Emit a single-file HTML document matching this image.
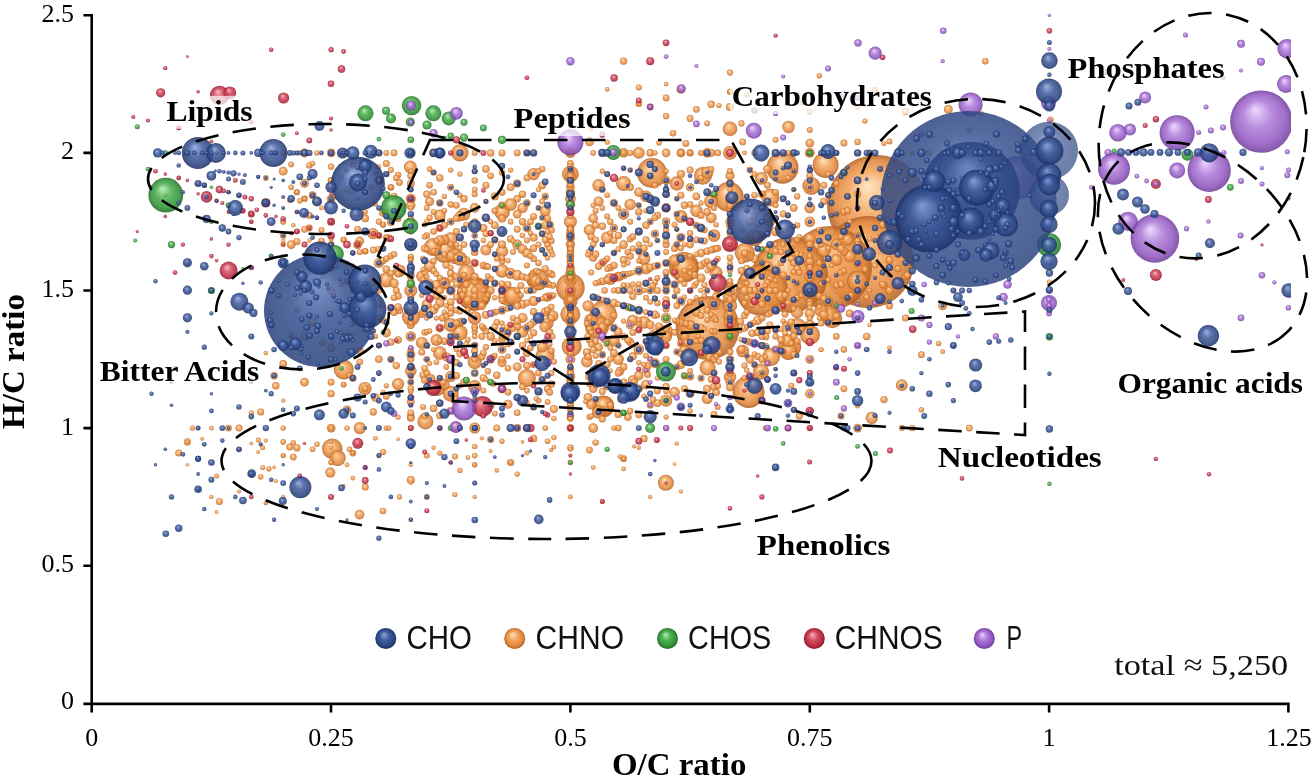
<!DOCTYPE html>
<html lang="en">
<head>
<meta charset="utf-8">
<title>Van Krevelen diagram</title>
<style>
html,body{margin:0;padding:0;background:#fff;}
body{width:1313px;height:781px;overflow:hidden;font-family:"Liberation Serif",serif;}
svg{display:block;}
.b{fill:url(#gb);fill-opacity:.86}
.B{fill:url(#gB);fill-opacity:.86}
.B2{fill:url(#gB2);fill-opacity:.85}
.B3{fill:url(#gB2);fill-opacity:.7}
.o{fill:url(#go);fill-opacity:.88}
.g{fill:url(#gg);fill-opacity:.88}
.r{fill:url(#gr);fill-opacity:.88}
.p{fill:url(#gp);fill-opacity:.85}
.tick{font-family:"Liberation Serif",serif;font-size:26px;fill:#000;}
.lab{font-family:"Liberation Serif",serif;font-weight:bold;font-size:30px;fill:#000;}
.axt{font-family:"Liberation Serif",serif;font-weight:bold;font-size:32px;fill:#000;}
.leg{font-family:"Liberation Sans",sans-serif;font-size:32.5px;fill:#111;}
.dash{fill:none;stroke:#000;stroke-width:2.6;stroke-dasharray:23.5 14.5;}
.ax{stroke:#000;stroke-width:2.6;fill:none;}
</style>
</head>
<body>
<svg width="1313" height="781" viewBox="0 0 1313 781">
<defs>
<radialGradient id="gb" cx=".5" cy=".5" r=".5" fx=".4" fy=".3"><stop offset="0" stop-color="#8aa4dc"/><stop offset=".45" stop-color="#3f5c9c"/><stop offset=".8" stop-color="#2a4583"/><stop offset="1" stop-color="#1b2e62"/></radialGradient>
<radialGradient id="gB2" cx=".5" cy=".5" r=".5" fx=".47" fy=".28"><stop offset="0" stop-color="#6681b9"/><stop offset=".5" stop-color="#3a5592"/><stop offset="1" stop-color="#2e4680"/></radialGradient>
<radialGradient id="gB" cx=".5" cy=".5" r=".5" fx=".46" fy=".25"><stop offset="0" stop-color="#6a86c0"/><stop offset=".5" stop-color="#36528f"/><stop offset="1" stop-color="#2a427c"/></radialGradient>
<radialGradient id="go" cx=".5" cy=".5" r=".5" fx=".4" fy=".3"><stop offset="0" stop-color="#ffe2ba"/><stop offset=".45" stop-color="#f3a45d"/><stop offset=".8" stop-color="#e0883f"/><stop offset="1" stop-color="#b26124"/></radialGradient>
<radialGradient id="gg" cx=".5" cy=".5" r=".5" fx=".4" fy=".3"><stop offset="0" stop-color="#b0ecb0"/><stop offset=".45" stop-color="#4bae4e"/><stop offset=".8" stop-color="#33933a"/><stop offset="1" stop-color="#216a27"/></radialGradient>
<radialGradient id="gr" cx=".5" cy=".5" r=".5" fx=".4" fy=".3"><stop offset="0" stop-color="#f9b0ba"/><stop offset=".45" stop-color="#d24c61"/><stop offset=".8" stop-color="#ba2d45"/><stop offset="1" stop-color="#861c30"/></radialGradient>
<radialGradient id="gp" cx=".5" cy=".5" r=".5" fx=".4" fy=".3"><stop offset="0" stop-color="#ead2fd"/><stop offset=".45" stop-color="#ac77d8"/><stop offset=".8" stop-color="#9156c0"/><stop offset="1" stop-color="#6b3b98"/></radialGradient>
<clipPath id="clip"><rect x="0" y="0" width="1291" height="781"/></clipPath>
</defs>
<rect width="1313" height="781" fill="#fff"/>

<g id="bubbles" clip-path="url(#clip)">
<circle class="o" cx="877.0" cy="205.0" r="50.0"/>
<circle class="o" cx="868.0" cy="262.0" r="46.0"/>
<circle class="o" cx="830.0" cy="268.0" r="42.0"/>
<circle class="o" cx="790.0" cy="275.0" r="38.0"/>
<circle class="o" cx="707.6" cy="328.0" r="32.0"/>
<circle class="o" cx="762.0" cy="290.0" r="26.0"/>
<circle class="o" cx="474.2" cy="293.8" r="17.0"/>
<circle class="o" cx="473.6" cy="294.0" r="16.6"/>
<circle class="o" cx="782.5" cy="167.7" r="16.0"/>
<circle class="o" cx="748.6" cy="392.0" r="16.0"/>
<circle class="o" cx="652.0" cy="173.0" r="15.0"/>
<circle class="o" cx="728.8" cy="197.0" r="15.0"/>
<circle class="o" cx="684.0" cy="267.0" r="15.0"/>
<circle class="o" cx="570.4" cy="287.7" r="14.3"/>
<circle class="o" cx="603.2" cy="314.3" r="13.5"/>
<circle class="o" cx="685.0" cy="269.0" r="13.5"/>
<circle class="o" cx="825.6" cy="165.0" r="13.0"/>
<circle class="o" cx="597.0" cy="326.6" r="12.0"/>
<circle class="o" cx="445.0" cy="251.5" r="11.5"/>
<circle class="o" cx="789.6" cy="347.0" r="11.5"/>
<circle class="o" cx="537.7" cy="279.5" r="11.0"/>
<circle class="o" cx="603.2" cy="406.4" r="11.0"/>
<circle class="o" cx="857.6" cy="281.3" r="10.6"/>
<circle class="o" cx="332.2" cy="448.8" r="10.2"/>
<circle class="o" cx="343.8" cy="369.5" r="10.0"/>
<circle class="o" cx="570.4" cy="314.3" r="10.0"/>
<circle class="o" cx="810.0" cy="334.8" r="10.0"/>
<circle class="o" cx="832.3" cy="318.3" r="10.0"/>
<circle class="o" cx="571.7" cy="346.5" r="10.0"/>
<circle class="o" cx="603.8" cy="406.0" r="10.0"/>
<circle class="o" cx="744.8" cy="252.7" r="10.0"/>
<circle class="o" cx="508.0" cy="296.5" r="9.5"/>
<circle class="o" cx="545.2" cy="355.7" r="9.4"/>
<circle class="o" cx="513.0" cy="296.0" r="9.2"/>
<circle class="o" cx="703.0" cy="175.7" r="9.0"/>
<circle class="o" cx="411.0" cy="317.0" r="9.0"/>
<circle class="o" cx="771.0" cy="357.0" r="9.0"/>
<circle class="o" cx="433.0" cy="247.0" r="9.0"/>
<circle class="o" cx="788.4" cy="351.2" r="9.0"/>
<circle class="o" cx="811.4" cy="186.0" r="9.0"/>
<circle class="o" cx="770.4" cy="197.6" r="9.0"/>
<circle class="o" cx="828.0" cy="314.0" r="9.0"/>
<circle class="o" cx="526.9" cy="378.1" r="9.0"/>
<circle class="o" cx="797.2" cy="326.7" r="8.8"/>
<circle class="o" cx="754.5" cy="237.6" r="8.6"/>
<circle class="o" cx="459.9" cy="152.9" r="8.6"/>
<circle class="o" cx="466.3" cy="272.6" r="8.4"/>
<circle class="o" cx="570.4" cy="174.1" r="8.4"/>
<circle class="o" cx="437.0" cy="388.0" r="8.0"/>
<circle class="o" cx="761.0" cy="371.6" r="8.0"/>
<circle class="o" cx="707.6" cy="367.5" r="8.0"/>
<circle class="o" cx="455.0" cy="256.0" r="8.0"/>
<circle class="o" cx="337.7" cy="458.0" r="8.0"/>
<circle class="o" cx="425.4" cy="421.4" r="8.0"/>
<circle class="o" cx="665.9" cy="482.8" r="8.0"/>
<circle class="o" cx="450.7" cy="393.7" r="7.9"/>
<circle class="o" cx="502.0" cy="211.9" r="7.9"/>
<circle class="o" cx="459.9" cy="332.8" r="7.7"/>
<circle class="o" cx="386.3" cy="279.9" r="7.6"/>
<circle class="o" cx="623.6" cy="183.5" r="7.5"/>
<circle class="o" cx="570.4" cy="301.1" r="7.3"/>
<circle class="o" cx="730.0" cy="128.8" r="7.3"/>
<circle class="o" cx="730.0" cy="297.1" r="7.3"/>
<circle class="o" cx="676.8" cy="183.5" r="7.2"/>
<circle class="o" cx="459.9" cy="258.7" r="7.2"/>
<circle class="o" cx="823.8" cy="250.0" r="7.1"/>
<circle class="o" cx="730.0" cy="305.8" r="7.1"/>
<circle class="o" cx="474.7" cy="362.1" r="7.1"/>
<circle class="o" cx="666.1" cy="331.8" r="7.1"/>
<circle class="o" cx="432.7" cy="386.7" r="7.0"/>
<circle class="o" cx="711.2" cy="201.5" r="7.0"/>
<circle class="o" cx="591.2" cy="320.4" r="7.0"/>
<circle class="o" cx="450.7" cy="324.9" r="7.0"/>
<circle class="o" cx="730.0" cy="152.9" r="6.9"/>
<circle class="o" cx="502.0" cy="270.8" r="6.9"/>
<circle class="o" cx="730.0" cy="316.0" r="6.8"/>
<circle class="o" cx="439.8" cy="353.0" r="6.8"/>
<circle class="o" cx="821.1" cy="310.2" r="6.7"/>
<circle class="o" cx="450.7" cy="238.9" r="6.7"/>
<circle class="o" cx="474.7" cy="386.8" r="6.7"/>
<circle class="o" cx="598.6" cy="411.9" r="6.7"/>
<circle class="o" cx="474.7" cy="318.0" r="6.7"/>
<circle class="o" cx="788.0" cy="340.5" r="6.7"/>
<circle class="o" cx="365.0" cy="388.5" r="6.6"/>
<circle class="o" cx="533.6" cy="279.9" r="6.6"/>
<circle class="o" cx="410.8" cy="290.5" r="6.5"/>
<circle class="o" cx="570.4" cy="221.7" r="6.5"/>
<circle class="o" cx="716.1" cy="272.6" r="6.5"/>
<circle class="o" cx="680.9" cy="216.4" r="6.4"/>
<circle class="o" cx="410.3" cy="167.0" r="6.4"/>
<circle class="o" cx="761.5" cy="178.4" r="6.4"/>
<circle class="o" cx="644.0" cy="322.3" r="6.4"/>
<circle class="o" cx="757.7" cy="236.7" r="6.4"/>
<circle class="o" cx="464.0" cy="214.1" r="6.4"/>
<circle class="o" cx="730.0" cy="244.6" r="6.4"/>
<circle class="o" cx="742.7" cy="351.0" r="6.3"/>
<circle class="o" cx="714.0" cy="235.5" r="6.3"/>
<circle class="o" cx="644.0" cy="258.7" r="6.3"/>
<circle class="o" cx="730.0" cy="377.1" r="6.3"/>
<circle class="o" cx="510.6" cy="204.5" r="6.3"/>
<circle class="o" cx="399.4" cy="270.8" r="6.3"/>
<circle class="o" cx="849.6" cy="256.1" r="6.2"/>
<circle class="o" cx="696.4" cy="210.8" r="6.2"/>
<circle class="o" cx="536.2" cy="280.7" r="6.2"/>
<circle class="o" cx="797.2" cy="312.2" r="6.2"/>
<circle class="o" cx="444.4" cy="283.3" r="6.2"/>
<circle class="o" cx="788.5" cy="127.0" r="6.2"/>
<circle class="o" cx="598.6" cy="185.3" r="6.2"/>
<circle class="o" cx="570.4" cy="280.7" r="6.2"/>
<circle class="o" cx="707.2" cy="172.6" r="6.2"/>
<circle class="o" cx="533.6" cy="174.1" r="6.2"/>
<circle class="o" cx="398.1" cy="384.1" r="6.1"/>
<circle class="o" cx="809.8" cy="238.9" r="6.1"/>
<circle class="o" cx="871.8" cy="417.9" r="6.1"/>
<circle class="o" cx="607.2" cy="237.6" r="6.1"/>
<circle class="o" cx="502.0" cy="251.2" r="6.1"/>
<circle class="o" cx="359.8" cy="428.1" r="6.1"/>
<circle class="o" cx="610.3" cy="279.0" r="6.1"/>
<circle class="o" cx="666.1" cy="400.6" r="6.1"/>
<circle class="o" cx="421.8" cy="342.7" r="6.0"/>
<circle class="o" cx="666.1" cy="336.4" r="6.0"/>
<circle class="o" cx="674.5" cy="260.6" r="6.0"/>
<circle class="o" cx="836.3" cy="259.9" r="6.0"/>
<circle class="o" cx="730.0" cy="323.3" r="6.0"/>
<circle class="o" cx="429.6" cy="379.5" r="6.0"/>
<circle class="o" cx="410.8" cy="244.6" r="6.0"/>
<circle class="o" cx="522.5" cy="331.8" r="5.9"/>
<circle class="o" cx="847.5" cy="239.8" r="5.9"/>
<circle class="o" cx="547.6" cy="323.3" r="5.9"/>
<circle class="o" cx="901.8" cy="385.2" r="5.9"/>
<circle class="o" cx="638.8" cy="152.9" r="5.9"/>
<circle class="o" cx="613.9" cy="340.5" r="5.9"/>
<circle class="o" cx="436.4" cy="340.0" r="5.9"/>
<circle class="o" cx="552.7" cy="316.0" r="5.8"/>
<circle class="o" cx="410.8" cy="370.8" r="5.8"/>
<circle class="o" cx="714.0" cy="304.3" r="5.8"/>
<circle class="o" cx="545.2" cy="326.7" r="5.8"/>
<circle class="o" cx="646.0" cy="196.4" r="5.8"/>
<circle class="o" cx="589.5" cy="230.0" r="5.8"/>
<circle class="o" cx="586.9" cy="361.7" r="5.8"/>
<circle class="o" cx="439.8" cy="215.4" r="5.8"/>
<circle class="o" cx="630.2" cy="204.5" r="5.7"/>
<circle class="o" cx="632.8" cy="320.4" r="5.7"/>
<circle class="o" cx="421.8" cy="276.3" r="5.7"/>
<circle class="o" cx="781.0" cy="296.0" r="5.7"/>
<circle class="o" cx="429.6" cy="266.2" r="5.7"/>
<circle class="o" cx="570.4" cy="290.5" r="5.6"/>
<circle class="o" cx="588.1" cy="305.8" r="5.6"/>
<circle class="o" cx="618.3" cy="359.3" r="5.6"/>
<circle class="o" cx="373.0" cy="233.6" r="5.6"/>
<circle class="o" cx="809.8" cy="263.0" r="5.6"/>
<circle class="o" cx="730.0" cy="290.5" r="5.6"/>
<circle class="o" cx="623.6" cy="214.1" r="5.6"/>
<circle class="o" cx="545.2" cy="210.8" r="5.5"/>
<circle class="o" cx="775.6" cy="270.8" r="5.5"/>
<circle class="o" cx="570.4" cy="175.8" r="5.5"/>
<circle class="o" cx="809.8" cy="290.5" r="5.5"/>
<circle class="o" cx="711.2" cy="217.7" r="5.5"/>
<circle class="o" cx="456.5" cy="426.9" r="5.5"/>
<circle class="o" cx="474.8" cy="428.0" r="5.5"/>
<circle class="o" cx="450.7" cy="376.5" r="5.5"/>
<circle class="o" cx="570.4" cy="302.0" r="5.5"/>
<circle class="o" cx="485.9" cy="250.0" r="5.5"/>
<circle class="o" cx="510.6" cy="273.3" r="5.5"/>
<circle class="o" cx="646.0" cy="268.8" r="5.5"/>
<circle class="o" cx="836.3" cy="244.6" r="5.5"/>
<circle class="o" cx="809.8" cy="276.7" r="5.5"/>
<circle class="o" cx="809.8" cy="207.9" r="5.4"/>
<circle class="o" cx="707.2" cy="398.6" r="5.4"/>
<circle class="o" cx="674.5" cy="392.2" r="5.4"/>
<circle class="o" cx="711.2" cy="266.2" r="5.4"/>
<circle class="o" cx="517.2" cy="275.2" r="5.4"/>
<circle class="o" cx="542.2" cy="347.2" r="5.3"/>
<circle class="o" cx="730.0" cy="336.4" r="5.3"/>
<circle class="o" cx="666.1" cy="318.0" r="5.3"/>
<circle class="o" cx="444.4" cy="384.6" r="5.3"/>
<circle class="o" cx="570.4" cy="198.8" r="5.3"/>
<circle class="o" cx="444.4" cy="239.8" r="5.3"/>
<circle class="o" cx="809.8" cy="221.7" r="5.3"/>
<circle class="o" cx="591.2" cy="404.2" r="5.2"/>
<circle class="o" cx="439.8" cy="240.5" r="5.2"/>
<circle class="o" cx="522.5" cy="207.9" r="5.2"/>
<circle class="o" cx="410.8" cy="336.4" r="5.2"/>
<circle class="o" cx="769.9" cy="221.7" r="5.2"/>
<circle class="o" cx="638.8" cy="349.5" r="5.2"/>
<circle class="o" cx="450.7" cy="256.1" r="5.2"/>
<circle class="o" cx="809.8" cy="313.4" r="5.2"/>
<circle class="o" cx="570.4" cy="321.1" r="5.2"/>
<circle class="o" cx="378.9" cy="263.0" r="5.1"/>
<circle class="o" cx="684.4" cy="349.5" r="5.1"/>
<circle class="o" cx="744.5" cy="290.5" r="5.1"/>
<circle class="o" cx="426.8" cy="304.3" r="5.1"/>
<circle class="o" cx="459.9" cy="216.4" r="5.1"/>
<circle class="o" cx="522.5" cy="318.0" r="5.1"/>
<circle class="o" cx="570.4" cy="273.3" r="5.1"/>
<circle class="o" cx="730.0" cy="198.8" r="5.1"/>
<circle class="o" cx="618.3" cy="276.7" r="5.0"/>
<circle class="o" cx="410.8" cy="198.8" r="5.0"/>
<circle class="o" cx="632.8" cy="380.2" r="5.0"/>
<circle class="o" cx="330.3" cy="472.6" r="5.0"/>
<circle class="o" cx="533.6" cy="301.1" r="5.0"/>
<circle class="o" cx="436.4" cy="285.0" r="5.0"/>
<circle class="o" cx="767.5" cy="266.2" r="5.0"/>
<circle class="o" cx="517.2" cy="244.6" r="5.0"/>
<circle class="o" cx="598.6" cy="201.5" r="5.0"/>
<circle class="o" cx="654.9" cy="363.3" r="5.0"/>
<circle class="o" cx="809.8" cy="324.9" r="5.0"/>
<circle class="o" cx="570.4" cy="152.9" r="5.0"/>
<circle class="o" cx="690.1" cy="324.9" r="5.0"/>
<circle class="o" cx="707.2" cy="152.9" r="4.9"/>
<circle class="o" cx="593.2" cy="428.1" r="4.9"/>
<circle class="o" cx="570.4" cy="359.3" r="4.9"/>
<circle class="o" cx="410.8" cy="310.2" r="4.9"/>
<circle class="o" cx="522.5" cy="249.2" r="4.9"/>
<circle class="o" cx="450.7" cy="290.5" r="4.9"/>
<circle class="o" cx="646.0" cy="384.6" r="4.9"/>
<circle class="o" cx="823.8" cy="314.8" r="4.9"/>
<circle class="o" cx="623.6" cy="152.9" r="4.9"/>
<circle class="o" cx="828.2" cy="301.1" r="4.9"/>
<circle class="o" cx="809.8" cy="152.9" r="4.9"/>
<circle class="o" cx="666.1" cy="207.9" r="4.8"/>
<circle class="o" cx="570.4" cy="376.5" r="4.8"/>
<circle class="o" cx="593.2" cy="218.4" r="4.8"/>
<circle class="o" cx="570.4" cy="204.5" r="4.8"/>
<circle class="o" cx="638.8" cy="375.7" r="4.8"/>
<circle class="o" cx="775.6" cy="231.5" r="4.8"/>
<circle class="o" cx="474.7" cy="207.9" r="4.8"/>
<circle class="o" cx="359.6" cy="514.6" r="4.8"/>
<circle class="o" cx="394.0" cy="283.3" r="4.8"/>
<circle class="o" cx="638.8" cy="290.5" r="4.8"/>
<circle class="o" cx="602.3" cy="327.2" r="4.8"/>
<circle class="o" cx="526.9" cy="253.0" r="4.8"/>
<circle class="o" cx="450.7" cy="359.3" r="4.8"/>
<circle class="o" cx="638.8" cy="192.2" r="4.7"/>
<circle class="o" cx="638.8" cy="270.8" r="4.7"/>
<circle class="o" cx="547.6" cy="297.1" r="4.7"/>
<circle class="o" cx="439.8" cy="303.0" r="4.7"/>
<circle class="o" cx="378.9" cy="180.4" r="4.7"/>
<circle class="o" cx="570.4" cy="192.2" r="4.7"/>
<circle class="o" cx="570.4" cy="336.4" r="4.7"/>
<circle class="o" cx="570.4" cy="244.6" r="4.7"/>
<circle class="o" cx="454.9" cy="399.6" r="4.7"/>
<circle class="o" cx="410.8" cy="205.3" r="4.7"/>
<circle class="o" cx="680.9" cy="301.1" r="4.7"/>
<circle class="o" cx="757.7" cy="320.4" r="4.7"/>
<circle class="o" cx="767.5" cy="217.7" r="4.7"/>
<circle class="o" cx="809.8" cy="393.7" r="4.7"/>
<circle class="o" cx="386.3" cy="332.8" r="4.6"/>
<circle class="o" cx="730.0" cy="221.7" r="4.6"/>
<circle class="o" cx="730.0" cy="175.8" r="4.6"/>
<circle class="o" cx="502.0" cy="362.6" r="4.6"/>
<circle class="o" cx="446.3" cy="356.8" r="4.6"/>
<circle class="o" cx="570.4" cy="318.0" r="4.6"/>
<circle class="o" cx="680.9" cy="237.6" r="4.6"/>
<circle class="o" cx="467.8" cy="300.3" r="4.6"/>
<circle class="o" cx="701.0" cy="278.0" r="4.6"/>
<circle class="o" cx="775.6" cy="310.2" r="4.6"/>
<circle class="o" cx="684.4" cy="336.4" r="4.6"/>
<circle class="o" cx="429.6" cy="201.5" r="4.6"/>
<circle class="o" cx="545.2" cy="312.2" r="4.6"/>
<circle class="o" cx="674.5" cy="272.6" r="4.5"/>
<circle class="o" cx="517.2" cy="366.9" r="4.5"/>
<circle class="o" cx="508.0" cy="404.2" r="4.5"/>
<circle class="o" cx="809.8" cy="261.0" r="4.5"/>
<circle class="o" cx="638.8" cy="310.2" r="4.5"/>
<circle class="o" cx="809.8" cy="187.3" r="4.5"/>
<circle class="o" cx="522.5" cy="304.3" r="4.5"/>
<circle class="o" cx="650.2" cy="324.9" r="4.5"/>
<circle class="o" cx="709.4" cy="357.1" r="4.5"/>
<circle class="o" cx="570.4" cy="345.5" r="4.5"/>
<circle class="o" cx="588.1" cy="397.5" r="4.5"/>
<circle class="o" cx="696.4" cy="312.2" r="4.5"/>
<circle class="o" cx="843.9" cy="251.2" r="4.5"/>
<circle class="o" cx="410.8" cy="354.7" r="4.5"/>
<circle class="o" cx="570.4" cy="237.6" r="4.5"/>
<circle class="o" cx="701.0" cy="228.0" r="4.4"/>
<circle class="o" cx="680.9" cy="364.6" r="4.4"/>
<circle class="o" cx="570.4" cy="235.5" r="4.4"/>
<circle class="o" cx="526.9" cy="328.0" r="4.4"/>
<circle class="o" cx="433.6" cy="152.9" r="4.4"/>
<circle class="o" cx="517.2" cy="214.1" r="4.4"/>
<circle class="o" cx="433.6" cy="310.2" r="4.4"/>
<circle class="o" cx="526.9" cy="228.0" r="4.4"/>
<circle class="o" cx="746.8" cy="210.8" r="4.4"/>
<circle class="o" cx="459.9" cy="322.3" r="4.4"/>
<circle class="o" cx="809.8" cy="359.3" r="4.4"/>
<circle class="o" cx="331.1" cy="428.1" r="4.4"/>
<circle class="o" cx="347.0" cy="409.8" r="4.4"/>
<circle class="o" cx="352.8" cy="190.4" r="4.4"/>
<circle class="o" cx="365.2" cy="310.2" r="4.4"/>
<circle class="o" cx="312.6" cy="258.7" r="4.4"/>
<circle class="o" cx="291.2" cy="244.6" r="4.4"/>
<circle class="o" cx="343.6" cy="152.9" r="4.4"/>
<circle class="o" cx="347.0" cy="336.4" r="4.4"/>
<circle class="o" cx="331.1" cy="290.5" r="4.4"/>
<circle class="o" cx="304.5" cy="336.4" r="4.4"/>
<circle class="o" cx="312.6" cy="322.3" r="4.4"/>
<circle class="o" cx="304.5" cy="152.9" r="4.4"/>
<circle class="o" cx="304.5" cy="382.2" r="4.4"/>
<circle class="o" cx="365.2" cy="310.2" r="4.4"/>
<circle class="o" cx="948.3" cy="109.4" r="4.4"/>
<circle class="o" cx="809.8" cy="143.1" r="4.4"/>
<circle class="o" cx="962.1" cy="152.9" r="4.4"/>
<circle class="o" cx="680.9" cy="89.4" r="4.4"/>
<circle class="o" cx="589.5" cy="141.9" r="4.4"/>
<circle class="o" cx="942.7" cy="305.8" r="4.4"/>
<circle class="o" cx="857.6" cy="428.1" r="4.4"/>
<circle class="o" cx="304.5" cy="183.5" r="4.4"/>
<circle class="o" cx="283.2" cy="171.2" r="4.4"/>
<circle class="o" cx="359.8" cy="241.0" r="4.4"/>
<circle class="o" cx="357.6" cy="244.6" r="4.4"/>
<circle class="o" cx="331.1" cy="198.8" r="4.4"/>
<circle class="o" cx="439.8" cy="328.0" r="4.4"/>
<circle class="o" cx="754.5" cy="258.7" r="4.4"/>
<circle class="o" cx="767.5" cy="169.1" r="4.4"/>
<circle class="o" cx="630.2" cy="324.9" r="4.4"/>
<circle class="o" cx="730.0" cy="382.2" r="4.4"/>
<circle class="o" cx="502.0" cy="388.8" r="4.4"/>
<circle class="o" cx="666.1" cy="180.4" r="4.4"/>
<circle class="o" cx="410.8" cy="152.9" r="4.4"/>
<circle class="o" cx="598.6" cy="347.2" r="4.4"/>
<circle class="o" cx="619.9" cy="371.2" r="4.4"/>
<circle class="o" cx="474.7" cy="281.3" r="4.4"/>
<circle class="o" cx="607.2" cy="385.8" r="4.4"/>
<circle class="o" cx="317.0" cy="201.5" r="4.3"/>
<circle class="o" cx="474.7" cy="290.5" r="4.3"/>
<circle class="o" cx="331.1" cy="152.9" r="4.3"/>
<circle class="o" cx="570.4" cy="318.0" r="4.3"/>
<circle class="o" cx="666.1" cy="152.9" r="4.3"/>
<circle class="o" cx="613.9" cy="328.0" r="4.3"/>
<circle class="o" cx="570.4" cy="267.6" r="4.3"/>
<circle class="o" cx="490.6" cy="336.4" r="4.3"/>
<circle class="o" cx="666.1" cy="281.3" r="4.3"/>
<circle class="o" cx="502.0" cy="349.5" r="4.3"/>
<circle class="o" cx="749.9" cy="359.3" r="4.3"/>
<circle class="o" cx="771.1" cy="277.2" r="4.3"/>
<circle class="o" cx="331.1" cy="347.8" r="4.3"/>
<circle class="o" cx="474.7" cy="263.0" r="4.3"/>
<circle class="o" cx="638.8" cy="388.8" r="4.3"/>
<circle class="o" cx="466.3" cy="260.6" r="4.3"/>
<circle class="o" cx="741.4" cy="349.5" r="4.3"/>
<circle class="o" cx="654.9" cy="314.8" r="4.3"/>
<circle class="o" cx="439.8" cy="290.5" r="4.3"/>
<circle class="o" cx="680.9" cy="322.3" r="4.3"/>
<circle class="o" cx="680.9" cy="152.9" r="4.3"/>
<circle class="o" cx="375.4" cy="397.5" r="4.3"/>
<circle class="o" cx="623.6" cy="244.6" r="4.3"/>
<circle class="o" cx="613.9" cy="303.0" r="4.3"/>
<circle class="o" cx="701.0" cy="253.0" r="4.3"/>
<circle class="o" cx="690.1" cy="393.7" r="4.3"/>
<circle class="o" cx="570.4" cy="187.3" r="4.3"/>
<circle class="o" cx="749.9" cy="256.1" r="4.3"/>
<circle class="o" cx="749.9" cy="221.7" r="4.3"/>
<circle class="o" cx="309.3" cy="253.0" r="4.3"/>
<circle class="o" cx="618.3" cy="331.8" r="4.3"/>
<circle class="o" cx="880.1" cy="201.5" r="4.3"/>
<circle class="o" cx="714.0" cy="318.0" r="4.2"/>
<circle class="o" cx="570.4" cy="382.2" r="4.2"/>
<circle class="o" cx="613.9" cy="228.0" r="4.2"/>
<circle class="o" cx="490.6" cy="290.5" r="4.2"/>
<circle class="o" cx="593.2" cy="388.8" r="4.2"/>
<circle class="o" cx="549.6" cy="224.7" r="4.2"/>
<circle class="o" cx="613.9" cy="202.9" r="4.2"/>
<circle class="o" cx="517.2" cy="326.2" r="4.2"/>
<circle class="o" cx="650.2" cy="267.6" r="4.2"/>
<circle class="o" cx="410.8" cy="221.7" r="4.2"/>
<circle class="o" cx="502.0" cy="310.2" r="4.2"/>
<circle class="o" cx="553.9" cy="409.1" r="4.2"/>
<circle class="o" cx="746.8" cy="239.8" r="4.2"/>
<circle class="o" cx="481.8" cy="305.8" r="4.2"/>
<circle class="o" cx="711.2" cy="152.9" r="4.2"/>
<circle class="o" cx="701.0" cy="353.0" r="4.2"/>
<circle class="o" cx="730.0" cy="359.3" r="4.1"/>
<circle class="o" cx="410.8" cy="305.8" r="4.1"/>
<circle class="o" cx="746.8" cy="254.3" r="4.1"/>
<circle class="o" cx="383.1" cy="212.7" r="4.1"/>
<circle class="o" cx="533.6" cy="237.6" r="4.1"/>
<circle class="o" cx="857.6" cy="263.0" r="4.1"/>
<circle class="o" cx="701.0" cy="265.5" r="4.1"/>
<circle class="o" cx="570.4" cy="305.8" r="4.1"/>
<circle class="o" cx="889.5" cy="290.5" r="4.1"/>
<circle class="o" cx="730.0" cy="207.9" r="4.1"/>
<circle class="o" cx="490.6" cy="405.2" r="4.1"/>
<circle class="o" cx="761.9" cy="207.9" r="4.1"/>
<circle class="o" cx="485.9" cy="314.8" r="4.1"/>
<circle class="o" cx="674.5" cy="284.5" r="4.1"/>
<circle class="o" cx="570.4" cy="329.8" r="4.1"/>
<circle class="o" cx="619.9" cy="276.3" r="4.1"/>
<circle class="o" cx="654.9" cy="201.5" r="4.1"/>
<circle class="o" cx="680.9" cy="174.1" r="4.1"/>
<circle class="o" cx="623.6" cy="275.2" r="4.1"/>
<circle class="o" cx="517.2" cy="428.1" r="4.1"/>
<circle class="o" cx="707.2" cy="388.8" r="4.1"/>
<circle class="o" cx="654.9" cy="233.8" r="4.1"/>
<circle class="o" cx="526.9" cy="353.0" r="4.1"/>
<circle class="o" cx="390.9" cy="221.7" r="4.1"/>
<circle class="o" cx="570.4" cy="397.5" r="4.1"/>
<circle class="o" cx="666.1" cy="221.7" r="4.1"/>
<circle class="o" cx="690.1" cy="187.3" r="4.1"/>
<circle class="o" cx="730.0" cy="107.0" r="4.1"/>
<circle class="o" cx="570.4" cy="328.0" r="4.1"/>
<circle class="o" cx="502.0" cy="218.4" r="4.1"/>
<circle class="o" cx="370.9" cy="279.0" r="4.0"/>
<circle class="o" cx="632.8" cy="356.3" r="4.0"/>
<circle class="o" cx="517.2" cy="305.8" r="4.0"/>
<circle class="o" cx="483.4" cy="228.0" r="4.0"/>
<circle class="o" cx="775.6" cy="349.5" r="4.0"/>
<circle class="o" cx="613.9" cy="278.0" r="4.0"/>
<circle class="o" cx="593.2" cy="257.7" r="4.0"/>
<circle class="o" cx="410.8" cy="183.5" r="4.0"/>
<circle class="o" cx="410.8" cy="275.2" r="4.0"/>
<circle class="o" cx="410.8" cy="324.9" r="4.0"/>
<circle class="o" cx="517.2" cy="183.5" r="4.0"/>
<circle class="o" cx="841.0" cy="248.6" r="4.0"/>
<circle class="o" cx="502.0" cy="244.6" r="4.0"/>
<circle class="o" cx="714.0" cy="194.2" r="4.0"/>
<circle class="o" cx="410.8" cy="480.0" r="4.0"/>
<circle class="o" cx="730.0" cy="183.5" r="4.0"/>
<circle class="o" cx="586.9" cy="352.2" r="4.0"/>
<circle class="o" cx="666.1" cy="263.0" r="4.0"/>
<circle class="o" cx="570.4" cy="256.1" r="4.0"/>
<circle class="o" cx="809.8" cy="244.6" r="4.0"/>
<circle class="o" cx="570.4" cy="269.3" r="4.0"/>
<circle class="o" cx="690.1" cy="376.5" r="4.0"/>
<circle class="o" cx="570.4" cy="194.2" r="4.0"/>
<circle class="o" cx="365.2" cy="162.7" r="4.0"/>
<circle class="o" cx="630.2" cy="342.1" r="4.0"/>
<circle class="o" cx="570.4" cy="233.2" r="4.0"/>
<circle class="o" cx="602.3" cy="263.0" r="4.0"/>
<circle class="o" cx="331.1" cy="256.1" r="4.0"/>
<circle class="o" cx="494.8" cy="196.4" r="3.9"/>
<circle class="o" cx="474.7" cy="373.1" r="3.9"/>
<circle class="o" cx="730.0" cy="387.3" r="3.9"/>
<circle class="o" cx="474.7" cy="299.7" r="3.9"/>
<circle class="o" cx="744.5" cy="278.0" r="3.9"/>
<circle class="o" cx="542.2" cy="185.3" r="3.9"/>
<circle class="o" cx="474.7" cy="252.0" r="3.9"/>
<circle class="o" cx="659.0" cy="336.4" r="3.9"/>
<circle class="o" cx="545.2" cy="225.3" r="3.9"/>
<circle class="o" cx="657.4" cy="403.1" r="3.9"/>
<circle class="o" cx="450.7" cy="410.9" r="3.9"/>
<circle class="o" cx="570.4" cy="195.2" r="3.9"/>
<circle class="o" cx="474.7" cy="276.7" r="3.9"/>
<circle class="o" cx="719.0" cy="352.2" r="3.9"/>
<circle class="o" cx="843.9" cy="172.6" r="3.9"/>
<circle class="o" cx="716.1" cy="296.5" r="3.9"/>
<circle class="o" cx="761.9" cy="235.5" r="3.9"/>
<circle class="o" cx="765.4" cy="336.4" r="3.9"/>
<circle class="o" cx="439.8" cy="228.0" r="3.9"/>
<circle class="o" cx="690.1" cy="221.7" r="3.9"/>
<circle class="o" cx="740.3" cy="321.6" r="3.9"/>
<circle class="o" cx="889.5" cy="259.9" r="3.9"/>
<circle class="o" cx="613.9" cy="353.0" r="3.9"/>
<circle class="o" cx="312.6" cy="195.2" r="3.9"/>
<circle class="o" cx="410.8" cy="366.9" r="3.9"/>
<circle class="o" cx="602.3" cy="281.3" r="3.9"/>
<circle class="o" cx="666.1" cy="290.5" r="3.9"/>
<circle class="o" cx="386.3" cy="269.3" r="3.8"/>
<circle class="o" cx="570.4" cy="180.4" r="3.8"/>
<circle class="o" cx="714.0" cy="345.5" r="3.8"/>
<circle class="o" cx="793.8" cy="152.9" r="3.8"/>
<circle class="o" cx="436.4" cy="296.0" r="3.8"/>
<circle class="o" cx="450.7" cy="221.7" r="3.8"/>
<circle class="o" cx="646.0" cy="370.2" r="3.8"/>
<circle class="o" cx="570.4" cy="279.9" r="3.8"/>
<circle class="o" cx="783.2" cy="275.2" r="3.8"/>
<circle class="o" cx="610.3" cy="267.6" r="3.8"/>
<circle class="o" cx="378.9" cy="359.3" r="3.8"/>
<circle class="o" cx="604.6" cy="339.6" r="3.8"/>
<circle class="o" cx="551.3" cy="318.0" r="3.8"/>
<circle class="o" cx="570.4" cy="428.1" r="3.8"/>
<circle class="o" cx="502.0" cy="297.1" r="3.8"/>
<circle class="o" cx="538.5" cy="318.0" r="3.8"/>
<circle class="o" cx="638.8" cy="231.5" r="3.8"/>
<circle class="o" cx="359.8" cy="351.0" r="3.8"/>
<circle class="o" cx="398.1" cy="296.0" r="3.8"/>
<circle class="o" cx="841.0" cy="284.5" r="3.8"/>
<circle class="o" cx="466.3" cy="284.5" r="3.8"/>
<circle class="o" cx="410.8" cy="416.6" r="3.8"/>
<circle class="o" cx="446.3" cy="265.0" r="3.8"/>
<circle class="o" cx="588.1" cy="356.8" r="3.8"/>
<circle class="o" cx="570.4" cy="170.1" r="3.8"/>
<circle class="o" cx="730.0" cy="366.9" r="3.8"/>
<circle class="o" cx="793.8" cy="207.9" r="3.8"/>
<circle class="o" cx="657.4" cy="265.5" r="3.8"/>
<circle class="o" cx="685.9" cy="342.7" r="3.8"/>
<circle class="o" cx="690.1" cy="244.6" r="3.8"/>
<circle class="o" cx="421.8" cy="314.2" r="3.8"/>
<circle class="o" cx="613.9" cy="265.5" r="3.8"/>
<circle class="o" cx="547.6" cy="283.9" r="3.8"/>
<circle class="o" cx="526.9" cy="365.6" r="3.8"/>
<circle class="o" cx="646.0" cy="283.3" r="3.8"/>
<circle class="o" cx="570.4" cy="229.3" r="3.8"/>
<circle class="o" cx="696.4" cy="196.4" r="3.8"/>
<circle class="o" cx="454.9" cy="276.3" r="3.8"/>
<circle class="o" cx="595.6" cy="225.3" r="3.8"/>
<circle class="o" cx="462.3" cy="321.6" r="3.8"/>
<circle class="o" cx="570.4" cy="304.3" r="3.8"/>
<circle class="o" cx="522.5" cy="276.7" r="3.8"/>
<circle class="o" cx="410.8" cy="417.9" r="3.8"/>
<circle class="o" cx="707.2" cy="211.9" r="3.8"/>
<circle class="o" cx="502.0" cy="205.3" r="3.8"/>
<circle class="o" cx="730.0" cy="373.1" r="3.8"/>
<circle class="o" cx="474.7" cy="226.3" r="3.8"/>
<circle class="o" cx="283.2" cy="363.9" r="3.8"/>
<circle class="o" cx="508.0" cy="332.4" r="3.8"/>
<circle class="o" cx="746.8" cy="268.8" r="3.8"/>
<circle class="o" cx="410.8" cy="308.8" r="3.8"/>
<circle class="o" cx="659.0" cy="326.2" r="3.8"/>
<circle class="o" cx="394.0" cy="312.2" r="3.8"/>
<circle class="o" cx="634.2" cy="382.2" r="3.8"/>
<circle class="o" cx="650.2" cy="152.9" r="3.8"/>
<circle class="o" cx="791.3" cy="322.3" r="3.8"/>
<circle class="o" cx="623.6" cy="259.9" r="3.8"/>
<circle class="o" cx="423.1" cy="311.7" r="3.8"/>
<circle class="o" cx="538.5" cy="226.3" r="3.8"/>
<circle class="o" cx="744.5" cy="253.0" r="3.8"/>
<circle class="o" cx="714.0" cy="359.3" r="3.8"/>
<circle class="o" cx="730.0" cy="205.3" r="3.8"/>
<circle class="o" cx="570.4" cy="180.4" r="3.8"/>
<circle class="o" cx="704.4" cy="351.0" r="3.8"/>
<circle class="o" cx="442.7" cy="382.2" r="3.8"/>
<circle class="o" cx="485.9" cy="169.1" r="3.8"/>
<circle class="o" cx="464.0" cy="382.2" r="3.8"/>
<circle class="o" cx="352.8" cy="378.1" r="3.8"/>
<circle class="o" cx="680.9" cy="343.4" r="3.8"/>
<circle class="o" cx="549.6" cy="332.4" r="3.8"/>
<circle class="o" cx="647.6" cy="366.0" r="3.8"/>
<circle class="o" cx="836.3" cy="316.0" r="3.8"/>
<circle class="o" cx="761.9" cy="272.2" r="3.8"/>
<circle class="o" cx="551.3" cy="296.0" r="3.8"/>
<circle class="o" cx="483.4" cy="378.1" r="3.8"/>
<circle class="o" cx="618.3" cy="414.3" r="3.8"/>
<circle class="o" cx="494.8" cy="225.3" r="3.8"/>
<circle class="o" cx="680.9" cy="152.9" r="3.8"/>
<circle class="o" cx="754.5" cy="290.5" r="3.8"/>
<circle class="o" cx="410.8" cy="401.9" r="3.8"/>
<circle class="o" cx="450.7" cy="302.0" r="3.8"/>
<circle class="o" cx="793.8" cy="336.4" r="3.8"/>
<circle class="o" cx="666.1" cy="304.3" r="3.8"/>
<circle class="o" cx="761.9" cy="263.0" r="3.8"/>
<circle class="o" cx="623.6" cy="366.9" r="3.8"/>
<circle class="o" cx="533.6" cy="311.7" r="3.8"/>
<circle class="o" cx="849.6" cy="313.4" r="3.8"/>
<circle class="o" cx="424.7" cy="248.6" r="3.8"/>
<circle class="o" cx="398.1" cy="340.0" r="3.8"/>
<circle class="o" cx="690.1" cy="359.3" r="3.8"/>
<circle class="o" cx="716.1" cy="392.2" r="3.8"/>
<circle class="o" cx="510.6" cy="187.3" r="3.8"/>
<circle class="o" cx="650.2" cy="290.5" r="3.8"/>
<circle class="o" cx="365.2" cy="218.4" r="3.8"/>
<circle class="o" cx="542.2" cy="379.5" r="3.8"/>
<circle class="o" cx="694.5" cy="275.2" r="3.8"/>
<circle class="o" cx="570.4" cy="303.0" r="3.8"/>
<circle class="o" cx="744.5" cy="328.0" r="3.8"/>
<circle class="o" cx="623.6" cy="382.2" r="3.8"/>
<circle class="o" cx="517.2" cy="321.1" r="3.8"/>
<circle class="o" cx="627.8" cy="417.1" r="3.8"/>
<circle class="o" cx="765.4" cy="346.6" r="3.8"/>
<circle class="o" cx="456.4" cy="323.3" r="3.7"/>
<circle class="o" cx="680.9" cy="258.7" r="3.7"/>
<circle class="o" cx="761.9" cy="194.2" r="3.7"/>
<circle class="o" cx="547.6" cy="388.8" r="3.7"/>
<circle class="o" cx="761.9" cy="331.8" r="3.7"/>
<circle class="o" cx="424.7" cy="272.6" r="3.7"/>
<circle class="o" cx="570.4" cy="259.9" r="3.7"/>
<circle class="o" cx="781.0" cy="340.0" r="3.7"/>
<circle class="o" cx="522.5" cy="221.7" r="3.7"/>
<circle class="o" cx="730.0" cy="226.3" r="3.7"/>
<circle class="o" cx="882.6" cy="224.7" r="3.7"/>
<circle class="o" cx="676.8" cy="321.1" r="3.7"/>
<circle class="o" cx="595.6" cy="326.7" r="3.7"/>
<circle class="o" cx="274.1" cy="375.7" r="3.7"/>
<circle class="o" cx="275.8" cy="385.8" r="3.7"/>
<circle class="o" cx="630.2" cy="187.3" r="3.7"/>
<circle class="o" cx="444.4" cy="341.2" r="3.7"/>
<circle class="o" cx="741.4" cy="270.8" r="3.7"/>
<circle class="o" cx="769.9" cy="279.0" r="3.7"/>
<circle class="o" cx="570.4" cy="331.8" r="3.7"/>
<circle class="o" cx="819.3" cy="296.0" r="3.7"/>
<circle class="o" cx="378.9" cy="304.3" r="3.7"/>
<circle class="o" cx="570.4" cy="299.7" r="3.7"/>
<circle class="o" cx="730.0" cy="299.7" r="3.7"/>
<circle class="o" cx="602.3" cy="226.3" r="3.7"/>
<circle class="o" cx="769.9" cy="290.5" r="3.7"/>
<circle class="o" cx="595.6" cy="254.3" r="3.7"/>
<circle class="o" cx="884.0" cy="285.8" r="3.7"/>
<circle class="o" cx="439.8" cy="202.9" r="3.7"/>
<circle class="o" cx="396.3" cy="365.6" r="3.7"/>
<circle class="o" cx="570.4" cy="388.8" r="3.7"/>
<circle class="o" cx="866.7" cy="336.4" r="3.7"/>
<circle class="o" cx="809.8" cy="302.0" r="3.7"/>
<circle class="o" cx="464.0" cy="351.7" r="3.7"/>
<circle class="o" cx="494.8" cy="283.3" r="3.7"/>
<circle class="o" cx="638.8" cy="211.9" r="3.7"/>
<circle class="o" cx="588.1" cy="336.4" r="3.7"/>
<circle class="o" cx="767.5" cy="201.5" r="3.7"/>
<circle class="o" cx="754.5" cy="301.1" r="3.7"/>
<circle class="o" cx="788.0" cy="253.0" r="3.7"/>
<circle class="o" cx="442.7" cy="318.0" r="3.7"/>
<circle class="o" cx="522.5" cy="194.2" r="3.7"/>
<circle class="o" cx="483.4" cy="403.1" r="3.7"/>
<circle class="o" cx="717.7" cy="279.9" r="3.7"/>
<circle class="o" cx="809.8" cy="152.9" r="3.7"/>
<circle class="o" cx="570.4" cy="378.1" r="3.7"/>
<circle class="o" cx="490.6" cy="313.4" r="3.7"/>
<circle class="o" cx="439.8" cy="177.9" r="3.7"/>
<circle class="o" cx="591.2" cy="236.7" r="3.7"/>
<circle class="o" cx="684.4" cy="205.3" r="3.7"/>
<circle class="o" cx="481.8" cy="356.8" r="3.7"/>
<circle class="o" cx="502.0" cy="339.6" r="3.7"/>
<circle class="o" cx="483.4" cy="265.5" r="3.7"/>
<circle class="o" cx="410.8" cy="267.6" r="3.7"/>
<circle class="o" cx="666.1" cy="386.8" r="3.7"/>
<circle class="o" cx="533.6" cy="322.3" r="3.7"/>
<circle class="o" cx="823.8" cy="152.9" r="3.7"/>
<circle class="o" cx="423.1" cy="375.2" r="3.7"/>
<circle class="o" cx="843.9" cy="211.9" r="3.7"/>
<circle class="o" cx="496.8" cy="375.2" r="3.7"/>
<circle class="o" cx="433.6" cy="408.4" r="3.7"/>
<circle class="o" cx="714.0" cy="386.8" r="3.7"/>
<circle class="o" cx="570.4" cy="403.1" r="3.7"/>
<circle class="o" cx="570.4" cy="273.3" r="3.7"/>
<circle class="o" cx="630.2" cy="307.7" r="3.7"/>
<circle class="o" cx="607.2" cy="152.9" r="3.7"/>
<circle class="o" cx="570.4" cy="205.8" r="3.7"/>
<circle class="o" cx="570.4" cy="345.5" r="3.7"/>
<circle class="o" cx="823.8" cy="298.6" r="3.7"/>
<circle class="o" cx="602.3" cy="354.7" r="3.7"/>
<circle class="o" cx="638.8" cy="251.2" r="3.7"/>
<circle class="o" cx="526.9" cy="152.9" r="3.7"/>
<circle class="o" cx="570.4" cy="393.7" r="3.7"/>
<circle class="o" cx="510.6" cy="342.1" r="3.7"/>
<circle class="o" cx="394.0" cy="196.4" r="3.7"/>
<circle class="o" cx="783.2" cy="351.7" r="3.7"/>
<circle class="o" cx="530.5" cy="324.9" r="3.7"/>
<circle class="o" cx="707.2" cy="251.2" r="3.7"/>
<circle class="o" cx="510.6" cy="238.9" r="3.7"/>
<circle class="o" cx="598.6" cy="266.2" r="3.7"/>
<circle class="o" cx="517.2" cy="198.8" r="3.7"/>
<circle class="o" cx="646.0" cy="225.3" r="3.7"/>
<circle class="o" cx="618.3" cy="235.5" r="3.7"/>
<circle class="o" cx="388.8" cy="238.3" r="3.7"/>
<circle class="o" cx="464.0" cy="198.8" r="3.7"/>
<circle class="o" cx="526.9" cy="202.9" r="3.7"/>
<circle class="o" cx="752.0" cy="333.2" r="3.7"/>
<circle class="o" cx="666.1" cy="345.5" r="3.7"/>
<circle class="o" cx="570.4" cy="152.9" r="3.7"/>
<circle class="o" cx="666.1" cy="373.1" r="3.7"/>
<circle class="o" cx="450.7" cy="273.3" r="3.7"/>
<circle class="o" cx="644.0" cy="248.2" r="3.7"/>
<circle class="o" cx="610.3" cy="405.2" r="3.7"/>
<circle class="o" cx="730.0" cy="285.4" r="3.7"/>
<circle class="o" cx="545.2" cy="283.3" r="3.7"/>
<circle class="o" cx="761.9" cy="304.3" r="3.7"/>
<circle class="o" cx="399.4" cy="310.2" r="3.7"/>
<circle class="o" cx="711.2" cy="104.3" r="3.7"/>
<circle class="o" cx="390.9" cy="342.1" r="3.7"/>
<circle class="o" cx="442.7" cy="281.3" r="3.7"/>
<circle class="o" cx="398.1" cy="307.0" r="3.7"/>
<circle class="o" cx="627.8" cy="307.0" r="3.7"/>
<circle class="o" cx="551.3" cy="274.0" r="3.7"/>
<circle class="o" cx="533.6" cy="248.2" r="3.7"/>
<circle class="o" cx="570.4" cy="258.7" r="3.7"/>
<circle class="o" cx="823.8" cy="201.5" r="3.7"/>
<circle class="o" cx="889.5" cy="305.8" r="3.7"/>
<circle class="o" cx="630.2" cy="256.1" r="3.7"/>
<circle class="o" cx="474.7" cy="345.5" r="3.7"/>
<circle class="o" cx="785.0" cy="295.2" r="3.7"/>
<circle class="o" cx="701.0" cy="328.0" r="3.7"/>
<circle class="o" cx="436.4" cy="252.0" r="3.7"/>
<circle class="o" cx="490.6" cy="152.9" r="3.7"/>
<circle class="o" cx="684.4" cy="375.7" r="3.7"/>
<circle class="o" cx="450.7" cy="336.4" r="3.6"/>
<circle class="o" cx="373.3" cy="411.9" r="3.6"/>
<circle class="o" cx="701.0" cy="378.1" r="3.6"/>
<circle class="o" cx="714.0" cy="263.0" r="3.6"/>
<circle class="o" cx="690.1" cy="152.9" r="3.6"/>
<circle class="o" cx="749.9" cy="342.1" r="3.6"/>
<circle class="o" cx="545.2" cy="297.7" r="3.6"/>
<circle class="o" cx="494.8" cy="239.8" r="3.6"/>
<circle class="o" cx="809.8" cy="267.6" r="3.6"/>
<circle class="o" cx="775.6" cy="152.9" r="3.6"/>
<circle class="o" cx="533.6" cy="406.9" r="3.6"/>
<circle class="o" cx="331.1" cy="393.7" r="3.6"/>
<circle class="o" cx="757.7" cy="332.4" r="3.6"/>
<circle class="o" cx="754.5" cy="343.4" r="3.6"/>
<circle class="o" cx="570.4" cy="428.1" r="3.6"/>
<circle class="o" cx="905.5" cy="318.0" r="3.6"/>
<circle class="o" cx="456.4" cy="218.4" r="3.6"/>
<circle class="o" cx="680.9" cy="279.9" r="3.6"/>
<circle class="o" cx="570.4" cy="183.5" r="3.6"/>
<circle class="o" cx="533.6" cy="332.8" r="3.6"/>
<circle class="o" cx="632.8" cy="296.5" r="3.6"/>
<circle class="o" cx="446.3" cy="285.4" r="3.6"/>
<circle class="o" cx="707.2" cy="310.2" r="3.6"/>
<circle class="o" cx="547.6" cy="310.2" r="3.6"/>
<circle class="o" cx="696.4" cy="225.3" r="3.6"/>
<circle class="o" cx="618.3" cy="373.1" r="3.6"/>
<circle class="o" cx="439.8" cy="403.1" r="3.6"/>
<circle class="o" cx="905.5" cy="276.7" r="3.6"/>
<circle class="o" cx="424.7" cy="380.2" r="3.6"/>
<circle class="o" cx="666.1" cy="244.6" r="3.6"/>
<circle class="o" cx="485.9" cy="217.7" r="3.6"/>
<circle class="o" cx="545.2" cy="196.4" r="3.6"/>
<circle class="o" cx="757.7" cy="356.3" r="3.6"/>
<circle class="o" cx="522.5" cy="345.5" r="3.6"/>
<circle class="o" cx="788.0" cy="328.0" r="3.6"/>
<circle class="o" cx="793.8" cy="354.7" r="3.6"/>
<circle class="o" cx="595.6" cy="384.6" r="3.6"/>
<circle class="o" cx="533.6" cy="438.7" r="3.6"/>
<circle class="o" cx="510.6" cy="462.5" r="3.6"/>
<circle class="o" cx="644.0" cy="438.7" r="3.6"/>
<circle class="o" cx="187.4" cy="441.9" r="3.6"/>
<circle class="o" cx="296.9" cy="447.8" r="3.6"/>
<circle class="o" cx="701.0" cy="215.4" r="3.6"/>
<circle class="o" cx="383.1" cy="260.6" r="3.6"/>
<circle class="o" cx="607.2" cy="343.4" r="3.6"/>
<circle class="o" cx="570.4" cy="369.1" r="3.6"/>
<circle class="o" cx="613.9" cy="240.5" r="3.6"/>
<circle class="o" cx="517.2" cy="336.4" r="3.6"/>
<circle class="o" cx="754.5" cy="364.6" r="3.6"/>
<circle class="o" cx="456.4" cy="283.9" r="3.6"/>
<circle class="o" cx="450.7" cy="307.7" r="3.6"/>
<circle class="o" cx="809.8" cy="175.8" r="3.6"/>
<circle class="o" cx="797.2" cy="268.8" r="3.6"/>
<circle class="o" cx="589.5" cy="252.0" r="3.6"/>
<circle class="o" cx="781.0" cy="351.0" r="3.6"/>
<circle class="o" cx="378.9" cy="318.0" r="3.6"/>
<circle class="o" cx="744.5" cy="315.5" r="3.6"/>
<circle class="o" cx="638.8" cy="329.8" r="3.6"/>
<circle class="o" cx="474.7" cy="351.0" r="3.6"/>
<circle class="o" cx="714.0" cy="249.2" r="3.6"/>
<circle class="o" cx="426.8" cy="345.5" r="3.6"/>
<circle class="o" cx="882.6" cy="284.5" r="3.6"/>
<circle class="o" cx="657.4" cy="290.5" r="3.6"/>
<circle class="o" cx="570.4" cy="231.5" r="3.6"/>
<circle class="o" cx="666.1" cy="308.8" r="3.6"/>
<circle class="o" cx="570.4" cy="331.8" r="3.6"/>
<circle class="o" cx="761.9" cy="318.0" r="3.6"/>
<circle class="o" cx="570.4" cy="210.2" r="3.6"/>
<circle class="o" cx="623.6" cy="61.2" r="3.6"/>
<circle class="o" cx="607.2" cy="279.9" r="3.6"/>
<circle class="o" cx="767.5" cy="233.8" r="3.6"/>
<circle class="o" cx="657.4" cy="390.6" r="3.6"/>
<circle class="o" cx="761.9" cy="359.3" r="3.6"/>
<circle class="o" cx="439.8" cy="415.6" r="3.6"/>
<circle class="o" cx="791.3" cy="258.7" r="3.6"/>
<circle class="o" cx="884.0" cy="399.6" r="3.6"/>
<circle class="o" cx="551.3" cy="230.0" r="3.6"/>
<circle class="o" cx="547.6" cy="218.4" r="3.6"/>
<circle class="o" cx="857.6" cy="235.5" r="3.6"/>
<circle class="o" cx="426.8" cy="194.2" r="3.6"/>
<circle class="o" cx="676.8" cy="290.5" r="3.6"/>
<circle class="o" cx="657.4" cy="215.4" r="3.6"/>
<circle class="o" cx="390.9" cy="359.3" r="3.6"/>
<circle class="o" cx="570.4" cy="417.5" r="3.6"/>
<circle class="o" cx="775.6" cy="329.8" r="3.6"/>
<circle class="o" cx="545.2" cy="268.8" r="3.6"/>
<circle class="o" cx="613.9" cy="315.5" r="3.6"/>
<circle class="o" cx="464.0" cy="290.5" r="3.6"/>
<circle class="o" cx="627.8" cy="340.0" r="3.6"/>
<circle class="o" cx="754.5" cy="216.4" r="3.6"/>
<circle class="o" cx="456.4" cy="375.7" r="3.6"/>
<circle class="o" cx="595.6" cy="297.7" r="3.6"/>
<circle class="o" cx="551.3" cy="384.1" r="3.6"/>
<circle class="o" cx="799.3" cy="416.1" r="3.6"/>
<circle class="o" cx="547.6" cy="244.6" r="3.5"/>
<circle class="o" cx="761.9" cy="345.5" r="3.5"/>
<circle class="o" cx="533.6" cy="364.6" r="3.5"/>
<circle class="o" cx="607.2" cy="364.6" r="3.5"/>
<circle class="o" cx="490.6" cy="439.6" r="3.5"/>
<circle class="o" cx="485.9" cy="331.0" r="3.5"/>
<circle class="o" cx="570.4" cy="248.2" r="3.5"/>
<circle class="o" cx="823.8" cy="185.3" r="3.5"/>
<circle class="o" cx="690.1" cy="170.1" r="3.5"/>
<circle class="o" cx="542.2" cy="233.8" r="3.5"/>
<circle class="o" cx="666.1" cy="194.2" r="3.5"/>
<circle class="o" cx="289.8" cy="447.1" r="3.5"/>
<circle class="o" cx="510.6" cy="324.9" r="3.5"/>
<circle class="o" cx="570.4" cy="307.7" r="3.5"/>
<circle class="o" cx="526.9" cy="278.0" r="3.5"/>
<circle class="o" cx="843.9" cy="143.1" r="3.5"/>
<circle class="o" cx="767.5" cy="363.3" r="3.5"/>
<circle class="o" cx="508.0" cy="284.5" r="3.5"/>
<circle class="o" cx="869.6" cy="256.1" r="3.5"/>
<circle class="o" cx="684.4" cy="388.8" r="3.5"/>
<circle class="o" cx="570.4" cy="276.7" r="3.5"/>
<circle class="o" cx="775.6" cy="251.2" r="3.5"/>
<circle class="o" cx="717.7" cy="290.5" r="3.5"/>
<circle class="o" cx="496.8" cy="428.1" r="3.5"/>
<circle class="o" cx="602.3" cy="189.6" r="3.5"/>
<circle class="o" cx="793.8" cy="263.0" r="3.5"/>
<circle class="o" cx="788.0" cy="240.5" r="3.5"/>
<circle class="o" cx="680.9" cy="195.2" r="3.5"/>
<circle class="o" cx="474.7" cy="391.4" r="3.5"/>
<circle class="o" cx="410.8" cy="175.8" r="3.5"/>
<circle class="o" cx="701.0" cy="340.5" r="3.5"/>
<circle class="o" cx="701.0" cy="315.5" r="3.5"/>
<circle class="o" cx="666.1" cy="299.7" r="3.5"/>
<circle class="o" cx="714.0" cy="331.8" r="3.5"/>
<circle class="o" cx="593.2" cy="349.5" r="3.5"/>
<circle class="o" cx="589.5" cy="329.0" r="3.5"/>
<circle class="o" cx="652.9" cy="333.2" r="3.5"/>
<circle class="o" cx="410.8" cy="397.5" r="3.5"/>
<circle class="o" cx="538.5" cy="281.3" r="3.5"/>
<circle class="o" cx="666.1" cy="285.0" r="3.5"/>
<circle class="o" cx="396.3" cy="290.5" r="3.5"/>
<circle class="o" cx="783.2" cy="214.1" r="3.5"/>
<circle class="o" cx="378.9" cy="152.9" r="3.5"/>
<circle class="o" cx="602.3" cy="418.9" r="3.5"/>
<circle class="o" cx="841.0" cy="272.6" r="3.5"/>
<circle class="o" cx="424.7" cy="416.1" r="3.5"/>
<circle class="o" cx="570.4" cy="405.2" r="3.5"/>
<circle class="o" cx="730.0" cy="267.6" r="3.5"/>
<circle class="o" cx="841.0" cy="416.1" r="3.5"/>
<circle class="o" cx="429.6" cy="282.4" r="3.5"/>
<circle class="o" cx="450.7" cy="187.3" r="3.5"/>
<circle class="o" cx="897.9" cy="268.8" r="3.5"/>
<circle class="o" cx="905.5" cy="111.6" r="3.5"/>
<circle class="o" cx="730.0" cy="231.5" r="3.5"/>
<circle class="o" cx="570.4" cy="305.8" r="3.5"/>
<circle class="o" cx="410.8" cy="281.3" r="3.5"/>
<circle class="o" cx="398.1" cy="274.0" r="3.5"/>
<circle class="o" cx="538.5" cy="391.4" r="3.5"/>
<circle class="o" cx="502.0" cy="359.3" r="3.5"/>
<circle class="o" cx="522.5" cy="386.8" r="3.5"/>
<circle class="o" cx="533.6" cy="216.4" r="3.5"/>
<circle class="o" cx="474.7" cy="400.6" r="3.5"/>
<circle class="o" cx="717.7" cy="248.2" r="3.5"/>
<circle class="o" cx="666.1" cy="272.2" r="3.5"/>
<circle class="o" cx="797.2" cy="341.2" r="3.5"/>
<circle class="o" cx="948.3" cy="152.9" r="3.5"/>
<circle class="o" cx="646.0" cy="239.8" r="3.5"/>
<circle class="o" cx="304.5" cy="152.9" r="3.5"/>
<circle class="o" cx="630.2" cy="290.5" r="3.5"/>
<circle class="o" cx="907.3" cy="275.2" r="3.5"/>
<circle class="o" cx="714.0" cy="373.1" r="3.5"/>
<circle class="o" cx="502.0" cy="283.9" r="3.5"/>
<circle class="o" cx="260.7" cy="411.9" r="3.5"/>
<circle class="o" cx="239.0" cy="428.1" r="3.5"/>
<circle class="o" cx="847.5" cy="210.8" r="3.5"/>
<circle class="o" cx="178.7" cy="453.1" r="3.5"/>
<circle class="o" cx="962.1" cy="152.9" r="3.5"/>
<circle class="o" cx="730.0" cy="351.7" r="3.5"/>
<circle class="o" cx="357.6" cy="244.6" r="3.5"/>
<circle class="o" cx="570.4" cy="228.0" r="3.5"/>
<circle class="o" cx="730.0" cy="318.0" r="3.5"/>
<circle class="o" cx="685.9" cy="323.7" r="3.5"/>
<circle class="o" cx="517.2" cy="229.3" r="3.5"/>
<circle class="o" cx="219.4" cy="501.5" r="3.5"/>
<circle class="o" cx="331.1" cy="187.3" r="3.5"/>
<circle class="o" cx="711.2" cy="250.0" r="3.5"/>
<circle class="o" cx="502.0" cy="192.2" r="3.5"/>
<circle class="o" cx="410.8" cy="297.1" r="3.5"/>
<circle class="o" cx="446.3" cy="316.0" r="3.5"/>
<circle class="o" cx="386.3" cy="163.5" r="3.5"/>
<circle class="o" cx="809.8" cy="152.9" r="3.5"/>
<circle class="o" cx="589.5" cy="340.0" r="3.5"/>
<circle class="o" cx="549.6" cy="392.2" r="3.5"/>
<circle class="o" cx="522.5" cy="400.6" r="3.5"/>
<circle class="o" cx="456.4" cy="362.6" r="3.5"/>
<circle class="o" cx="485.9" cy="185.3" r="3.5"/>
<circle class="o" cx="494.8" cy="326.7" r="3.5"/>
<circle class="o" cx="429.6" cy="314.8" r="3.5"/>
<circle class="o" cx="542.2" cy="282.4" r="3.5"/>
<circle class="o" cx="520.9" cy="285.8" r="3.5"/>
<circle class="o" cx="365.2" cy="270.8" r="3.5"/>
<circle class="o" cx="570.4" cy="415.6" r="3.5"/>
<circle class="o" cx="674.5" cy="248.6" r="3.5"/>
<circle class="o" cx="433.6" cy="270.8" r="3.5"/>
<circle class="o" cx="769.9" cy="324.9" r="3.5"/>
<circle class="o" cx="570.4" cy="313.4" r="3.5"/>
<circle class="o" cx="676.8" cy="244.6" r="3.5"/>
<circle class="o" cx="545.2" cy="239.8" r="3.5"/>
<circle class="o" cx="444.4" cy="225.3" r="3.5"/>
<circle class="o" cx="570.4" cy="379.0" r="3.5"/>
<circle class="o" cx="676.8" cy="351.7" r="3.5"/>
<circle class="o" cx="502.0" cy="152.9" r="3.5"/>
<circle class="o" cx="646.0" cy="341.2" r="3.5"/>
<circle class="o" cx="296.9" cy="241.4" r="3.5"/>
<circle class="o" cx="365.2" cy="487.1" r="3.5"/>
<circle class="o" cx="474.7" cy="221.7" r="3.5"/>
<circle class="o" cx="602.3" cy="382.2" r="3.5"/>
<circle class="o" cx="410.8" cy="375.7" r="3.4"/>
<circle class="o" cx="426.8" cy="359.3" r="3.4"/>
<circle class="o" cx="752.0" cy="304.7" r="3.4"/>
<circle class="o" cx="666.1" cy="359.3" r="3.4"/>
<circle class="o" cx="857.6" cy="180.4" r="3.4"/>
<circle class="o" cx="676.8" cy="366.9" r="3.4"/>
<circle class="o" cx="386.3" cy="237.6" r="3.4"/>
<circle class="o" cx="696.4" cy="239.8" r="3.4"/>
<circle class="o" cx="309.3" cy="228.0" r="3.4"/>
<circle class="o" cx="494.8" cy="312.2" r="3.4"/>
<circle class="o" cx="857.6" cy="241.0" r="3.4"/>
<circle class="o" cx="331.1" cy="221.7" r="3.4"/>
<circle class="o" cx="618.3" cy="290.5" r="3.4"/>
<circle class="o" cx="474.7" cy="327.2" r="3.4"/>
<circle class="o" cx="304.5" cy="229.3" r="3.4"/>
<circle class="o" cx="551.3" cy="351.0" r="3.4"/>
<circle class="o" cx="570.4" cy="373.1" r="3.4"/>
<circle class="o" cx="390.9" cy="187.3" r="3.4"/>
<circle class="o" cx="228.5" cy="428.1" r="3.4"/>
<circle class="o" cx="742.7" cy="141.9" r="3.4"/>
<circle class="o" cx="632.8" cy="332.4" r="3.4"/>
<circle class="o" cx="570.4" cy="414.3" r="3.4"/>
<circle class="o" cx="450.7" cy="279.0" r="3.4"/>
<circle class="o" cx="666.1" cy="329.0" r="3.4"/>
<circle class="o" cx="654.9" cy="266.2" r="3.4"/>
<circle class="o" cx="761.9" cy="373.1" r="3.4"/>
<circle class="o" cx="530.5" cy="290.5" r="3.4"/>
<circle class="o" cx="570.4" cy="251.2" r="3.4"/>
<circle class="o" cx="761.9" cy="336.4" r="3.4"/>
<circle class="o" cx="602.3" cy="391.4" r="3.4"/>
<circle class="o" cx="690.1" cy="118.5" r="3.4"/>
<circle class="o" cx="459.9" cy="354.0" r="3.4"/>
<circle class="o" cx="456.4" cy="336.4" r="3.4"/>
<circle class="o" cx="595.6" cy="239.8" r="3.4"/>
<circle class="o" cx="490.6" cy="244.6" r="3.4"/>
<circle class="o" cx="570.4" cy="163.5" r="3.4"/>
<circle class="o" cx="623.6" cy="305.8" r="3.4"/>
<circle class="o" cx="570.4" cy="353.0" r="3.4"/>
<circle class="o" cx="685.9" cy="143.4" r="3.4"/>
<circle class="o" cx="322.8" cy="342.7" r="3.4"/>
<circle class="o" cx="730.0" cy="313.4" r="3.4"/>
<circle class="o" cx="761.9" cy="276.7" r="3.4"/>
<circle class="o" cx="711.2" cy="379.5" r="3.4"/>
<circle class="o" cx="373.3" cy="250.0" r="3.4"/>
<circle class="o" cx="502.0" cy="261.0" r="3.4"/>
<circle class="o" cx="526.9" cy="303.0" r="3.4"/>
<circle class="o" cx="390.9" cy="256.1" r="3.4"/>
<circle class="o" cx="570.4" cy="340.5" r="3.4"/>
<circle class="o" cx="502.0" cy="300.3" r="3.4"/>
<circle class="o" cx="508.0" cy="392.2" r="3.4"/>
<circle class="o" cx="775.6" cy="290.5" r="3.4"/>
<circle class="o" cx="570.4" cy="170.1" r="3.4"/>
<circle class="o" cx="517.2" cy="152.9" r="3.4"/>
<circle class="o" cx="526.9" cy="177.9" r="3.4"/>
<circle class="o" cx="456.4" cy="257.7" r="3.4"/>
<circle class="o" cx="456.4" cy="231.5" r="3.4"/>
<circle class="o" cx="630.2" cy="238.9" r="3.4"/>
<circle class="o" cx="309.3" cy="215.4" r="3.4"/>
<circle class="o" cx="410.8" cy="412.8" r="3.4"/>
<circle class="o" cx="549.6" cy="248.6" r="3.4"/>
<circle class="o" cx="632.8" cy="236.7" r="3.4"/>
<circle class="o" cx="394.0" cy="152.9" r="3.4"/>
<circle class="o" cx="865.0" cy="269.3" r="3.4"/>
<circle class="o" cx="623.6" cy="122.3" r="3.4"/>
<circle class="o" cx="666.1" cy="97.9" r="3.4"/>
<circle class="o" cx="386.3" cy="396.3" r="3.4"/>
<circle class="o" cx="570.4" cy="194.2" r="3.4"/>
<circle class="o" cx="704.4" cy="263.0" r="3.4"/>
<circle class="o" cx="426.8" cy="373.1" r="3.4"/>
<circle class="o" cx="676.8" cy="305.8" r="3.4"/>
<circle class="o" cx="530.5" cy="347.8" r="3.4"/>
<circle class="o" cx="785.0" cy="314.2" r="3.4"/>
<circle class="o" cx="843.9" cy="388.8" r="3.4"/>
<circle class="o" cx="696.4" cy="326.7" r="3.4"/>
<circle class="o" cx="857.6" cy="194.2" r="3.4"/>
<circle class="o" cx="797.2" cy="254.3" r="3.4"/>
<circle class="o" cx="595.6" cy="341.2" r="3.4"/>
<circle class="o" cx="717.7" cy="385.8" r="3.4"/>
<circle class="o" cx="589.5" cy="450.1" r="3.4"/>
<circle class="o" cx="704.4" cy="241.0" r="3.4"/>
<circle class="o" cx="783.2" cy="198.8" r="3.4"/>
<circle class="o" cx="638.8" cy="323.3" r="3.4"/>
<circle class="o" cx="439.8" cy="152.9" r="3.4"/>
<circle class="o" cx="570.4" cy="278.0" r="3.4"/>
<circle class="o" cx="474.7" cy="296.0" r="3.4"/>
<circle class="o" cx="293.3" cy="457.1" r="3.4"/>
<circle class="o" cx="490.6" cy="175.8" r="3.4"/>
<circle class="o" cx="410.8" cy="359.3" r="3.4"/>
<circle class="o" cx="570.4" cy="390.6" r="3.4"/>
<circle class="o" cx="921.4" cy="354.7" r="3.4"/>
<circle class="o" cx="684.4" cy="218.4" r="3.4"/>
<circle class="o" cx="456.4" cy="297.1" r="3.4"/>
<circle class="o" cx="897.9" cy="254.3" r="3.4"/>
<circle class="o" cx="570.4" cy="324.9" r="3.4"/>
<circle class="o" cx="650.2" cy="221.7" r="3.4"/>
<circle class="o" cx="767.5" cy="185.3" r="3.4"/>
<circle class="o" cx="481.8" cy="336.4" r="3.4"/>
<circle class="o" cx="485.9" cy="266.2" r="3.4"/>
<circle class="o" cx="570.4" cy="408.4" r="3.4"/>
<circle class="o" cx="623.6" cy="336.4" r="3.4"/>
<circle class="o" cx="570.4" cy="238.9" r="3.4"/>
<circle class="o" cx="399.4" cy="182.4" r="3.4"/>
<circle class="o" cx="749.9" cy="290.5" r="3.4"/>
<circle class="o" cx="410.8" cy="313.4" r="3.4"/>
<circle class="o" cx="650.2" cy="405.2" r="3.4"/>
<circle class="o" cx="456.4" cy="205.3" r="3.4"/>
<circle class="o" cx="386.3" cy="322.3" r="3.4"/>
<circle class="o" cx="623.6" cy="458.7" r="3.4"/>
<circle class="o" cx="331.1" cy="180.4" r="3.4"/>
<circle class="o" cx="462.3" cy="294.9" r="3.4"/>
<circle class="o" cx="485.9" cy="233.8" r="3.4"/>
<circle class="o" cx="444.4" cy="254.3" r="3.4"/>
<circle class="o" cx="730.0" cy="214.1" r="3.4"/>
<circle class="o" cx="666.1" cy="235.5" r="3.4"/>
<circle class="o" cx="424.7" cy="368.3" r="3.4"/>
<circle class="o" cx="533.6" cy="258.7" r="3.4"/>
<circle class="o" cx="410.8" cy="382.2" r="3.4"/>
<circle class="o" cx="352.8" cy="453.1" r="3.4"/>
<circle class="o" cx="421.8" cy="352.2" r="3.4"/>
<circle class="o" cx="595.6" cy="370.2" r="3.4"/>
<circle class="o" cx="570.4" cy="342.1" r="3.4"/>
<circle class="o" cx="331.1" cy="382.2" r="3.4"/>
<circle class="o" cx="969.3" cy="428.1" r="3.4"/>
<circle class="o" cx="821.1" cy="231.5" r="3.4"/>
<circle class="o" cx="570.4" cy="265.5" r="3.4"/>
<circle class="o" cx="433.6" cy="192.2" r="3.3"/>
<circle class="o" cx="502.0" cy="257.7" r="3.3"/>
<circle class="o" cx="394.0" cy="297.7" r="3.3"/>
<circle class="o" cx="450.7" cy="244.6" r="3.3"/>
<circle class="o" cx="749.9" cy="170.1" r="3.3"/>
<circle class="o" cx="836.3" cy="214.1" r="3.3"/>
<circle class="o" cx="551.3" cy="241.0" r="3.3"/>
<circle class="o" cx="331.1" cy="244.6" r="3.3"/>
<circle class="o" cx="696.4" cy="109.4" r="3.3"/>
<circle class="o" cx="744.5" cy="303.0" r="3.3"/>
<circle class="o" cx="716.1" cy="248.6" r="3.3"/>
<circle class="o" cx="593.2" cy="297.1" r="3.3"/>
<circle class="o" cx="788.0" cy="303.0" r="3.3"/>
<circle class="o" cx="502.0" cy="290.5" r="3.3"/>
<circle class="o" cx="781.0" cy="252.0" r="3.3"/>
<circle class="o" cx="607.2" cy="322.3" r="3.3"/>
<circle class="o" cx="841.0" cy="236.7" r="3.3"/>
<circle class="o" cx="459.9" cy="301.1" r="3.3"/>
<circle class="o" cx="570.4" cy="270.8" r="3.3"/>
<circle class="o" cx="570.4" cy="447.8" r="3.3"/>
<circle class="o" cx="654.9" cy="217.7" r="3.3"/>
<circle class="o" cx="386.3" cy="258.7" r="3.3"/>
<circle class="o" cx="359.8" cy="362.1" r="3.3"/>
<circle class="o" cx="717.7" cy="152.9" r="3.3"/>
<circle class="o" cx="593.2" cy="244.6" r="3.3"/>
<circle class="o" cx="799.3" cy="272.6" r="3.3"/>
<circle class="o" cx="604.6" cy="290.5" r="3.3"/>
<circle class="o" cx="674.5" cy="332.4" r="3.3"/>
<circle class="o" cx="719.0" cy="276.3" r="3.3"/>
<circle class="o" cx="410.8" cy="318.0" r="3.3"/>
<circle class="o" cx="821.1" cy="244.6" r="3.3"/>
<circle class="o" cx="530.5" cy="221.7" r="3.3"/>
<circle class="o" cx="394.0" cy="254.3" r="3.3"/>
<circle class="o" cx="321.5" cy="241.0" r="3.3"/>
<circle class="o" cx="781.0" cy="263.0" r="3.3"/>
<circle class="o" cx="761.9" cy="249.2" r="3.3"/>
<circle class="o" cx="423.1" cy="279.9" r="3.3"/>
<circle class="o" cx="638.8" cy="415.0" r="3.3"/>
<circle class="o" cx="424.7" cy="308.4" r="3.3"/>
<circle class="o" cx="487.9" cy="266.8" r="3.3"/>
<circle class="o" cx="490.6" cy="279.0" r="3.3"/>
<circle class="o" cx="456.4" cy="310.2" r="3.3"/>
<circle class="o" cx="493.2" cy="357.1" r="3.3"/>
<circle class="o" cx="570.4" cy="228.0" r="3.3"/>
<circle class="o" cx="704.4" cy="230.0" r="3.3"/>
<circle class="o" cx="673.0" cy="133.2" r="3.3"/>
<circle class="o" cx="869.6" cy="152.9" r="3.3"/>
<circle class="o" cx="383.0" cy="511.0" r="3.3"/>
<circle class="o" cx="647.6" cy="374.8" r="3.3"/>
<circle class="o" cx="552.7" cy="285.4" r="3.3"/>
<circle class="o" cx="570.4" cy="263.0" r="3.3"/>
<circle class="o" cx="769.9" cy="313.4" r="3.3"/>
<circle class="o" cx="775.6" cy="192.2" r="3.3"/>
<circle class="o" cx="352.8" cy="177.9" r="3.3"/>
<circle class="o" cx="767.5" cy="282.4" r="3.3"/>
<circle class="o" cx="508.0" cy="368.3" r="3.3"/>
<circle class="o" cx="570.4" cy="307.7" r="3.3"/>
<circle class="o" cx="775.6" cy="218.4" r="3.3"/>
<circle class="o" cx="410.8" cy="321.1" r="3.3"/>
<circle class="o" cx="526.9" cy="290.5" r="3.3"/>
<circle class="o" cx="618.3" cy="428.1" r="3.3"/>
<circle class="o" cx="570.4" cy="278.0" r="3.3"/>
<circle class="o" cx="746.8" cy="341.2" r="3.3"/>
<circle class="o" cx="390.9" cy="273.3" r="3.3"/>
<circle class="o" cx="464.0" cy="244.6" r="3.3"/>
<circle class="o" cx="538.5" cy="373.1" r="3.3"/>
<circle class="o" cx="494.8" cy="210.8" r="3.3"/>
<circle class="o" cx="365.2" cy="388.8" r="3.3"/>
<circle class="o" cx="666.1" cy="189.6" r="3.3"/>
<circle class="o" cx="730.0" cy="257.7" r="3.3"/>
<circle class="o" cx="517.2" cy="412.8" r="3.3"/>
<circle class="o" cx="570.4" cy="244.6" r="3.3"/>
<circle class="o" cx="875.0" cy="90.4" r="3.3"/>
<circle class="o" cx="627.8" cy="252.0" r="3.3"/>
<circle class="o" cx="752.0" cy="323.7" r="3.3"/>
<circle class="o" cx="761.9" cy="290.5" r="3.3"/>
<circle class="o" cx="591.2" cy="344.3" r="3.3"/>
<circle class="o" cx="474.7" cy="359.3" r="3.3"/>
<circle class="o" cx="426.8" cy="235.5" r="3.3"/>
<circle class="o" cx="357.6" cy="229.3" r="3.3"/>
<circle class="o" cx="483.4" cy="353.0" r="3.3"/>
<circle class="o" cx="570.4" cy="172.6" r="3.3"/>
<circle class="o" cx="618.3" cy="345.5" r="3.3"/>
<circle class="o" cx="450.7" cy="313.4" r="3.3"/>
<circle class="o" cx="570.4" cy="251.2" r="3.3"/>
<circle class="o" cx="410.8" cy="388.8" r="3.3"/>
<circle class="o" cx="676.8" cy="214.1" r="3.3"/>
<circle class="o" cx="746.8" cy="312.2" r="3.3"/>
<circle class="o" cx="652.9" cy="399.6" r="3.3"/>
<circle class="o" cx="570.4" cy="336.4" r="3.3"/>
<circle class="o" cx="602.3" cy="336.4" r="3.3"/>
<circle class="o" cx="439.8" cy="378.1" r="3.3"/>
<circle class="o" cx="378.9" cy="235.5" r="3.3"/>
<circle class="o" cx="378.9" cy="290.5" r="3.3"/>
<circle class="o" cx="502.0" cy="336.4" r="3.3"/>
<circle class="o" cx="365.2" cy="251.2" r="3.3"/>
<circle class="o" cx="433.6" cy="231.5" r="3.3"/>
<circle class="o" cx="741.4" cy="261.0" r="3.3"/>
<circle class="o" cx="836.3" cy="336.4" r="3.3"/>
<circle class="o" cx="714.0" cy="414.3" r="3.3"/>
<circle class="o" cx="781.0" cy="307.0" r="3.3"/>
<circle class="o" cx="365.2" cy="329.8" r="3.3"/>
<circle class="o" cx="730.0" cy="324.9" r="3.3"/>
<circle class="o" cx="613.9" cy="253.0" r="3.2"/>
<circle class="o" cx="602.3" cy="409.8" r="3.2"/>
<circle class="o" cx="598.6" cy="363.3" r="3.2"/>
<circle class="o" cx="857.6" cy="318.0" r="3.2"/>
<circle class="o" cx="410.8" cy="351.7" r="3.2"/>
<circle class="o" cx="857.6" cy="290.5" r="3.2"/>
<circle class="o" cx="627.8" cy="274.0" r="3.2"/>
<circle class="o" cx="439.8" cy="278.0" r="3.2"/>
<circle class="o" cx="657.4" cy="303.0" r="3.2"/>
<circle class="o" cx="654.9" cy="282.4" r="3.2"/>
<circle class="o" cx="551.3" cy="307.0" r="3.2"/>
<circle class="o" cx="433.6" cy="172.6" r="3.2"/>
<circle class="o" cx="433.6" cy="290.5" r="3.2"/>
<circle class="o" cx="378.9" cy="249.2" r="3.2"/>
<circle class="o" cx="828.2" cy="322.3" r="3.2"/>
<circle class="o" cx="650.2" cy="359.3" r="3.2"/>
<circle class="o" cx="797.2" cy="239.8" r="3.2"/>
<circle class="o" cx="398.1" cy="174.9" r="3.2"/>
<circle class="o" cx="707.2" cy="290.5" r="3.2"/>
<circle class="o" cx="502.0" cy="172.6" r="3.2"/>
<circle class="o" cx="595.6" cy="442.6" r="3.2"/>
<circle class="o" cx="589.5" cy="384.1" r="3.2"/>
<circle class="o" cx="530.5" cy="256.1" r="3.2"/>
<circle class="o" cx="570.4" cy="229.3" r="3.2"/>
<circle class="o" cx="929.4" cy="152.9" r="3.2"/>
<circle class="o" cx="819.3" cy="263.0" r="3.2"/>
<circle class="o" cx="570.4" cy="175.8" r="3.2"/>
<circle class="o" cx="690.1" cy="204.5" r="3.2"/>
<circle class="o" cx="502.0" cy="329.8" r="3.2"/>
<circle class="o" cx="843.9" cy="349.5" r="3.2"/>
<circle class="o" cx="304.5" cy="198.8" r="3.2"/>
<circle class="o" cx="654.9" cy="185.3" r="3.2"/>
<circle class="o" cx="604.6" cy="261.0" r="3.2"/>
<circle class="o" cx="331.1" cy="187.3" r="3.2"/>
<circle class="o" cx="570.4" cy="253.0" r="3.2"/>
<circle class="o" cx="701.0" cy="177.9" r="3.2"/>
<circle class="o" cx="570.4" cy="373.1" r="3.2"/>
<circle class="o" cx="730.0" cy="283.9" r="3.2"/>
<circle class="o" cx="847.5" cy="196.4" r="3.2"/>
<circle class="o" cx="570.4" cy="184.7" r="3.2"/>
<circle class="o" cx="570.4" cy="263.0" r="3.2"/>
<circle class="o" cx="866.7" cy="297.1" r="3.2"/>
<circle class="o" cx="602.3" cy="373.1" r="3.2"/>
<circle class="o" cx="466.3" cy="380.2" r="3.2"/>
<circle class="o" cx="652.9" cy="285.8" r="3.2"/>
<circle class="o" cx="542.2" cy="169.1" r="3.2"/>
<circle class="o" cx="690.1" cy="302.0" r="3.2"/>
<circle class="o" cx="638.8" cy="103.8" r="3.2"/>
<circle class="o" cx="526.9" cy="403.1" r="3.2"/>
<circle class="o" cx="331.1" cy="198.8" r="3.2"/>
<circle class="o" cx="396.3" cy="177.9" r="3.2"/>
<circle class="o" cx="788.0" cy="228.0" r="3.2"/>
<circle class="o" cx="365.2" cy="310.2" r="3.2"/>
<circle class="o" cx="436.4" cy="307.0" r="3.2"/>
<circle class="o" cx="424.7" cy="332.4" r="3.2"/>
<circle class="o" cx="730.0" cy="233.2" r="3.2"/>
<circle class="o" cx="388.8" cy="238.3" r="3.2"/>
<circle class="o" cx="496.8" cy="322.3" r="3.2"/>
<circle class="o" cx="538.5" cy="263.0" r="3.2"/>
<circle class="o" cx="809.8" cy="331.8" r="3.2"/>
<circle class="o" cx="410.8" cy="349.5" r="3.2"/>
<circle class="o" cx="610.3" cy="221.7" r="3.2"/>
<circle class="o" cx="690.1" cy="342.1" r="3.2"/>
<circle class="o" cx="680.9" cy="354.0" r="3.2"/>
<circle class="o" cx="378.9" cy="235.5" r="3.2"/>
<circle class="o" cx="283.2" cy="235.5" r="3.2"/>
<circle class="o" cx="570.4" cy="166.7" r="3.2"/>
<circle class="o" cx="775.6" cy="336.4" r="3.2"/>
<circle class="o" cx="767.5" cy="331.0" r="3.2"/>
<circle class="o" cx="410.8" cy="257.7" r="3.2"/>
<circle class="o" cx="730.0" cy="281.3" r="3.2"/>
<circle class="o" cx="793.8" cy="299.7" r="3.2"/>
<circle class="o" cx="843.9" cy="270.8" r="3.2"/>
<circle class="o" cx="985.3" cy="61.2" r="3.2"/>
<circle class="o" cx="459.9" cy="237.6" r="3.2"/>
<circle class="o" cx="474.7" cy="180.4" r="3.2"/>
<circle class="o" cx="429.6" cy="185.3" r="3.2"/>
<circle class="o" cx="694.5" cy="285.4" r="3.2"/>
<circle class="o" cx="398.1" cy="218.9" r="3.2"/>
<circle class="o" cx="450.7" cy="204.5" r="3.2"/>
<circle class="o" cx="549.6" cy="236.7" r="3.2"/>
<circle class="o" cx="464.0" cy="275.2" r="3.2"/>
<circle class="o" cx="749.9" cy="273.3" r="3.2"/>
<circle class="o" cx="570.4" cy="248.2" r="3.2"/>
<circle class="o" cx="836.3" cy="285.4" r="3.2"/>
<circle class="o" cx="912.3" cy="428.1" r="3.2"/>
<circle class="o" cx="857.6" cy="141.9" r="3.2"/>
<circle class="o" cx="690.1" cy="256.1" r="3.2"/>
<circle class="o" cx="754.5" cy="195.2" r="3.2"/>
<circle class="o" cx="623.6" cy="290.5" r="3.2"/>
<circle class="o" cx="483.4" cy="328.0" r="3.2"/>
<circle class="o" cx="433.6" cy="261.0" r="3.2"/>
<circle class="o" cx="474.7" cy="235.5" r="3.2"/>
<circle class="o" cx="942.7" cy="152.9" r="3.2"/>
<circle class="o" cx="821.1" cy="323.3" r="3.2"/>
<circle class="o" cx="309.3" cy="165.4" r="3.2"/>
<circle class="o" cx="809.8" cy="304.3" r="3.2"/>
<circle class="o" cx="797.2" cy="196.4" r="3.1"/>
<circle class="o" cx="487.9" cy="371.2" r="3.1"/>
<circle class="o" cx="595.6" cy="210.8" r="3.1"/>
<circle class="o" cx="797.2" cy="225.3" r="3.1"/>
<circle class="o" cx="800.9" cy="101.9" r="3.1"/>
<circle class="o" cx="450.7" cy="342.1" r="3.1"/>
<circle class="o" cx="536.2" cy="270.8" r="3.1"/>
<circle class="o" cx="716.1" cy="356.3" r="3.1"/>
<circle class="o" cx="610.3" cy="359.3" r="3.1"/>
<circle class="o" cx="809.8" cy="318.0" r="3.1"/>
<circle class="o" cx="570.4" cy="322.3" r="3.1"/>
<circle class="o" cx="570.4" cy="313.4" r="3.1"/>
<circle class="o" cx="769.9" cy="267.6" r="3.1"/>
<circle class="o" cx="666.1" cy="116.2" r="3.1"/>
<circle class="o" cx="551.3" cy="373.1" r="3.1"/>
<circle class="o" cx="331.1" cy="267.6" r="3.1"/>
<circle class="o" cx="836.3" cy="152.9" r="3.1"/>
<circle class="o" cx="666.1" cy="230.0" r="3.1"/>
<circle class="o" cx="797.2" cy="297.7" r="3.1"/>
<circle class="o" cx="690.1" cy="290.5" r="3.1"/>
<circle class="o" cx="347.0" cy="189.6" r="3.1"/>
<circle class="o" cx="819.3" cy="230.0" r="3.1"/>
<circle class="o" cx="690.1" cy="233.2" r="3.1"/>
<circle class="o" cx="711.2" cy="169.1" r="3.1"/>
<circle class="o" cx="410.8" cy="231.5" r="3.1"/>
<circle class="o" cx="809.8" cy="256.1" r="3.1"/>
<circle class="o" cx="426.8" cy="249.2" r="3.1"/>
<circle class="o" cx="370.9" cy="187.3" r="3.1"/>
<circle class="o" cx="485.9" cy="347.2" r="3.1"/>
<circle class="o" cx="828.2" cy="195.2" r="3.1"/>
<circle class="o" cx="851.0" cy="295.2" r="3.1"/>
<circle class="o" cx="595.6" cy="312.2" r="3.1"/>
<circle class="o" cx="630.2" cy="410.9" r="3.1"/>
<circle class="o" cx="746.8" cy="297.7" r="3.1"/>
<circle class="o" cx="378.9" cy="221.7" r="3.1"/>
<circle class="o" cx="359.8" cy="252.0" r="3.1"/>
<circle class="o" cx="701.0" cy="303.0" r="3.1"/>
<circle class="o" cx="570.4" cy="366.9" r="3.1"/>
<circle class="o" cx="588.1" cy="377.1" r="3.1"/>
<circle class="o" cx="741.4" cy="123.4" r="3.1"/>
<circle class="o" cx="791.3" cy="248.2" r="3.1"/>
<circle class="o" cx="570.4" cy="276.7" r="3.1"/>
<circle class="o" cx="711.2" cy="314.8" r="3.1"/>
<circle class="o" cx="410.8" cy="218.4" r="3.1"/>
<circle class="o" cx="570.4" cy="311.7" r="3.1"/>
<circle class="o" cx="754.5" cy="152.9" r="3.1"/>
<circle class="o" cx="607.2" cy="258.7" r="3.1"/>
<circle class="o" cx="757.7" cy="224.7" r="3.1"/>
<circle class="o" cx="707.2" cy="261.0" r="3.1"/>
<circle class="o" cx="836.3" cy="183.5" r="3.1"/>
<circle class="o" cx="704.4" cy="285.0" r="3.1"/>
<circle class="o" cx="586.9" cy="323.7" r="3.1"/>
<circle class="o" cx="730.0" cy="171.2" r="3.1"/>
<circle class="o" cx="975.5" cy="152.9" r="3.1"/>
<circle class="o" cx="343.6" cy="239.8" r="3.1"/>
<circle class="o" cx="436.4" cy="241.0" r="3.1"/>
<circle class="o" cx="744.5" cy="365.6" r="3.1"/>
<circle class="o" cx="797.2" cy="95.0" r="3.1"/>
<circle class="o" cx="623.6" cy="285.4" r="3.1"/>
<circle class="o" cx="791.3" cy="343.4" r="3.1"/>
<circle class="o" cx="296.9" cy="192.2" r="3.1"/>
<circle class="o" cx="797.2" cy="283.3" r="3.1"/>
<circle class="o" cx="538.5" cy="171.2" r="3.1"/>
<circle class="o" cx="331.1" cy="180.4" r="3.1"/>
<circle class="o" cx="490.6" cy="233.2" r="3.1"/>
<circle class="o" cx="517.2" cy="290.5" r="3.1"/>
<circle class="o" cx="383.1" cy="452.0" r="3.1"/>
<circle class="o" cx="570.4" cy="214.1" r="3.1"/>
<circle class="o" cx="433.6" cy="251.2" r="3.1"/>
<circle class="o" cx="828.2" cy="248.2" r="3.1"/>
<circle class="o" cx="730.0" cy="72.6" r="3.1"/>
<circle class="o" cx="429.6" cy="217.7" r="3.1"/>
<circle class="o" cx="684.4" cy="270.8" r="3.1"/>
<circle class="o" cx="783.2" cy="259.9" r="3.1"/>
<circle class="o" cx="595.6" cy="355.7" r="3.1"/>
<circle class="o" cx="331.1" cy="166.7" r="3.1"/>
<circle class="o" cx="680.9" cy="248.2" r="3.1"/>
<circle class="o" cx="570.4" cy="396.3" r="3.1"/>
<circle class="o" cx="513.0" cy="318.0" r="3.1"/>
<circle class="o" cx="542.2" cy="217.7" r="3.1"/>
<circle class="o" cx="508.0" cy="308.4" r="3.1"/>
<circle class="o" cx="598.6" cy="298.6" r="3.1"/>
<circle class="o" cx="506.6" cy="336.4" r="3.1"/>
<circle class="o" cx="474.7" cy="331.8" r="3.1"/>
<circle class="o" cx="383.1" cy="320.4" r="3.1"/>
<circle class="o" cx="542.2" cy="250.0" r="3.1"/>
<circle class="o" cx="423.1" cy="258.7" r="3.0"/>
<circle class="o" cx="680.9" cy="332.8" r="3.0"/>
<circle class="o" cx="588.1" cy="254.8" r="3.0"/>
<circle class="o" cx="623.6" cy="122.3" r="3.0"/>
<circle class="o" cx="589.5" cy="417.1" r="3.0"/>
<circle class="o" cx="394.0" cy="210.8" r="3.0"/>
<circle class="o" cx="467.8" cy="310.2" r="3.0"/>
<circle class="o" cx="433.6" cy="211.9" r="3.0"/>
<circle class="o" cx="757.7" cy="248.6" r="3.0"/>
<circle class="o" cx="410.8" cy="270.8" r="3.0"/>
<circle class="o" cx="793.8" cy="171.2" r="3.0"/>
<circle class="o" cx="526.9" cy="265.5" r="3.0"/>
<circle class="o" cx="454.9" cy="456.6" r="3.0"/>
<circle class="o" cx="714.0" cy="207.9" r="3.0"/>
<circle class="o" cx="410.8" cy="428.1" r="3.0"/>
<circle class="o" cx="570.4" cy="417.5" r="3.0"/>
<circle class="o" cx="666.1" cy="226.3" r="3.0"/>
<circle class="o" cx="769.9" cy="256.1" r="3.0"/>
<circle class="o" cx="742.7" cy="230.0" r="3.0"/>
<circle class="o" cx="589.5" cy="318.0" r="3.0"/>
<circle class="o" cx="283.2" cy="221.7" r="3.0"/>
<circle class="o" cx="390.9" cy="307.7" r="3.0"/>
<circle class="o" cx="690.1" cy="238.9" r="3.0"/>
<circle class="o" cx="857.6" cy="244.6" r="3.0"/>
<circle class="o" cx="809.8" cy="130.0" r="3.0"/>
<circle class="o" cx="674.5" cy="224.7" r="3.0"/>
<circle class="o" cx="607.2" cy="174.1" r="3.0"/>
<circle class="o" cx="638.8" cy="87.4" r="3.0"/>
<circle class="o" cx="481.8" cy="326.2" r="3.0"/>
<circle class="o" cx="730.0" cy="91.7" r="3.0"/>
<circle class="o" cx="533.6" cy="290.5" r="3.0"/>
<circle class="o" cx="638.8" cy="205.3" r="3.0"/>
<circle class="o" cx="474.7" cy="194.2" r="3.0"/>
<circle class="o" cx="654.9" cy="298.6" r="3.0"/>
<circle class="o" cx="570.4" cy="329.8" r="3.0"/>
<circle class="o" cx="623.6" cy="397.5" r="3.0"/>
<circle class="o" cx="793.8" cy="272.2" r="3.0"/>
<circle class="o" cx="390.9" cy="170.1" r="3.0"/>
<circle class="o" cx="542.2" cy="201.5" r="3.0"/>
<circle class="o" cx="424.7" cy="260.6" r="3.0"/>
<circle class="o" cx="638.8" cy="244.6" r="3.0"/>
<circle class="o" cx="775.6" cy="139.8" r="3.0"/>
<circle class="o" cx="570.4" cy="192.2" r="3.0"/>
<circle class="o" cx="752.0" cy="276.3" r="3.0"/>
<circle class="o" cx="754.5" cy="110.6" r="3.0"/>
<circle class="o" cx="553.9" cy="361.7" r="3.0"/>
<circle class="o" cx="331.1" cy="244.6" r="3.0"/>
<circle class="o" cx="1050.6" cy="119.4" r="3.0"/>
<circle class="o" cx="436.4" cy="274.0" r="3.0"/>
<circle class="o" cx="719.0" cy="361.7" r="3.0"/>
<circle class="o" cx="828.2" cy="258.7" r="3.0"/>
<circle class="o" cx="538.5" cy="400.6" r="3.0"/>
<circle class="o" cx="901.8" cy="428.1" r="3.0"/>
<circle class="o" cx="383.1" cy="224.7" r="3.0"/>
<circle class="o" cx="598.6" cy="282.4" r="3.0"/>
<circle class="o" cx="410.8" cy="226.3" r="3.0"/>
<circle class="o" cx="632.8" cy="248.6" r="3.0"/>
<circle class="o" cx="502.0" cy="231.5" r="3.0"/>
<circle class="o" cx="618.3" cy="304.3" r="3.0"/>
<circle class="o" cx="513.0" cy="252.0" r="3.0"/>
<circle class="o" cx="785.0" cy="323.7" r="3.0"/>
<circle class="o" cx="598.6" cy="314.8" r="3.0"/>
<circle class="o" cx="613.9" cy="290.5" r="3.0"/>
<circle class="o" cx="466.3" cy="224.7" r="3.0"/>
<circle class="o" cx="604.6" cy="300.3" r="3.0"/>
<circle class="o" cx="570.4" cy="310.2" r="3.0"/>
<circle class="o" cx="426.8" cy="331.8" r="3.0"/>
<circle class="o" cx="828.2" cy="174.1" r="3.0"/>
<circle class="o" cx="493.2" cy="383.7" r="3.0"/>
<circle class="o" cx="788.0" cy="152.9" r="3.0"/>
<circle class="o" cx="570.4" cy="256.1" r="3.0"/>
<circle class="o" cx="591.2" cy="272.6" r="3.0"/>
<circle class="o" cx="744.5" cy="378.1" r="3.0"/>
<circle class="o" cx="589.5" cy="373.1" r="3.0"/>
<circle class="o" cx="321.5" cy="230.0" r="3.0"/>
<circle class="o" cx="781.0" cy="329.0" r="3.0"/>
<circle class="o" cx="875.0" cy="265.5" r="3.0"/>
<circle class="o" cx="630.2" cy="152.9" r="3.0"/>
<circle class="o" cx="538.5" cy="244.6" r="3.0"/>
<circle class="o" cx="730.0" cy="218.4" r="3.0"/>
<circle class="o" cx="352.8" cy="165.4" r="3.0"/>
<circle class="o" cx="373.3" cy="282.4" r="3.0"/>
<circle class="o" cx="595.6" cy="283.3" r="3.0"/>
<circle class="o" cx="466.3" cy="344.3" r="3.0"/>
<circle class="o" cx="513.0" cy="329.0" r="3.0"/>
<circle class="o" cx="717.7" cy="258.7" r="3.0"/>
<circle class="o" cx="410.8" cy="285.4" r="3.0"/>
<circle class="o" cx="746.8" cy="355.7" r="3.0"/>
<circle class="o" cx="650.2" cy="347.8" r="3.0"/>
<circle class="o" cx="487.9" cy="276.3" r="3.0"/>
<circle class="o" cx="785.0" cy="333.2" r="3.0"/>
<circle class="o" cx="485.9" cy="298.6" r="3.0"/>
<circle class="o" cx="684.4" cy="283.9" r="3.0"/>
<circle class="o" cx="746.8" cy="283.3" r="3.0"/>
<circle class="o" cx="610.3" cy="233.2" r="3.0"/>
<circle class="o" cx="791.3" cy="385.8" r="3.0"/>
<circle class="o" cx="630.2" cy="221.7" r="3.0"/>
<circle class="o" cx="666.1" cy="428.1" r="3.0"/>
<circle class="o" cx="429.6" cy="298.6" r="2.9"/>
<circle class="o" cx="526.9" cy="240.5" r="2.9"/>
<circle class="o" cx="459.9" cy="248.2" r="2.9"/>
<circle class="o" cx="494.8" cy="341.2" r="2.9"/>
<circle class="o" cx="386.3" cy="152.9" r="2.9"/>
<circle class="o" cx="570.4" cy="328.0" r="2.9"/>
<circle class="o" cx="657.4" cy="278.0" r="2.9"/>
<circle class="o" cx="613.9" cy="152.9" r="2.9"/>
<circle class="o" cx="517.2" cy="397.5" r="2.9"/>
<circle class="o" cx="464.0" cy="259.9" r="2.9"/>
<circle class="o" cx="793.8" cy="308.8" r="2.9"/>
<circle class="o" cx="707.2" cy="123.4" r="2.9"/>
<circle class="o" cx="591.2" cy="332.4" r="2.9"/>
<circle class="o" cx="684.4" cy="362.6" r="2.9"/>
<circle class="o" cx="494.8" cy="254.3" r="2.9"/>
<circle class="o" cx="607.2" cy="216.4" r="2.9"/>
<circle class="o" cx="487.9" cy="295.2" r="2.9"/>
<circle class="o" cx="741.4" cy="339.6" r="2.9"/>
<circle class="o" cx="654.9" cy="347.2" r="2.9"/>
<circle class="o" cx="483.4" cy="390.6" r="2.9"/>
<circle class="o" cx="696.4" cy="341.2" r="2.9"/>
<circle class="o" cx="819.3" cy="307.0" r="2.9"/>
<circle class="o" cx="646.0" cy="297.7" r="2.9"/>
<circle class="o" cx="618.3" cy="249.2" r="2.9"/>
<circle class="o" cx="474.7" cy="189.6" r="2.9"/>
<circle class="o" cx="517.2" cy="351.7" r="2.9"/>
<circle class="o" cx="610.3" cy="347.8" r="2.9"/>
<circle class="o" cx="644.0" cy="364.6" r="2.9"/>
<circle class="o" cx="538.5" cy="207.9" r="2.9"/>
<circle class="o" cx="757.7" cy="344.3" r="2.9"/>
<circle class="o" cx="459.9" cy="311.7" r="2.9"/>
<circle class="o" cx="510.6" cy="221.7" r="2.9"/>
<circle class="o" cx="494.8" cy="413.6" r="2.9"/>
<circle class="o" cx="487.9" cy="409.1" r="2.9"/>
<circle class="o" cx="666.1" cy="241.0" r="2.9"/>
<circle class="o" cx="775.6" cy="205.3" r="2.9"/>
<circle class="o" cx="436.4" cy="362.1" r="2.9"/>
<circle class="o" cx="570.4" cy="315.5" r="2.9"/>
<circle class="o" cx="494.8" cy="268.8" r="2.9"/>
<circle class="o" cx="799.3" cy="332.4" r="2.9"/>
<circle class="o" cx="494.8" cy="355.7" r="2.9"/>
<circle class="o" cx="623.6" cy="229.3" r="2.9"/>
<circle class="o" cx="646.0" cy="254.3" r="2.9"/>
<circle class="o" cx="717.7" cy="406.9" r="2.9"/>
<circle class="o" cx="630.2" cy="273.3" r="2.9"/>
<circle class="o" cx="423.1" cy="406.9" r="2.9"/>
<circle class="o" cx="889.5" cy="141.4" r="2.9"/>
<circle class="o" cx="508.0" cy="344.3" r="2.9"/>
<circle class="o" cx="352.8" cy="165.4" r="2.9"/>
<circle class="o" cx="349.5" cy="375.2" r="2.9"/>
<circle class="o" cx="781.0" cy="230.0" r="2.9"/>
<circle class="o" cx="426.8" cy="207.9" r="2.9"/>
<circle class="o" cx="291.2" cy="164.4" r="2.9"/>
<circle class="o" cx="474.7" cy="152.9" r="2.9"/>
<circle class="o" cx="467.8" cy="339.6" r="2.9"/>
<circle class="o" cx="357.6" cy="183.5" r="2.9"/>
<circle class="o" cx="638.8" cy="320.0" r="2.9"/>
<circle class="o" cx="757.7" cy="296.5" r="2.9"/>
<circle class="o" cx="767.5" cy="250.0" r="2.9"/>
<circle class="o" cx="496.8" cy="258.7" r="2.9"/>
<circle class="o" cx="424.7" cy="236.7" r="2.9"/>
<circle class="o" cx="357.6" cy="214.1" r="2.9"/>
<circle class="o" cx="650.2" cy="175.8" r="2.9"/>
<circle class="o" cx="666.1" cy="252.0" r="2.9"/>
<circle class="o" cx="828.2" cy="279.9" r="2.9"/>
<circle class="o" cx="788.0" cy="177.9" r="2.9"/>
<circle class="o" cx="549.6" cy="272.6" r="2.9"/>
<circle class="o" cx="632.8" cy="344.3" r="2.9"/>
<circle class="o" cx="767.5" cy="298.6" r="2.9"/>
<circle class="o" cx="545.2" cy="428.1" r="2.9"/>
<circle class="o" cx="754.5" cy="174.1" r="2.9"/>
<circle class="o" cx="707.2" cy="320.0" r="2.9"/>
<circle class="o" cx="632.8" cy="284.5" r="2.9"/>
<circle class="o" cx="638.8" cy="283.9" r="2.9"/>
<circle class="o" cx="520.9" cy="295.2" r="2.9"/>
<circle class="o" cx="646.0" cy="355.7" r="2.9"/>
<circle class="o" cx="439.8" cy="340.5" r="2.9"/>
<circle class="o" cx="591.2" cy="416.1" r="2.9"/>
<circle class="o" cx="570.4" cy="366.9" r="2.9"/>
<circle class="o" cx="767.5" cy="379.5" r="2.9"/>
<circle class="o" cx="547.6" cy="401.9" r="2.9"/>
<circle class="o" cx="357.6" cy="443.4" r="2.9"/>
<circle class="o" cx="343.6" cy="384.6" r="2.9"/>
<circle class="o" cx="646.0" cy="312.2" r="2.9"/>
<circle class="o" cx="696.4" cy="254.3" r="2.9"/>
<circle class="o" cx="450.7" cy="267.6" r="2.9"/>
<circle class="o" cx="426.8" cy="496.9" r="2.9"/>
<circle class="o" cx="809.8" cy="170.1" r="2.9"/>
<circle class="o" cx="809.8" cy="111.6" r="2.9"/>
<circle class="o" cx="426.8" cy="455.6" r="2.9"/>
<circle class="o" cx="749.9" cy="238.9" r="2.9"/>
<circle class="o" cx="623.6" cy="412.8" r="2.9"/>
<circle class="o" cx="533.6" cy="152.9" r="2.8"/>
<circle class="o" cx="650.2" cy="302.0" r="2.8"/>
<circle class="o" cx="570.4" cy="382.2" r="2.8"/>
<circle class="o" cx="570.4" cy="416.6" r="2.8"/>
<circle class="o" cx="740.3" cy="286.1" r="2.8"/>
<circle class="o" cx="431.4" cy="286.1" r="2.8"/>
<circle class="o" cx="657.4" cy="240.5" r="2.8"/>
<circle class="o" cx="711.2" cy="282.4" r="2.8"/>
<circle class="o" cx="459.9" cy="279.9" r="2.8"/>
<circle class="o" cx="551.3" cy="252.0" r="2.8"/>
<circle class="o" cx="788.0" cy="290.5" r="2.8"/>
<circle class="o" cx="775.6" cy="244.6" r="2.8"/>
<circle class="o" cx="623.6" cy="152.9" r="2.8"/>
<circle class="o" cx="821.1" cy="283.9" r="2.8"/>
<circle class="o" cx="730.0" cy="91.7" r="2.8"/>
<circle class="o" cx="547.6" cy="257.7" r="2.8"/>
<circle class="o" cx="730.0" cy="270.8" r="2.8"/>
<circle class="o" cx="570.4" cy="321.1" r="2.8"/>
<circle class="o" cx="322.8" cy="276.3" r="2.8"/>
<circle class="o" cx="549.6" cy="344.3" r="2.8"/>
<circle class="o" cx="526.9" cy="390.6" r="2.8"/>
<circle class="o" cx="875.0" cy="202.9" r="2.8"/>
<circle class="o" cx="602.3" cy="299.7" r="2.8"/>
<circle class="o" cx="299.8" cy="200.8" r="2.8"/>
<circle class="o" cx="289.8" cy="200.3" r="2.8"/>
<circle class="o" cx="260.7" cy="476.7" r="2.8"/>
<circle class="o" cx="711.2" cy="347.2" r="2.8"/>
<circle class="o" cx="570.4" cy="249.2" r="2.8"/>
<circle class="o" cx="730.0" cy="321.1" r="2.8"/>
<circle class="o" cx="800.9" cy="254.8" r="2.8"/>
<circle class="o" cx="593.2" cy="310.2" r="2.8"/>
<circle class="o" cx="775.6" cy="280.7" r="2.8"/>
<circle class="o" cx="618.3" cy="207.9" r="2.8"/>
<circle class="o" cx="783.2" cy="244.6" r="2.8"/>
<circle class="o" cx="657.4" cy="353.0" r="2.8"/>
<circle class="o" cx="547.6" cy="441.2" r="2.8"/>
<circle class="o" cx="426.8" cy="276.7" r="2.8"/>
<circle class="o" cx="485.9" cy="379.5" r="2.8"/>
<circle class="o" cx="809.8" cy="279.0" r="2.8"/>
<circle class="o" cx="767.5" cy="314.8" r="2.8"/>
<circle class="o" cx="426.8" cy="221.7" r="2.8"/>
<circle class="o" cx="485.9" cy="201.5" r="2.8"/>
<circle class="o" cx="570.4" cy="418.9" r="2.8"/>
<circle class="o" cx="761.9" cy="221.7" r="2.8"/>
<circle class="o" cx="570.4" cy="211.9" r="2.8"/>
<circle class="o" cx="602.3" cy="152.9" r="2.8"/>
<circle class="o" cx="644.0" cy="396.3" r="2.8"/>
<circle class="o" cx="707.2" cy="152.9" r="2.8"/>
<circle class="o" cx="474.7" cy="455.6" r="2.8"/>
<circle class="o" cx="570.4" cy="204.5" r="2.8"/>
<circle class="o" cx="570.4" cy="216.4" r="2.8"/>
<circle class="o" cx="644.0" cy="290.5" r="2.8"/>
<circle class="o" cx="474.7" cy="354.7" r="2.8"/>
<circle class="o" cx="459.9" cy="385.8" r="2.8"/>
<circle class="o" cx="552.7" cy="275.2" r="2.8"/>
<circle class="o" cx="474.7" cy="336.4" r="2.8"/>
<circle class="o" cx="429.6" cy="169.1" r="2.8"/>
<circle class="o" cx="638.8" cy="261.0" r="2.8"/>
<circle class="o" cx="343.6" cy="239.8" r="2.8"/>
<circle class="o" cx="707.2" cy="192.2" r="2.8"/>
<circle class="o" cx="849.6" cy="221.7" r="2.8"/>
<circle class="o" cx="552.7" cy="336.4" r="2.8"/>
<circle class="o" cx="607.2" cy="269.3" r="2.8"/>
<circle class="o" cx="749.9" cy="324.9" r="2.8"/>
<circle class="o" cx="607.2" cy="195.2" r="2.8"/>
<circle class="o" cx="444.4" cy="210.8" r="2.8"/>
<circle class="o" cx="740.3" cy="330.4" r="2.8"/>
<circle class="o" cx="570.4" cy="388.8" r="2.8"/>
<circle class="o" cx="711.2" cy="395.7" r="2.8"/>
<circle class="o" cx="444.4" cy="297.7" r="2.8"/>
<circle class="o" cx="969.3" cy="130.0" r="2.8"/>
<circle class="o" cx="383.1" cy="248.6" r="2.8"/>
<circle class="o" cx="690.1" cy="370.8" r="2.8"/>
<circle class="o" cx="291.2" cy="187.3" r="2.8"/>
<circle class="o" cx="659.0" cy="142.7" r="2.8"/>
<circle class="o" cx="857.6" cy="152.9" r="2.8"/>
<circle class="o" cx="474.7" cy="244.6" r="2.8"/>
<circle class="o" cx="619.9" cy="399.6" r="2.8"/>
<circle class="o" cx="283.2" cy="441.9" r="2.8"/>
<circle class="o" cx="390.9" cy="187.3" r="2.8"/>
<circle class="o" cx="373.3" cy="331.0" r="2.8"/>
<circle class="o" cx="630.2" cy="170.1" r="2.8"/>
<circle class="o" cx="538.5" cy="272.2" r="2.8"/>
<circle class="o" cx="522.5" cy="235.5" r="2.8"/>
<circle class="o" cx="331.1" cy="152.9" r="2.8"/>
<circle class="o" cx="696.4" cy="283.3" r="2.8"/>
<circle class="o" cx="788.0" cy="215.4" r="2.8"/>
<circle class="o" cx="446.3" cy="366.9" r="2.8"/>
<circle class="o" cx="547.6" cy="231.5" r="2.8"/>
<circle class="o" cx="265.8" cy="177.9" r="2.8"/>
<circle class="o" cx="570.4" cy="347.8" r="2.8"/>
<circle class="o" cx="312.6" cy="449.3" r="2.8"/>
<circle class="o" cx="474.7" cy="171.2" r="2.8"/>
<circle class="o" cx="674.5" cy="296.5" r="2.8"/>
<circle class="o" cx="654.9" cy="331.0" r="2.8"/>
<circle class="o" cx="754.5" cy="354.0" r="2.8"/>
<circle class="o" cx="456.4" cy="244.6" r="2.8"/>
<circle class="o" cx="593.2" cy="152.9" r="2.8"/>
<circle class="o" cx="570.4" cy="408.4" r="2.8"/>
<circle class="o" cx="809.8" cy="307.7" r="2.8"/>
<circle class="o" cx="788.0" cy="278.0" r="2.8"/>
<circle class="o" cx="980.7" cy="113.6" r="2.8"/>
<circle class="o" cx="464.0" cy="321.1" r="2.8"/>
<circle class="o" cx="545.2" cy="341.2" r="2.8"/>
<circle class="o" cx="602.3" cy="207.9" r="2.8"/>
<circle class="o" cx="293.3" cy="442.6" r="2.7"/>
<circle class="o" cx="530.5" cy="336.4" r="2.7"/>
<circle class="o" cx="386.3" cy="428.1" r="2.7"/>
<circle class="o" cx="591.2" cy="380.2" r="2.7"/>
<circle class="o" cx="424.7" cy="224.7" r="2.7"/>
<circle class="o" cx="347.0" cy="428.1" r="2.7"/>
<circle class="o" cx="474.7" cy="464.8" r="2.7"/>
<circle class="o" cx="905.5" cy="207.9" r="2.7"/>
<circle class="o" cx="793.8" cy="189.6" r="2.7"/>
<circle class="o" cx="638.8" cy="362.6" r="2.7"/>
<circle class="o" cx="464.0" cy="229.3" r="2.7"/>
<circle class="o" cx="711.2" cy="331.0" r="2.7"/>
<circle class="o" cx="684.4" cy="257.7" r="2.7"/>
<circle class="o" cx="296.9" cy="152.9" r="2.7"/>
<circle class="o" cx="783.2" cy="321.1" r="2.7"/>
<circle class="o" cx="704.4" cy="296.0" r="2.7"/>
<circle class="o" cx="716.1" cy="224.7" r="2.7"/>
<circle class="o" cx="552.7" cy="254.8" r="2.7"/>
<circle class="o" cx="506.6" cy="327.2" r="2.7"/>
<circle class="o" cx="654.9" cy="169.1" r="2.7"/>
<circle class="o" cx="283.2" cy="244.6" r="2.7"/>
<circle class="o" cx="538.5" cy="299.7" r="2.7"/>
<circle class="o" cx="869.6" cy="238.9" r="2.7"/>
<circle class="o" cx="799.3" cy="236.7" r="2.7"/>
<circle class="o" cx="331.1" cy="428.1" r="2.7"/>
<circle class="o" cx="613.9" cy="428.1" r="2.7"/>
<circle class="o" cx="570.4" cy="237.6" r="2.7"/>
<circle class="o" cx="746.8" cy="196.4" r="2.7"/>
<circle class="o" cx="765.4" cy="285.4" r="2.7"/>
<circle class="o" cx="383.1" cy="224.7" r="2.7"/>
<circle class="o" cx="444.4" cy="196.4" r="2.7"/>
<circle class="o" cx="296.9" cy="310.2" r="2.7"/>
<circle class="o" cx="819.3" cy="75.8" r="2.7"/>
<circle class="o" cx="630.2" cy="359.3" r="2.7"/>
<circle class="o" cx="690.1" cy="267.6" r="2.7"/>
<circle class="o" cx="701.0" cy="152.9" r="2.7"/>
<circle class="o" cx="410.8" cy="259.9" r="2.7"/>
<circle class="o" cx="474.7" cy="307.0" r="2.7"/>
<circle class="o" cx="347.0" cy="152.9" r="2.7"/>
<circle class="o" cx="921.4" cy="409.8" r="2.7"/>
<circle class="o" cx="450.7" cy="170.1" r="2.7"/>
<circle class="o" cx="623.6" cy="387.3" r="2.7"/>
<circle class="o" cx="570.4" cy="315.5" r="2.7"/>
<circle class="o" cx="365.2" cy="251.2" r="2.7"/>
<circle class="o" cx="553.9" cy="437.6" r="2.7"/>
<circle class="o" cx="341.5" cy="284.5" r="2.7"/>
<circle class="o" cx="704.4" cy="329.0" r="2.7"/>
<circle class="o" cx="627.8" cy="263.0" r="2.7"/>
<circle class="o" cx="283.2" cy="428.1" r="2.7"/>
<circle class="o" cx="831.5" cy="215.4" r="2.7"/>
<circle class="o" cx="857.6" cy="107.0" r="2.7"/>
<circle class="o" cx="321.5" cy="252.0" r="2.7"/>
<circle class="o" cx="765.4" cy="428.1" r="2.7"/>
<circle class="o" cx="312.6" cy="163.5" r="2.7"/>
<circle class="o" cx="538.5" cy="189.6" r="2.7"/>
<circle class="o" cx="317.0" cy="152.9" r="2.7"/>
<circle class="o" cx="657.4" cy="315.5" r="2.7"/>
<circle class="o" cx="502.0" cy="323.3" r="2.7"/>
<circle class="o" cx="570.4" cy="410.9" r="2.7"/>
<circle class="o" cx="386.3" cy="216.4" r="2.7"/>
<circle class="o" cx="341.5" cy="176.8" r="2.7"/>
<circle class="o" cx="410.8" cy="229.3" r="2.7"/>
<circle class="o" cx="730.0" cy="263.0" r="2.7"/>
<circle class="o" cx="598.6" cy="379.5" r="2.7"/>
<circle class="o" cx="483.4" cy="240.5" r="2.7"/>
<circle class="o" cx="570.4" cy="462.5" r="2.7"/>
<circle class="o" cx="701.0" cy="152.9" r="2.7"/>
<circle class="o" cx="456.4" cy="349.5" r="2.7"/>
<circle class="o" cx="429.6" cy="331.0" r="2.7"/>
<circle class="o" cx="349.5" cy="449.3" r="2.7"/>
<circle class="o" cx="549.6" cy="284.5" r="2.7"/>
<circle class="o" cx="331.1" cy="462.5" r="2.7"/>
<circle class="o" cx="938.6" cy="343.4" r="2.7"/>
<circle class="o" cx="701.0" cy="290.5" r="2.7"/>
<circle class="o" cx="426.8" cy="318.0" r="2.7"/>
<circle class="o" cx="623.6" cy="321.1" r="2.7"/>
<circle class="o" cx="831.5" cy="265.5" r="2.7"/>
<circle class="o" cx="666.1" cy="391.4" r="2.7"/>
<circle class="o" cx="553.9" cy="418.6" r="2.7"/>
<circle class="o" cx="508.0" cy="260.6" r="2.7"/>
<circle class="o" cx="508.0" cy="356.3" r="2.7"/>
<circle class="o" cx="657.4" cy="378.1" r="2.7"/>
<circle class="o" cx="410.8" cy="207.9" r="2.7"/>
<circle class="o" cx="317.0" cy="444.3" r="2.7"/>
<circle class="o" cx="570.4" cy="207.9" r="2.7"/>
<circle class="o" cx="676.8" cy="198.8" r="2.7"/>
<circle class="o" cx="494.8" cy="297.7" r="2.7"/>
<circle class="o" cx="474.7" cy="446.4" r="2.7"/>
<circle class="o" cx="650.2" cy="244.6" r="2.7"/>
<circle class="o" cx="570.4" cy="320.0" r="2.7"/>
<circle class="o" cx="533.6" cy="343.4" r="2.7"/>
<circle class="o" cx="510.6" cy="170.1" r="2.7"/>
<circle class="o" cx="690.1" cy="410.9" r="2.7"/>
<circle class="o" cx="632.8" cy="272.6" r="2.7"/>
<circle class="o" cx="650.2" cy="313.4" r="2.7"/>
<circle class="o" cx="483.4" cy="290.5" r="2.7"/>
<circle class="o" cx="602.3" cy="244.6" r="2.7"/>
<circle class="o" cx="459.9" cy="290.5" r="2.7"/>
<circle class="o" cx="526.9" cy="340.5" r="2.7"/>
<circle class="o" cx="666.1" cy="276.7" r="2.7"/>
<circle class="o" cx="410.8" cy="256.1" r="2.7"/>
<circle class="o" cx="698.1" cy="336.4" r="2.7"/>
<circle class="o" cx="690.1" cy="273.3" r="2.7"/>
<circle class="o" cx="410.8" cy="391.4" r="2.7"/>
<circle class="o" cx="283.2" cy="455.6" r="2.6"/>
<circle class="o" cx="436.4" cy="318.0" r="2.6"/>
<circle class="o" cx="530.5" cy="233.2" r="2.6"/>
<circle class="o" cx="378.9" cy="373.1" r="2.6"/>
<circle class="o" cx="459.9" cy="174.1" r="2.6"/>
<circle class="o" cx="553.9" cy="295.2" r="2.6"/>
<circle class="o" cx="549.6" cy="296.5" r="2.6"/>
<circle class="o" cx="513.0" cy="241.0" r="2.6"/>
<circle class="o" cx="765.4" cy="356.8" r="2.6"/>
<circle class="o" cx="459.9" cy="195.2" r="2.6"/>
<circle class="o" cx="446.3" cy="305.8" r="2.6"/>
<circle class="o" cx="474.7" cy="329.0" r="2.6"/>
<circle class="o" cx="570.4" cy="267.6" r="2.6"/>
<circle class="o" cx="508.0" cy="272.6" r="2.6"/>
<circle class="o" cx="585.8" cy="401.5" r="2.6"/>
<circle class="o" cx="399.4" cy="496.9" r="2.6"/>
<circle class="o" cx="459.9" cy="343.4" r="2.6"/>
<circle class="o" cx="793.8" cy="226.3" r="2.6"/>
<circle class="o" cx="317.0" cy="250.0" r="2.6"/>
<circle class="o" cx="869.6" cy="290.5" r="2.6"/>
<circle class="o" cx="269.0" cy="468.9" r="2.6"/>
<circle class="o" cx="359.8" cy="318.0" r="2.6"/>
<circle class="o" cx="676.8" cy="229.3" r="2.6"/>
<circle class="o" cx="865.0" cy="121.1" r="2.6"/>
<circle class="o" cx="674.5" cy="320.4" r="2.6"/>
<circle class="o" cx="483.4" cy="365.6" r="2.6"/>
<circle class="o" cx="192.5" cy="428.1" r="2.6"/>
<circle class="o" cx="799.3" cy="260.6" r="2.6"/>
<circle class="o" cx="613.9" cy="152.9" r="2.6"/>
<circle class="o" cx="610.3" cy="370.8" r="2.6"/>
<circle class="o" cx="410.8" cy="323.3" r="2.6"/>
<circle class="o" cx="676.8" cy="275.2" r="2.6"/>
<circle class="o" cx="593.2" cy="205.3" r="2.6"/>
<circle class="o" cx="701.0" cy="202.9" r="2.6"/>
<circle class="o" cx="388.8" cy="428.1" r="2.6"/>
<circle class="o" cx="570.4" cy="386.8" r="2.6"/>
<circle class="o" cx="490.6" cy="221.7" r="2.6"/>
<circle class="o" cx="684.4" cy="244.6" r="2.6"/>
<circle class="o" cx="343.6" cy="384.6" r="2.6"/>
<circle class="o" cx="496.8" cy="311.7" r="2.6"/>
<circle class="o" cx="654.9" cy="152.9" r="2.6"/>
<circle class="o" cx="423.1" cy="269.3" r="2.6"/>
<circle class="o" cx="474.7" cy="304.3" r="2.6"/>
<circle class="o" cx="542.2" cy="298.6" r="2.6"/>
<circle class="o" cx="684.4" cy="297.1" r="2.6"/>
<circle class="o" cx="716.1" cy="320.4" r="2.6"/>
<circle class="o" cx="696.4" cy="297.7" r="2.6"/>
<circle class="o" cx="744.5" cy="215.4" r="2.6"/>
<circle class="o" cx="819.3" cy="318.0" r="2.6"/>
<circle class="o" cx="410.8" cy="263.0" r="2.6"/>
<circle class="o" cx="746.8" cy="370.2" r="2.6"/>
<circle class="o" cx="386.3" cy="237.6" r="2.6"/>
<circle class="o" cx="570.4" cy="376.5" r="2.6"/>
<circle class="o" cx="707.2" cy="270.8" r="2.6"/>
<circle class="o" cx="444.4" cy="312.2" r="2.6"/>
<circle class="o" cx="545.2" cy="254.3" r="2.6"/>
<circle class="o" cx="730.0" cy="189.6" r="2.6"/>
<circle class="o" cx="474.7" cy="409.8" r="2.6"/>
<circle class="o" cx="439.8" cy="453.1" r="2.6"/>
<circle class="o" cx="386.3" cy="385.8" r="2.6"/>
<circle class="o" cx="623.6" cy="265.0" r="2.6"/>
<circle class="o" cx="536.2" cy="398.6" r="2.6"/>
<circle class="o" cx="429.6" cy="363.3" r="2.6"/>
<circle class="o" cx="650.2" cy="198.8" r="2.6"/>
<circle class="o" cx="746.8" cy="326.7" r="2.6"/>
<circle class="o" cx="398.1" cy="417.1" r="2.6"/>
<circle class="o" cx="375.4" cy="336.4" r="2.6"/>
<circle class="o" cx="666.1" cy="417.1" r="2.6"/>
<circle class="o" cx="821.1" cy="349.5" r="2.6"/>
<circle class="o" cx="365.2" cy="211.9" r="2.6"/>
<circle class="o" cx="517.2" cy="474.0" r="2.6"/>
<circle class="o" cx="646.0" cy="210.8" r="2.6"/>
<circle class="o" cx="410.8" cy="171.2" r="2.6"/>
<circle class="o" cx="459.9" cy="470.4" r="2.6"/>
<circle class="o" cx="547.6" cy="205.3" r="2.6"/>
<circle class="o" cx="421.8" cy="295.2" r="2.6"/>
<circle class="o" cx="857.6" cy="207.9" r="2.6"/>
<circle class="o" cx="690.1" cy="152.9" r="2.6"/>
<circle class="o" cx="666.1" cy="171.2" r="2.6"/>
<circle class="o" cx="598.6" cy="331.0" r="2.6"/>
<circle class="o" cx="251.3" cy="412.8" r="2.6"/>
<circle class="o" cx="627.8" cy="285.0" r="2.6"/>
<circle class="o" cx="502.0" cy="441.2" r="2.6"/>
<circle class="o" cx="454.9" cy="494.5" r="2.6"/>
<circle class="o" cx="433.6" cy="349.5" r="2.6"/>
<circle class="o" cx="800.9" cy="295.6" r="2.6"/>
<circle class="o" cx="570.4" cy="393.7" r="2.6"/>
<circle class="o" cx="602.3" cy="171.2" r="2.6"/>
<circle class="o" cx="719.0" cy="105.5" r="2.6"/>
<circle class="o" cx="754.5" cy="322.3" r="2.6"/>
<circle class="o" cx="607.2" cy="142.3" r="2.5"/>
<circle class="o" cx="262.7" cy="467.4" r="2.5"/>
<circle class="o" cx="884.0" cy="143.4" r="2.5"/>
<circle class="o" cx="331.1" cy="238.9" r="2.5"/>
<circle class="o" cx="746.8" cy="95.0" r="2.5"/>
<circle class="o" cx="638.8" cy="103.8" r="2.5"/>
<circle class="o" cx="262.7" cy="447.8" r="2.5"/>
<circle class="o" cx="912.3" cy="152.9" r="2.5"/>
<circle class="o" cx="375.4" cy="203.9" r="2.5"/>
<circle class="o" cx="296.9" cy="192.2" r="2.5"/>
<circle class="o" cx="602.3" cy="501.5" r="2.5"/>
<circle class="o" cx="283.2" cy="152.9" r="2.5"/>
<circle class="o" cx="1049.4" cy="282.0" r="2.5"/>
<circle class="o" cx="352.8" cy="177.9" r="2.5"/>
<circle class="o" cx="526.9" cy="453.1" r="2.5"/>
<circle class="o" cx="304.5" cy="198.8" r="2.5"/>
<circle class="o" cx="258.2" cy="440.1" r="2.5"/>
<circle class="o" cx="989.3" cy="152.9" r="2.5"/>
<circle class="o" cx="216.6" cy="476.0" r="2.5"/>
<circle class="o" cx="352.8" cy="253.0" r="2.4"/>
<circle class="o" cx="570.4" cy="449.3" r="2.4"/>
<circle class="o" cx="744.5" cy="152.9" r="2.4"/>
<circle class="o" cx="211.4" cy="428.1" r="2.4"/>
<circle class="o" cx="357.6" cy="214.1" r="2.4"/>
<circle class="o" cx="553.9" cy="447.1" r="2.4"/>
<circle class="o" cx="375.4" cy="173.3" r="2.4"/>
<circle class="o" cx="857.6" cy="406.1" r="2.4"/>
<circle class="o" cx="383.1" cy="392.2" r="2.4"/>
<circle class="o" cx="410.8" cy="446.4" r="2.4"/>
<circle class="o" cx="352.8" cy="478.1" r="2.4"/>
<circle class="o" cx="593.2" cy="467.4" r="2.4"/>
<circle class="o" cx="602.3" cy="116.2" r="2.4"/>
<circle class="o" cx="889.5" cy="347.8" r="2.4"/>
<circle class="o" cx="331.1" cy="462.5" r="2.4"/>
<circle class="o" cx="570.4" cy="496.9" r="2.4"/>
<circle class="o" cx="296.9" cy="310.2" r="2.4"/>
<circle class="o" cx="378.9" cy="166.7" r="2.4"/>
<circle class="o" cx="836.3" cy="152.9" r="2.4"/>
<circle class="o" cx="347.0" cy="464.8" r="2.4"/>
<circle class="o" cx="942.7" cy="351.7" r="2.4"/>
<circle class="o" cx="666.1" cy="84.1" r="2.4"/>
<circle class="o" cx="378.9" cy="455.6" r="2.4"/>
<circle class="o" cx="375.4" cy="438.3" r="2.4"/>
<circle class="o" cx="319.7" cy="244.6" r="2.4"/>
<circle class="o" cx="619.9" cy="456.6" r="2.3"/>
<circle class="o" cx="321.5" cy="207.9" r="2.3"/>
<circle class="o" cx="496.8" cy="470.4" r="2.3"/>
<circle class="o" cx="352.8" cy="190.4" r="2.3"/>
<circle class="o" cx="623.6" cy="468.9" r="2.3"/>
<circle class="o" cx="198.1" cy="458.7" r="2.3"/>
<circle class="o" cx="291.2" cy="336.4" r="2.3"/>
<circle class="o" cx="309.3" cy="240.5" r="2.3"/>
<circle class="o" cx="510.6" cy="462.5" r="2.3"/>
<circle class="o" cx="304.5" cy="198.8" r="2.3"/>
<circle class="o" cx="357.6" cy="198.8" r="2.3"/>
<circle class="o" cx="607.2" cy="89.4" r="2.3"/>
<circle class="o" cx="265.8" cy="353.0" r="2.3"/>
<circle class="o" cx="296.9" cy="487.1" r="2.3"/>
<circle class="o" cx="570.4" cy="462.5" r="2.3"/>
<circle class="o" cx="378.9" cy="263.0" r="2.3"/>
<circle class="o" cx="467.8" cy="457.6" r="2.3"/>
<circle class="o" cx="291.2" cy="233.2" r="2.3"/>
<circle class="o" cx="882.6" cy="93.1" r="2.3"/>
<circle class="o" cx="602.3" cy="501.5" r="2.3"/>
<circle class="o" cx="953.4" cy="290.5" r="2.3"/>
<circle class="o" cx="869.6" cy="324.9" r="2.2"/>
<circle class="o" cx="953.4" cy="152.9" r="2.2"/>
<circle class="o" cx="410.8" cy="464.8" r="2.2"/>
<circle class="o" cx="283.2" cy="241.0" r="2.2"/>
<circle class="o" cx="591.2" cy="129.0" r="2.2"/>
<circle class="o" cx="650.2" cy="496.9" r="2.2"/>
<circle class="o" cx="331.1" cy="251.2" r="2.2"/>
<circle class="o" cx="676.8" cy="443.4" r="2.2"/>
<circle class="o" cx="293.3" cy="225.3" r="2.2"/>
<circle class="o" cx="283.2" cy="400.6" r="2.2"/>
<circle class="o" cx="211.4" cy="496.9" r="2.2"/>
<circle class="o" cx="623.6" cy="458.7" r="2.2"/>
<circle class="o" cx="433.6" cy="447.8" r="2.2"/>
<circle class="o" cx="474.7" cy="496.9" r="2.2"/>
<circle class="o" cx="638.8" cy="447.8" r="2.2"/>
<circle class="o" cx="331.1" cy="447.8" r="2.2"/>
<circle class="o" cx="450.7" cy="462.5" r="2.1"/>
<circle class="o" cx="198.1" cy="428.1" r="2.1"/>
<circle class="o" cx="275.8" cy="481.0" r="2.1"/>
<circle class="o" cx="634.2" cy="446.4" r="2.1"/>
<circle class="o" cx="283.2" cy="496.9" r="2.1"/>
<circle class="o" cx="481.8" cy="438.3" r="2.1"/>
<circle class="o" cx="474.7" cy="464.8" r="2.1"/>
<circle class="o" cx="657.4" cy="440.6" r="2.1"/>
<circle class="o" cx="570.4" cy="455.6" r="2.1"/>
<circle class="o" cx="352.8" cy="453.1" r="2.1"/>
<circle class="o" cx="265.8" cy="440.6" r="2.1"/>
<circle class="o" cx="680.9" cy="491.6" r="2.1"/>
<circle class="o" cx="239.0" cy="491.6" r="2.1"/>
<circle class="o" cx="265.8" cy="503.2" r="2.0"/>
<circle class="o" cx="283.2" cy="455.6" r="2.0"/>
<circle class="o" cx="410.8" cy="519.8" r="2.0"/>
<circle class="o" cx="202.2" cy="438.7" r="2.0"/>
<circle class="o" cx="474.7" cy="483.1" r="2.0"/>
<circle class="o" cx="331.1" cy="441.9" r="2.0"/>
<circle class="o" cx="551.3" cy="450.1" r="1.9"/>
<circle class="o" cx="251.3" cy="443.4" r="1.9"/>
<circle class="o" cx="343.6" cy="486.0" r="1.9"/>
<circle class="o" cx="258.2" cy="452.0" r="1.9"/>
<circle class="o" cx="352.8" cy="453.1" r="1.9"/>
<circle class="o" cx="265.8" cy="503.2" r="1.9"/>
<circle class="o" cx="410.8" cy="483.1" r="1.9"/>
<circle class="o" cx="398.1" cy="439.1" r="1.9"/>
<circle class="o" cx="216.6" cy="511.9" r="1.9"/>
<circle class="o" cx="490.6" cy="451.0" r="1.9"/>
<circle class="o" cx="274.1" cy="467.4" r="1.8"/>
<circle class="o" cx="522.5" cy="441.9" r="1.8"/>
<circle class="o" cx="551.3" cy="450.1" r="1.8"/>
<circle class="o" cx="187.4" cy="464.8" r="1.8"/>
<circle class="o" cx="674.5" cy="464.0" r="1.8"/>
<circle class="o" cx="187.4" cy="441.9" r="1.8"/>
<circle class="o" cx="260.7" cy="444.3" r="1.7"/>
<circle class="r" cx="482.4" cy="406.4" r="10.5"/>
<circle class="r" cx="219.6" cy="95.4" r="9.7"/>
<circle class="r" cx="718.0" cy="283.0" r="9.0"/>
<circle class="r" cx="228.6" cy="270.5" r="9.0"/>
<circle class="r" cx="730.0" cy="244.0" r="8.0"/>
<circle class="r" cx="433.2" cy="388.0" r="8.0"/>
<circle class="r" cx="229.8" cy="92.8" r="6.4"/>
<circle class="r" cx="1155.9" cy="275.0" r="6.0"/>
<circle class="r" cx="206.6" cy="196.9" r="5.8"/>
<circle class="r" cx="283.6" cy="98.0" r="5.6"/>
<circle class="r" cx="357.8" cy="443.3" r="5.5"/>
<circle class="r" cx="1155.9" cy="184.0" r="5.0"/>
<circle class="r" cx="265.8" cy="202.9" r="4.7"/>
<circle class="r" cx="160.7" cy="92.8" r="4.6"/>
<circle class="r" cx="502.0" cy="388.8" r="4.2"/>
<circle class="r" cx="429.6" cy="298.6" r="4.2"/>
<circle class="r" cx="754.5" cy="301.1" r="4.2"/>
<circle class="r" cx="490.6" cy="359.3" r="4.2"/>
<circle class="r" cx="613.9" cy="278.0" r="4.2"/>
<circle class="r" cx="666.1" cy="304.3" r="4.2"/>
<circle class="r" cx="716.1" cy="380.2" r="4.2"/>
<circle class="r" cx="450.7" cy="342.1" r="4.2"/>
<circle class="r" cx="450.7" cy="359.3" r="4.2"/>
<circle class="r" cx="570.4" cy="347.8" r="4.2"/>
<circle class="r" cx="502.0" cy="290.5" r="4.2"/>
<circle class="r" cx="749.9" cy="376.5" r="4.2"/>
<circle class="r" cx="378.9" cy="180.4" r="4.2"/>
<circle class="r" cx="690.1" cy="221.7" r="4.2"/>
<circle class="r" cx="730.0" cy="152.9" r="4.2"/>
<circle class="r" cx="613.9" cy="177.9" r="4.2"/>
<circle class="r" cx="666.1" cy="207.9" r="4.2"/>
<circle class="r" cx="809.8" cy="410.9" r="4.2"/>
<circle class="r" cx="809.8" cy="342.1" r="4.2"/>
<circle class="r" cx="530.5" cy="428.1" r="4.1"/>
<circle class="r" cx="570.4" cy="211.9" r="4.1"/>
<circle class="r" cx="464.0" cy="351.7" r="4.0"/>
<circle class="r" cx="650.2" cy="61.2" r="4.0"/>
<circle class="r" cx="331.1" cy="221.7" r="3.9"/>
<circle class="r" cx="711.2" cy="347.2" r="3.9"/>
<circle class="r" cx="219.4" cy="189.6" r="3.8"/>
<circle class="r" cx="331.1" cy="267.6" r="3.8"/>
<circle class="r" cx="331.1" cy="235.5" r="3.8"/>
<circle class="r" cx="341.5" cy="69.1" r="3.8"/>
<circle class="r" cx="618.3" cy="386.8" r="3.8"/>
<circle class="r" cx="347.0" cy="244.6" r="3.8"/>
<circle class="r" cx="761.9" cy="400.6" r="3.8"/>
<circle class="r" cx="912.7" cy="329.2" r="3.7"/>
<circle class="r" cx="614.1" cy="78.0" r="3.7"/>
<circle class="r" cx="390.9" cy="307.7" r="3.7"/>
<circle class="r" cx="410.8" cy="198.8" r="3.6"/>
<circle class="r" cx="456.4" cy="139.8" r="3.6"/>
<circle class="r" cx="788.0" cy="428.1" r="3.5"/>
<circle class="r" cx="251.3" cy="214.1" r="3.5"/>
<circle class="r" cx="650.2" cy="107.0" r="3.4"/>
<circle class="r" cx="666.1" cy="42.8" r="3.4"/>
<circle class="r" cx="1208.4" cy="199.5" r="3.4"/>
<circle class="r" cx="365.2" cy="480.5" r="3.4"/>
<circle class="r" cx="638.8" cy="441.2" r="3.4"/>
<circle class="r" cx="730.0" cy="370.8" r="3.3"/>
<circle class="r" cx="331.0" cy="83.8" r="3.3"/>
<circle class="r" cx="598.6" cy="331.0" r="3.3"/>
<circle class="r" cx="450.7" cy="359.3" r="3.3"/>
<circle class="r" cx="602.3" cy="152.9" r="3.3"/>
<circle class="r" cx="439.8" cy="328.0" r="3.3"/>
<circle class="r" cx="570.4" cy="290.5" r="3.3"/>
<circle class="r" cx="730.0" cy="324.9" r="3.3"/>
<circle class="r" cx="526.9" cy="428.1" r="3.3"/>
<circle class="r" cx="809.8" cy="428.1" r="3.2"/>
<circle class="r" cx="674.5" cy="272.6" r="3.2"/>
<circle class="r" cx="390.9" cy="238.9" r="3.2"/>
<circle class="r" cx="1155.9" cy="119.2" r="3.2"/>
<circle class="r" cx="809.8" cy="273.3" r="3.2"/>
<circle class="r" cx="701.0" cy="353.0" r="3.2"/>
<circle class="r" cx="547.6" cy="336.4" r="3.2"/>
<circle class="r" cx="767.5" cy="379.5" r="3.1"/>
<circle class="r" cx="602.3" cy="134.6" r="3.1"/>
<circle class="r" cx="690.1" cy="428.1" r="3.1"/>
<circle class="r" cx="783.2" cy="305.8" r="3.1"/>
<circle class="r" cx="474.7" cy="263.0" r="3.1"/>
<circle class="r" cx="502.0" cy="388.8" r="3.1"/>
<circle class="r" cx="690.1" cy="290.5" r="3.1"/>
<circle class="r" cx="347.0" cy="281.3" r="3.1"/>
<circle class="r" cx="799.3" cy="380.2" r="3.1"/>
<circle class="r" cx="809.8" cy="373.1" r="3.1"/>
<circle class="r" cx="490.6" cy="233.2" r="3.0"/>
<circle class="r" cx="490.6" cy="382.2" r="3.0"/>
<circle class="r" cx="793.8" cy="373.1" r="3.0"/>
<circle class="r" cx="522.5" cy="359.3" r="3.0"/>
<circle class="r" cx="623.6" cy="305.8" r="3.0"/>
<circle class="r" cx="331.0" cy="497.0" r="3.0"/>
<circle class="r" cx="836.0" cy="367.6" r="3.0"/>
<circle class="r" cx="844.0" cy="368.7" r="3.0"/>
<circle class="r" cx="890.0" cy="450.6" r="3.0"/>
<circle class="r" cx="656.8" cy="440.0" r="3.0"/>
<circle class="r" cx="730.0" cy="336.4" r="3.0"/>
<circle class="r" cx="378.9" cy="345.5" r="3.0"/>
<circle class="r" cx="570.4" cy="336.4" r="3.0"/>
<circle class="r" cx="638.8" cy="329.8" r="3.0"/>
<circle class="r" cx="439.8" cy="228.0" r="3.0"/>
<circle class="r" cx="304.5" cy="244.6" r="3.0"/>
<circle class="r" cx="439.8" cy="428.1" r="2.9"/>
<circle class="r" cx="690.1" cy="359.3" r="2.9"/>
<circle class="r" cx="309.3" cy="140.4" r="2.9"/>
<circle class="r" cx="483.4" cy="415.6" r="2.9"/>
<circle class="r" cx="638.8" cy="100.5" r="2.9"/>
<circle class="r" cx="483.4" cy="152.9" r="2.9"/>
<circle class="r" cx="570.4" cy="428.1" r="2.8"/>
<circle class="r" cx="410.8" cy="428.1" r="2.8"/>
<circle class="r" cx="296.9" cy="231.5" r="2.8"/>
<circle class="r" cx="410.8" cy="366.9" r="2.8"/>
<circle class="r" cx="570.4" cy="428.1" r="2.8"/>
<circle class="r" cx="396.3" cy="265.5" r="2.8"/>
<circle class="r" cx="1049.4" cy="30.8" r="2.8"/>
<circle class="r" cx="242.9" cy="210.8" r="2.8"/>
<circle class="r" cx="882.6" cy="57.2" r="2.8"/>
<circle class="r" cx="466.3" cy="356.3" r="2.8"/>
<circle class="r" cx="570.4" cy="428.1" r="2.8"/>
<circle class="r" cx="296.9" cy="231.5" r="2.7"/>
<circle class="r" cx="510.6" cy="324.9" r="2.7"/>
<circle class="r" cx="251.3" cy="198.8" r="2.7"/>
<circle class="r" cx="716.1" cy="260.6" r="2.7"/>
<circle class="r" cx="386.3" cy="174.1" r="2.7"/>
<circle class="r" cx="251.3" cy="267.6" r="2.7"/>
<circle class="r" cx="666.1" cy="345.5" r="2.7"/>
<circle class="r" cx="547.6" cy="415.0" r="2.7"/>
<circle class="r" cx="545.2" cy="413.6" r="2.7"/>
<circle class="r" cx="638.8" cy="369.1" r="2.7"/>
<circle class="r" cx="533.6" cy="385.8" r="2.7"/>
<circle class="r" cx="373.3" cy="233.8" r="2.7"/>
<circle class="r" cx="459.9" cy="301.1" r="2.7"/>
<circle class="r" cx="526.9" cy="152.9" r="2.7"/>
<circle class="r" cx="283.2" cy="218.9" r="2.7"/>
<circle class="r" cx="630.2" cy="307.7" r="2.6"/>
<circle class="r" cx="450.7" cy="152.9" r="2.6"/>
<circle class="r" cx="357.6" cy="244.6" r="2.6"/>
<circle class="r" cx="365.2" cy="467.4" r="2.6"/>
<circle class="r" cx="793.8" cy="409.8" r="2.6"/>
<circle class="r" cx="530.5" cy="439.6" r="2.6"/>
<circle class="r" cx="761.9" cy="496.9" r="2.6"/>
<circle class="r" cx="331.1" cy="49.7" r="2.6"/>
<circle class="r" cx="228.5" cy="205.3" r="2.6"/>
<circle class="r" cx="357.6" cy="183.5" r="2.5"/>
<circle class="r" cx="767.5" cy="428.1" r="2.5"/>
<circle class="r" cx="424.7" cy="452.0" r="2.5"/>
<circle class="r" cx="757.7" cy="284.5" r="2.5"/>
<circle class="r" cx="680.9" cy="428.1" r="2.5"/>
<circle class="r" cx="761.9" cy="235.5" r="2.5"/>
<circle class="r" cx="244.9" cy="196.9" r="2.5"/>
<circle class="r" cx="426.8" cy="510.7" r="2.5"/>
<circle class="r" cx="570.4" cy="265.5" r="2.5"/>
<circle class="r" cx="1145.2" cy="125.5" r="2.5"/>
<circle class="r" cx="809.6" cy="462.0" r="2.5"/>
<circle class="r" cx="444.4" cy="355.7" r="2.5"/>
<circle class="r" cx="187.4" cy="263.0" r="2.5"/>
<circle class="r" cx="378.9" cy="235.5" r="2.5"/>
<circle class="r" cx="178.7" cy="127.9" r="2.4"/>
<circle class="r" cx="235.3" cy="180.4" r="2.4"/>
<circle class="r" cx="526.9" cy="77.8" r="2.4"/>
<circle class="r" cx="251.3" cy="214.1" r="2.4"/>
<circle class="r" cx="256.8" cy="209.8" r="2.4"/>
<circle class="r" cx="676.8" cy="183.5" r="2.4"/>
<circle class="r" cx="296.9" cy="211.9" r="2.4"/>
<circle class="r" cx="483.4" cy="190.4" r="2.4"/>
<circle class="r" cx="239.0" cy="195.2" r="2.4"/>
<circle class="r" cx="730.0" cy="244.6" r="2.4"/>
<circle class="r" cx="178.7" cy="127.9" r="2.4"/>
<circle class="r" cx="352.8" cy="253.0" r="2.4"/>
<circle class="r" cx="198.1" cy="183.5" r="2.4"/>
<circle class="r" cx="299.8" cy="476.0" r="2.4"/>
<circle class="r" cx="175.0" cy="272.6" r="2.4"/>
<circle class="r" cx="251.3" cy="496.9" r="2.4"/>
<circle class="r" cx="239.0" cy="449.3" r="2.4"/>
<circle class="r" cx="347.0" cy="171.2" r="2.4"/>
<circle class="r" cx="331.1" cy="244.6" r="2.4"/>
<circle class="r" cx="216.6" cy="200.8" r="2.4"/>
<circle class="r" cx="343.6" cy="51.5" r="2.4"/>
<circle class="r" cx="251.3" cy="221.7" r="2.3"/>
<circle class="r" cx="211.4" cy="256.1" r="2.3"/>
<circle class="r" cx="265.8" cy="215.4" r="2.3"/>
<circle class="r" cx="730.0" cy="508.4" r="2.3"/>
<circle class="r" cx="155.5" cy="171.2" r="2.3"/>
<circle class="r" cx="788.0" cy="202.9" r="2.3"/>
<circle class="r" cx="271.2" cy="49.7" r="2.3"/>
<circle class="r" cx="265.8" cy="202.9" r="2.3"/>
<circle class="r" cx="809.8" cy="410.9" r="2.3"/>
<circle class="r" cx="347.0" cy="226.3" r="2.3"/>
<circle class="r" cx="271.2" cy="152.9" r="2.3"/>
<circle class="r" cx="962.0" cy="478.4" r="2.3"/>
<circle class="r" cx="265.8" cy="202.9" r="2.3"/>
<circle class="r" cx="178.7" cy="177.9" r="2.3"/>
<circle class="r" cx="657.4" cy="265.5" r="2.3"/>
<circle class="r" cx="396.3" cy="340.5" r="2.3"/>
<circle class="r" cx="602.3" cy="263.0" r="2.3"/>
<circle class="r" cx="223.8" cy="190.9" r="2.3"/>
<circle class="r" cx="602.3" cy="501.5" r="2.3"/>
<circle class="r" cx="228.5" cy="244.6" r="2.2"/>
<circle class="r" cx="450.7" cy="462.5" r="2.2"/>
<circle class="r" cx="1155.8" cy="458.9" r="2.2"/>
<circle class="r" cx="1209.0" cy="474.2" r="2.2"/>
<circle class="r" cx="775.7" cy="35.6" r="2.2"/>
<circle class="r" cx="165.3" cy="195.2" r="2.2"/>
<circle class="r" cx="251.3" cy="122.3" r="2.2"/>
<circle class="r" cx="317.0" cy="217.7" r="2.2"/>
<circle class="r" cx="347.0" cy="263.0" r="2.2"/>
<circle class="r" cx="182.9" cy="244.6" r="2.2"/>
<circle class="r" cx="744.5" cy="390.6" r="2.2"/>
<circle class="r" cx="410.8" cy="275.2" r="2.2"/>
<circle class="r" cx="378.9" cy="235.5" r="2.2"/>
<circle class="r" cx="309.3" cy="228.0" r="2.2"/>
<circle class="r" cx="623.6" cy="168.2" r="2.2"/>
<circle class="r" cx="761.9" cy="290.5" r="2.1"/>
<circle class="r" cx="148.0" cy="120.5" r="2.1"/>
<circle class="r" cx="570.4" cy="393.7" r="2.1"/>
<circle class="r" cx="331.1" cy="118.5" r="2.1"/>
<circle class="r" cx="783.2" cy="351.7" r="2.1"/>
<circle class="r" cx="331.1" cy="221.7" r="2.1"/>
<circle class="r" cx="502.0" cy="231.5" r="2.1"/>
<circle class="r" cx="809.8" cy="428.1" r="2.1"/>
<circle class="r" cx="533.6" cy="364.6" r="2.1"/>
<circle class="r" cx="133.3" cy="117.0" r="2.1"/>
<circle class="r" cx="378.9" cy="345.5" r="2.1"/>
<circle class="r" cx="809.8" cy="331.8" r="2.1"/>
<circle class="r" cx="775.6" cy="369.1" r="2.1"/>
<circle class="r" cx="549.6" cy="296.5" r="2.1"/>
<circle class="r" cx="165.3" cy="68.2" r="2.1"/>
<circle class="r" cx="809.8" cy="382.2" r="2.0"/>
<circle class="r" cx="331.1" cy="256.1" r="2.0"/>
<circle class="r" cx="613.9" cy="253.0" r="2.0"/>
<circle class="r" cx="730.0" cy="336.4" r="2.0"/>
<circle class="r" cx="222.3" cy="202.9" r="2.0"/>
<circle class="r" cx="228.5" cy="192.2" r="2.0"/>
<circle class="r" cx="650.2" cy="279.0" r="2.0"/>
<circle class="r" cx="352.8" cy="265.5" r="2.0"/>
<circle class="r" cx="680.9" cy="343.4" r="2.0"/>
<circle class="r" cx="1123.3" cy="280.0" r="2.0"/>
<circle class="r" cx="357.6" cy="244.6" r="2.0"/>
<circle class="r" cx="204.3" cy="185.3" r="2.0"/>
<circle class="r" cx="251.3" cy="221.7" r="1.9"/>
<circle class="r" cx="296.9" cy="133.2" r="1.9"/>
<circle class="r" cx="211.4" cy="141.4" r="1.9"/>
<circle class="r" cx="365.2" cy="231.5" r="1.9"/>
<circle class="r" cx="178.7" cy="177.9" r="1.9"/>
<circle class="r" cx="228.5" cy="211.9" r="1.9"/>
<circle class="r" cx="198.1" cy="91.7" r="1.8"/>
<circle class="r" cx="165.3" cy="174.1" r="1.8"/>
<circle class="r" cx="304.5" cy="214.1" r="1.8"/>
<circle class="r" cx="757.7" cy="476.0" r="1.8"/>
<circle class="r" cx="216.6" cy="260.6" r="1.8"/>
<circle class="r" cx="211.4" cy="238.9" r="1.8"/>
<circle class="r" cx="242.9" cy="210.8" r="1.8"/>
<circle class="r" cx="187.4" cy="180.4" r="1.8"/>
<circle class="r" cx="283.2" cy="244.6" r="1.8"/>
<circle class="r" cx="466.3" cy="440.1" r="1.8"/>
<circle class="r" cx="312.6" cy="279.9" r="1.8"/>
<circle class="r" cx="275.8" cy="216.4" r="1.8"/>
<circle class="r" cx="165.3" cy="216.4" r="1.8"/>
<circle class="r" cx="666.1" cy="483.1" r="1.8"/>
<circle class="r" cx="331.1" cy="194.2" r="1.7"/>
<circle class="r" cx="304.5" cy="443.4" r="1.7"/>
<circle class="r" cx="283.2" cy="263.0" r="1.7"/>
<circle class="r" cx="331.1" cy="187.3" r="1.7"/>
<circle class="r" cx="198.1" cy="193.7" r="1.7"/>
<circle class="r" cx="331.1" cy="130.0" r="1.7"/>
<circle class="r" cx="570.4" cy="474.0" r="1.7"/>
<circle class="r" cx="570.4" cy="455.6" r="1.7"/>
<circle class="r" cx="378.9" cy="180.4" r="1.7"/>
<circle class="r" cx="137.3" cy="231.5" r="1.6"/>
<circle class="r" cx="1196.3" cy="259.4" r="1.6"/>
<circle class="r" cx="1262.0" cy="244.8" r="1.6"/>
<circle class="r" cx="228.5" cy="211.9" r="1.5"/>
<circle class="r" cx="187.4" cy="56.6" r="1.4"/>
<circle class="g" cx="165.8" cy="195.2" r="17.4"/>
<circle class="g" cx="393.7" cy="208.0" r="12.8"/>
<circle class="g" cx="1049.0" cy="245.0" r="12.0"/>
<circle class="g" cx="665.9" cy="371.6" r="10.0"/>
<circle class="g" cx="411.6" cy="105.6" r="9.7"/>
<circle class="g" cx="334.8" cy="254.0" r="9.0"/>
<circle class="g" cx="365.5" cy="113.3" r="8.0"/>
<circle class="g" cx="433.4" cy="113.3" r="8.0"/>
<circle class="g" cx="410.3" cy="226.0" r="8.0"/>
<circle class="g" cx="613.4" cy="152.5" r="7.4"/>
<circle class="g" cx="448.7" cy="118.4" r="7.0"/>
<circle class="g" cx="1187.5" cy="154.7" r="6.0"/>
<circle class="g" cx="391.0" cy="118.4" r="5.0"/>
<circle class="g" cx="650.2" cy="428.0" r="5.0"/>
<circle class="g" cx="410.3" cy="122.0" r="4.6"/>
<circle class="g" cx="427.0" cy="125.0" r="4.6"/>
<circle class="g" cx="410.8" cy="283.9" r="4.3"/>
<circle class="g" cx="331.1" cy="256.1" r="4.3"/>
<circle class="g" cx="570.4" cy="204.5" r="4.2"/>
<circle class="g" cx="464.0" cy="137.6" r="4.2"/>
<circle class="g" cx="502.0" cy="139.8" r="4.1"/>
<circle class="g" cx="386.0" cy="110.7" r="4.0"/>
<circle class="g" cx="386.3" cy="195.2" r="3.9"/>
<circle class="g" cx="283.2" cy="263.0" r="3.7"/>
<circle class="g" cx="1049.4" cy="336.8" r="3.7"/>
<circle class="g" cx="843.9" cy="172.6" r="3.6"/>
<circle class="g" cx="211.4" cy="290.5" r="3.6"/>
<circle class="g" cx="171.5" cy="244.6" r="3.6"/>
<circle class="g" cx="464.0" cy="122.3" r="3.5"/>
<circle class="g" cx="466.3" cy="380.2" r="3.5"/>
<circle class="g" cx="638.8" cy="310.2" r="3.4"/>
<circle class="g" cx="1230.3" cy="187.3" r="3.4"/>
<circle class="g" cx="538.5" cy="226.3" r="3.4"/>
<circle class="g" cx="483.4" cy="127.9" r="3.4"/>
<circle class="g" cx="410.8" cy="139.8" r="3.3"/>
<circle class="g" cx="730.0" cy="336.4" r="3.3"/>
<circle class="g" cx="517.2" cy="336.4" r="3.3"/>
<circle class="g" cx="490.6" cy="382.2" r="3.3"/>
<circle class="g" cx="623.6" cy="412.8" r="3.2"/>
<circle class="g" cx="474.7" cy="373.1" r="3.2"/>
<circle class="g" cx="450.7" cy="135.7" r="3.2"/>
<circle class="g" cx="666.1" cy="318.0" r="3.1"/>
<circle class="g" cx="630.2" cy="307.7" r="3.1"/>
<circle class="g" cx="666.1" cy="400.6" r="3.0"/>
<circle class="g" cx="410.8" cy="152.9" r="3.0"/>
<circle class="g" cx="809.6" cy="382.3" r="3.0"/>
<circle class="g" cx="911.6" cy="311.0" r="3.0"/>
<circle class="g" cx="714.0" cy="194.2" r="3.0"/>
<circle class="g" cx="410.8" cy="336.4" r="3.0"/>
<circle class="g" cx="769.9" cy="256.1" r="3.0"/>
<circle class="g" cx="450.7" cy="428.1" r="2.9"/>
<circle class="g" cx="517.2" cy="336.4" r="2.9"/>
<circle class="g" cx="352.8" cy="290.5" r="2.9"/>
<circle class="g" cx="809.8" cy="152.9" r="2.9"/>
<circle class="g" cx="623.6" cy="412.8" r="2.9"/>
<circle class="g" cx="684.4" cy="375.7" r="2.8"/>
<circle class="g" cx="775.6" cy="428.7" r="2.8"/>
<circle class="g" cx="410.8" cy="122.3" r="2.8"/>
<circle class="g" cx="444.4" cy="138.4" r="2.7"/>
<circle class="g" cx="331.1" cy="336.4" r="2.7"/>
<circle class="g" cx="228.5" cy="205.3" r="2.7"/>
<circle class="g" cx="570.4" cy="273.3" r="2.7"/>
<circle class="g" cx="165.3" cy="152.9" r="2.6"/>
<circle class="g" cx="410.8" cy="244.6" r="2.6"/>
<circle class="g" cx="607.2" cy="449.3" r="2.6"/>
<circle class="g" cx="502.0" cy="205.3" r="2.6"/>
<circle class="g" cx="271.2" cy="256.1" r="2.6"/>
<circle class="g" cx="761.9" cy="249.2" r="2.5"/>
<circle class="g" cx="137.3" cy="126.7" r="2.5"/>
<circle class="g" cx="1114.0" cy="151.0" r="2.5"/>
<circle class="g" cx="836.7" cy="397.6" r="2.5"/>
<circle class="g" cx="775.6" cy="467.5" r="2.5"/>
<circle class="g" cx="875.4" cy="453.6" r="2.5"/>
<circle class="g" cx="187.4" cy="152.9" r="2.5"/>
<circle class="g" cx="148.0" cy="169.1" r="2.4"/>
<circle class="g" cx="383.1" cy="332.4" r="2.4"/>
<circle class="g" cx="517.2" cy="122.3" r="2.4"/>
<circle class="g" cx="283.2" cy="134.6" r="2.4"/>
<circle class="g" cx="857.6" cy="446.4" r="2.4"/>
<circle class="g" cx="809.8" cy="152.9" r="2.4"/>
<circle class="g" cx="341.5" cy="368.3" r="2.4"/>
<circle class="g" cx="378.9" cy="139.1" r="2.4"/>
<circle class="g" cx="783.2" cy="443.4" r="2.3"/>
<circle class="g" cx="607.2" cy="343.4" r="2.3"/>
<circle class="g" cx="410.8" cy="189.6" r="2.2"/>
<circle class="g" cx="517.2" cy="244.6" r="2.2"/>
<circle class="g" cx="1049.4" cy="483.7" r="2.2"/>
<circle class="g" cx="211.4" cy="221.7" r="2.2"/>
<circle class="g" cx="857.6" cy="345.5" r="2.2"/>
<circle class="g" cx="836.3" cy="305.8" r="2.2"/>
<circle class="g" cx="843.9" cy="428.1" r="2.2"/>
<circle class="g" cx="730.0" cy="275.2" r="2.1"/>
<circle class="g" cx="570.4" cy="462.5" r="2.1"/>
<circle class="g" cx="135.2" cy="240.5" r="2.0"/>
<circle class="g" cx="1288.7" cy="198.5" r="2.0"/>
<circle class="g" cx="242.9" cy="268.8" r="1.8"/>
<circle class="g" cx="211.4" cy="187.3" r="1.8"/>
<circle class="p" cx="1261.3" cy="121.6" r="31.2"/>
<circle class="p" cx="1154.9" cy="238.4" r="24.3"/>
<circle class="p" cx="1017.0" cy="178.0" r="22.0"/>
<circle class="p" cx="1209.2" cy="170.4" r="21.6"/>
<circle class="p" cx="1177.2" cy="132.8" r="17.6"/>
<circle class="p" cx="1114.0" cy="168.8" r="16.0"/>
<circle class="p" cx="570.4" cy="142.3" r="13.0"/>
<circle class="p" cx="970.6" cy="104.6" r="12.0"/>
<circle class="p" cx="464.0" cy="408.5" r="12.0"/>
<circle class="p" cx="1128.0" cy="221.4" r="9.7"/>
<circle class="p" cx="1287.0" cy="48.7" r="9.7"/>
<circle class="p" cx="1286.0" cy="84.0" r="9.0"/>
<circle class="p" cx="1118.0" cy="132.8" r="8.8"/>
<circle class="p" cx="1049.0" cy="303.0" r="8.0"/>
<circle class="p" cx="1177.2" cy="170.4" r="8.0"/>
<circle class="p" cx="753.8" cy="130.7" r="8.0"/>
<circle class="p" cx="1048.5" cy="103.0" r="7.5"/>
<circle class="p" cx="857.9" cy="316.5" r="6.6"/>
<circle class="p" cx="875.2" cy="53.1" r="6.6"/>
<circle class="p" cx="456.4" cy="113.3" r="6.4"/>
<circle class="p" cx="1130.0" cy="129.6" r="6.0"/>
<circle class="p" cx="1145.2" cy="97.6" r="6.0"/>
<circle class="p" cx="455.8" cy="427.0" r="6.0"/>
<circle class="p" cx="411.0" cy="105.6" r="5.0"/>
<circle class="p" cx="681.4" cy="88.6" r="4.4"/>
<circle class="p" cx="680.9" cy="406.9" r="4.3"/>
<circle class="p" cx="602.3" cy="336.4" r="4.3"/>
<circle class="p" cx="450.7" cy="359.3" r="4.3"/>
<circle class="p" cx="547.6" cy="362.6" r="4.3"/>
<circle class="p" cx="841.0" cy="308.4" r="4.3"/>
<circle class="p" cx="754.5" cy="343.4" r="4.3"/>
<circle class="p" cx="474.7" cy="391.4" r="4.3"/>
<circle class="p" cx="788.0" cy="403.1" r="4.3"/>
<circle class="p" cx="1003.5" cy="297.1" r="4.3"/>
<circle class="p" cx="1007.5" cy="284.5" r="4.3"/>
<circle class="p" cx="433.6" cy="133.2" r="4.2"/>
<circle class="p" cx="570.4" cy="61.2" r="4.2"/>
<circle class="p" cx="613.4" cy="152.5" r="4.0"/>
<circle class="p" cx="1261.0" cy="61.8" r="4.0"/>
<circle class="p" cx="1241.0" cy="43.8" r="4.0"/>
<circle class="p" cx="858.0" cy="42.9" r="3.7"/>
<circle class="p" cx="921.4" cy="318.0" r="3.6"/>
<circle class="p" cx="857.6" cy="345.5" r="3.6"/>
<circle class="p" cx="1108.0" cy="152.4" r="3.5"/>
<circle class="p" cx="836.3" cy="382.2" r="3.4"/>
<circle class="p" cx="1241.0" cy="317.8" r="3.4"/>
<circle class="p" cx="767.5" cy="428.1" r="3.4"/>
<circle class="p" cx="394.0" cy="413.6" r="3.4"/>
<circle class="p" cx="618.3" cy="386.8" r="3.4"/>
<circle class="p" cx="502.0" cy="388.8" r="3.3"/>
<circle class="p" cx="490.6" cy="313.4" r="3.3"/>
<circle class="p" cx="943.2" cy="30.8" r="3.3"/>
<circle class="p" cx="696.4" cy="123.9" r="3.3"/>
<circle class="p" cx="843.9" cy="93.9" r="3.3"/>
<circle class="p" cx="1049.1" cy="263.0" r="3.3"/>
<circle class="p" cx="1261.9" cy="275.2" r="3.3"/>
<circle class="p" cx="767.5" cy="379.5" r="3.2"/>
<circle class="p" cx="690.1" cy="393.7" r="3.2"/>
<circle class="p" cx="666.1" cy="428.1" r="3.2"/>
<circle class="p" cx="570.4" cy="118.5" r="3.2"/>
<circle class="p" cx="716.1" cy="344.3" r="3.2"/>
<circle class="p" cx="880.1" cy="298.6" r="3.1"/>
<circle class="p" cx="995.9" cy="336.4" r="3.1"/>
<circle class="p" cx="929.4" cy="324.9" r="3.1"/>
<circle class="p" cx="714.0" cy="428.1" r="3.1"/>
<circle class="p" cx="650.2" cy="313.4" r="3.1"/>
<circle class="p" cx="775.6" cy="310.2" r="3.1"/>
<circle class="p" cx="1049.1" cy="305.8" r="3.1"/>
<circle class="p" cx="676.8" cy="397.5" r="3.1"/>
<circle class="p" cx="410.8" cy="397.5" r="3.1"/>
<circle class="p" cx="1105.4" cy="72.0" r="3.1"/>
<circle class="p" cx="1049.1" cy="299.7" r="3.1"/>
<circle class="p" cx="386.3" cy="343.4" r="3.1"/>
<circle class="p" cx="843.9" cy="408.4" r="3.1"/>
<circle class="p" cx="517.2" cy="428.1" r="3.0"/>
<circle class="p" cx="1241.0" cy="181.0" r="3.0"/>
<circle class="p" cx="1210.9" cy="130.4" r="3.0"/>
<circle class="p" cx="1223.0" cy="127.5" r="3.0"/>
<circle class="p" cx="1287.3" cy="175.2" r="3.0"/>
<circle class="p" cx="828.0" cy="68.5" r="3.0"/>
<circle class="p" cx="410.8" cy="122.3" r="3.0"/>
<circle class="p" cx="783.2" cy="137.6" r="3.0"/>
<circle class="p" cx="459.9" cy="428.1" r="3.0"/>
<circle class="p" cx="570.4" cy="414.3" r="3.0"/>
<circle class="p" cx="1240.6" cy="235.5" r="3.0"/>
<circle class="p" cx="857.6" cy="290.5" r="3.0"/>
<circle class="p" cx="450.7" cy="410.9" r="3.0"/>
<circle class="p" cx="875.0" cy="303.0" r="2.9"/>
<circle class="p" cx="570.4" cy="400.6" r="2.9"/>
<circle class="p" cx="775.6" cy="329.8" r="2.9"/>
<circle class="p" cx="545.2" cy="341.2" r="2.9"/>
<circle class="p" cx="1049.1" cy="313.4" r="2.9"/>
<circle class="p" cx="754.5" cy="110.6" r="2.9"/>
<circle class="p" cx="921.4" cy="134.6" r="2.8"/>
<circle class="p" cx="775.6" cy="349.5" r="2.8"/>
<circle class="p" cx="788.0" cy="428.1" r="2.8"/>
<circle class="p" cx="836.3" cy="366.9" r="2.8"/>
<circle class="p" cx="1288.5" cy="307.7" r="2.8"/>
<circle class="p" cx="730.0" cy="397.5" r="2.8"/>
<circle class="p" cx="857.6" cy="263.0" r="2.8"/>
<circle class="p" cx="1049.1" cy="290.5" r="2.8"/>
<circle class="p" cx="857.6" cy="97.9" r="2.8"/>
<circle class="p" cx="767.5" cy="363.3" r="2.7"/>
<circle class="p" cx="953.4" cy="345.5" r="2.7"/>
<circle class="p" cx="570.4" cy="359.3" r="2.7"/>
<circle class="p" cx="410.8" cy="347.8" r="2.7"/>
<circle class="p" cx="924.2" cy="284.5" r="2.7"/>
<circle class="p" cx="650.2" cy="107.0" r="2.7"/>
<circle class="p" cx="410.8" cy="336.4" r="2.6"/>
<circle class="p" cx="929.4" cy="342.1" r="2.6"/>
<circle class="p" cx="836.3" cy="366.9" r="2.6"/>
<circle class="p" cx="921.4" cy="97.9" r="2.6"/>
<circle class="p" cx="857.6" cy="263.0" r="2.6"/>
<circle class="p" cx="1186.5" cy="228.7" r="2.6"/>
<circle class="p" cx="490.6" cy="359.3" r="2.6"/>
<circle class="p" cx="775.6" cy="113.6" r="2.5"/>
<circle class="p" cx="1262.0" cy="184.0" r="2.5"/>
<circle class="p" cx="1185.5" cy="35.0" r="2.5"/>
<circle class="p" cx="1206.0" cy="107.0" r="2.5"/>
<circle class="p" cx="1198.7" cy="132.4" r="2.5"/>
<circle class="p" cx="1287.3" cy="151.8" r="2.5"/>
<circle class="p" cx="1155.9" cy="184.0" r="2.5"/>
<circle class="p" cx="1224.0" cy="152.4" r="2.5"/>
<circle class="p" cx="1288.5" cy="170.1" r="2.5"/>
<circle class="p" cx="775.6" cy="113.6" r="2.5"/>
<circle class="p" cx="410.8" cy="405.2" r="2.5"/>
<circle class="p" cx="666.1" cy="56.6" r="2.4"/>
<circle class="p" cx="630.2" cy="324.9" r="2.4"/>
<circle class="p" cx="474.7" cy="373.1" r="2.4"/>
<circle class="p" cx="1136.9" cy="176.2" r="2.4"/>
<circle class="p" cx="1146.6" cy="181.0" r="2.4"/>
<circle class="p" cx="1091.6" cy="187.3" r="2.4"/>
<circle class="p" cx="474.7" cy="318.0" r="2.4"/>
<circle class="p" cx="1223.2" cy="77.8" r="2.4"/>
<circle class="p" cx="623.6" cy="397.5" r="2.4"/>
<circle class="p" cx="809.8" cy="359.3" r="2.4"/>
<circle class="p" cx="650.2" cy="405.2" r="2.4"/>
<circle class="p" cx="857.6" cy="345.5" r="2.3"/>
<circle class="p" cx="650.2" cy="359.3" r="2.3"/>
<circle class="p" cx="1049.1" cy="120.5" r="2.3"/>
<circle class="p" cx="650.2" cy="382.2" r="2.3"/>
<circle class="p" cx="542.2" cy="314.8" r="2.2"/>
<circle class="p" cx="1049.1" cy="131.7" r="2.2"/>
<circle class="p" cx="716.1" cy="404.2" r="2.2"/>
<circle class="p" cx="857.6" cy="304.3" r="2.2"/>
<circle class="p" cx="957.9" cy="336.4" r="2.2"/>
<circle class="p" cx="1208.4" cy="221.4" r="2.2"/>
<circle class="p" cx="646.0" cy="370.2" r="2.2"/>
<circle class="p" cx="849.6" cy="359.3" r="2.2"/>
<circle class="p" cx="680.9" cy="406.9" r="2.2"/>
<circle class="p" cx="775.6" cy="349.5" r="2.2"/>
<circle class="p" cx="696.4" cy="66.0" r="2.1"/>
<circle class="p" cx="809.8" cy="393.7" r="2.1"/>
<circle class="p" cx="1261.9" cy="168.2" r="2.1"/>
<circle class="p" cx="783.2" cy="76.5" r="2.1"/>
<circle class="p" cx="1274.4" cy="282.4" r="2.1"/>
<circle class="p" cx="942.7" cy="61.2" r="2.1"/>
<circle class="p" cx="1241.0" cy="70.6" r="2.0"/>
<circle class="p" cx="1049.4" cy="49.0" r="2.0"/>
<circle class="p" cx="1049.4" cy="15.4" r="1.7"/>
<circle class="B2" cx="968.5" cy="199.0" r="88.0"/>
<circle class="B" cx="320.5" cy="310.6" r="56.5"/>
<circle class="B" cx="970.6" cy="190.7" r="49.0"/>
<circle class="b" cx="929.0" cy="218.5" r="34.0"/>
<circle class="B3" cx="1049.0" cy="150.7" r="29.0"/>
<circle class="b" cx="357.9" cy="183.7" r="27.0"/>
<circle class="b" cx="750.3" cy="221.4" r="23.0"/>
<circle class="B3" cx="1049.0" cy="195.0" r="20.0"/>
<circle class="b" cx="367.4" cy="309.4" r="19.0"/>
<circle class="b" cx="977.0" cy="187.7" r="18.0"/>
<circle class="b" cx="320.0" cy="258.2" r="16.6"/>
<circle class="b" cx="364.8" cy="281.2" r="16.6"/>
<circle class="b" cx="197.8" cy="153.0" r="16.0"/>
<circle class="b" cx="273.4" cy="153.0" r="14.0"/>
<circle class="b" cx="1049.4" cy="150.8" r="14.0"/>
<circle class="b" cx="970.5" cy="221.3" r="13.8"/>
<circle class="b" cx="1049.0" cy="91.4" r="13.0"/>
<circle class="b" cx="889.5" cy="242.4" r="12.5"/>
<circle class="b" cx="1049.0" cy="175.3" r="12.3"/>
<circle class="b" cx="1006.0" cy="224.6" r="12.0"/>
<circle class="b" cx="599.0" cy="375.7" r="11.5"/>
<circle class="b" cx="934.0" cy="181.0" r="11.0"/>
<circle class="b" cx="300.4" cy="487.2" r="11.0"/>
<circle class="b" cx="1049.4" cy="184.6" r="10.8"/>
<circle class="b" cx="1208.4" cy="335.8" r="10.7"/>
<circle class="b" cx="785.0" cy="229.5" r="10.0"/>
<circle class="b" cx="215.8" cy="153.0" r="10.0"/>
<circle class="b" cx="570.4" cy="392.0" r="10.0"/>
<circle class="b" cx="629.8" cy="392.0" r="10.0"/>
<circle class="b" cx="654.4" cy="345.0" r="10.0"/>
<circle class="b" cx="1209.2" cy="152.8" r="9.6"/>
<circle class="b" cx="1049.0" cy="209.0" r="9.2"/>
<circle class="b" cx="990.6" cy="250.7" r="9.0"/>
<circle class="b" cx="357.9" cy="182.5" r="9.0"/>
<circle class="b" cx="239.4" cy="301.7" r="9.0"/>
<circle class="b" cx="689.2" cy="357.3" r="9.0"/>
<circle class="b" cx="711.7" cy="345.0" r="9.0"/>
<circle class="b" cx="569.8" cy="394.0" r="9.0"/>
<circle class="b" cx="600.0" cy="376.8" r="9.0"/>
<circle class="b" cx="631.2" cy="391.4" r="9.0"/>
<circle class="b" cx="1049.0" cy="224.4" r="8.6"/>
<circle class="b" cx="1049.0" cy="261.3" r="8.6"/>
<circle class="b" cx="761.0" cy="153.0" r="8.5"/>
<circle class="b" cx="1049.4" cy="60.6" r="8.3"/>
<circle class="b" cx="754.5" cy="385.8" r="8.1"/>
<circle class="b" cx="1049.0" cy="245.0" r="8.0"/>
<circle class="b" cx="615.5" cy="386.0" r="8.0"/>
<circle class="b" cx="655.0" cy="347.5" r="8.0"/>
<circle class="b" cx="542.2" cy="363.3" r="7.8"/>
<circle class="b" cx="235.3" cy="207.9" r="7.8"/>
<circle class="b" cx="411.0" cy="308.0" r="7.7"/>
<circle class="b" cx="426.0" cy="287.6" r="7.7"/>
<circle class="b" cx="810.0" cy="289.8" r="7.7"/>
<circle class="b" cx="876.7" cy="202.7" r="7.7"/>
<circle class="b" cx="1002.8" cy="206.0" r="7.7"/>
<circle class="b" cx="828.0" cy="151.5" r="7.5"/>
<circle class="b" cx="1288.7" cy="290.5" r="7.3"/>
<circle class="b" cx="614.7" cy="386.0" r="7.3"/>
<circle class="b" cx="370.7" cy="151.7" r="7.0"/>
<circle class="b" cx="331.0" cy="207.5" r="7.0"/>
<circle class="b" cx="356.6" cy="214.4" r="7.0"/>
<circle class="b" cx="869.0" cy="254.0" r="7.0"/>
<circle class="b" cx="985.9" cy="255.0" r="6.8"/>
<circle class="b" cx="352.8" cy="152.9" r="6.7"/>
<circle class="b" cx="410.8" cy="244.6" r="6.7"/>
<circle class="b" cx="474.7" cy="226.3" r="6.7"/>
<circle class="b" cx="365.2" cy="166.0" r="6.6"/>
<circle class="b" cx="650.2" cy="416.6" r="6.6"/>
<circle class="b" cx="975.6" cy="365.0" r="6.6"/>
<circle class="b" cx="295.4" cy="343.7" r="6.4"/>
<circle class="b" cx="732.0" cy="197.6" r="6.4"/>
<circle class="b" cx="305.7" cy="286.4" r="6.4"/>
<circle class="b" cx="975.5" cy="385.8" r="6.4"/>
<circle class="b" cx="897.9" cy="283.3" r="6.3"/>
<circle class="b" cx="623.6" cy="397.5" r="6.3"/>
<circle class="b" cx="570.4" cy="331.8" r="6.2"/>
<circle class="b" cx="957.9" cy="152.9" r="6.0"/>
<circle class="b" cx="1123.0" cy="194.6" r="6.0"/>
<circle class="b" cx="1118.4" cy="228.7" r="6.0"/>
<circle class="b" cx="1049.4" cy="132.0" r="6.0"/>
<circle class="b" cx="992.0" cy="186.0" r="6.0"/>
<circle class="b" cx="995.0" cy="215.0" r="6.0"/>
<circle class="b" cx="964.4" cy="255.0" r="6.0"/>
<circle class="b" cx="749.9" cy="273.3" r="5.9"/>
<circle class="b" cx="775.6" cy="388.8" r="5.9"/>
<circle class="b" cx="538.5" cy="318.0" r="5.8"/>
<circle class="b" cx="522.5" cy="400.6" r="5.7"/>
<circle class="b" cx="331.1" cy="187.3" r="5.7"/>
<circle class="b" cx="857.6" cy="400.6" r="5.7"/>
<circle class="b" cx="302.0" cy="276.7" r="5.6"/>
<circle class="b" cx="342.5" cy="153.0" r="5.6"/>
<circle class="b" cx="410.0" cy="153.0" r="5.6"/>
<circle class="b" cx="439.8" cy="153.0" r="5.6"/>
<circle class="b" cx="248.3" cy="308.0" r="5.6"/>
<circle class="b" cx="360.9" cy="297.0" r="5.5"/>
<circle class="b" cx="880.1" cy="298.6" r="5.5"/>
<circle class="b" cx="1137.5" cy="202.0" r="5.5"/>
<circle class="b" cx="1049.4" cy="106.0" r="5.5"/>
<circle class="b" cx="319.4" cy="414.8" r="5.5"/>
<circle class="b" cx="283.2" cy="263.0" r="5.5"/>
<circle class="b" cx="439.8" cy="152.9" r="5.5"/>
<circle class="b" cx="344.7" cy="307.7" r="5.5"/>
<circle class="b" cx="283.2" cy="345.5" r="5.4"/>
<circle class="b" cx="386.3" cy="406.9" r="5.4"/>
<circle class="b" cx="502.0" cy="231.5" r="5.4"/>
<circle class="b" cx="857.6" cy="249.2" r="5.4"/>
<circle class="b" cx="410.8" cy="443.4" r="5.2"/>
<circle class="b" cx="343.6" cy="413.6" r="5.2"/>
<circle class="b" cx="654.9" cy="201.5" r="5.2"/>
<circle class="b" cx="444.4" cy="413.6" r="5.2"/>
<circle class="b" cx="474.7" cy="244.6" r="5.2"/>
<circle class="b" cx="912.3" cy="290.5" r="5.2"/>
<circle class="b" cx="953.4" cy="221.7" r="5.1"/>
<circle class="b" cx="317.0" cy="201.5" r="5.0"/>
<circle class="b" cx="319.5" cy="126.0" r="5.0"/>
<circle class="b" cx="304.0" cy="213.0" r="5.0"/>
<circle class="b" cx="665.9" cy="371.6" r="5.0"/>
<circle class="b" cx="1209.9" cy="243.3" r="5.0"/>
<circle class="b" cx="312.6" cy="174.1" r="5.0"/>
<circle class="b" cx="211.4" cy="175.8" r="4.9"/>
<circle class="b" cx="957.9" cy="297.1" r="4.9"/>
<circle class="b" cx="707.2" cy="349.5" r="4.9"/>
<circle class="b" cx="799.3" cy="260.6" r="4.9"/>
<circle class="b" cx="730.0" cy="366.9" r="4.8"/>
<circle class="b" cx="1145.0" cy="209.0" r="4.8"/>
<circle class="b" cx="538.8" cy="519.4" r="4.8"/>
<circle class="b" cx="157.7" cy="152.9" r="4.7"/>
<circle class="b" cx="912.3" cy="172.6" r="4.7"/>
<circle class="b" cx="187.4" cy="262.8" r="4.6"/>
<circle class="b" cx="187.4" cy="290.2" r="4.6"/>
<circle class="b" cx="187.4" cy="317.8" r="4.6"/>
<circle class="b" cx="809.8" cy="382.2" r="4.6"/>
<circle class="b" cx="889.5" cy="244.6" r="4.5"/>
<circle class="b" cx="989.3" cy="170.1" r="4.5"/>
<circle class="b" cx="271.2" cy="221.7" r="4.4"/>
<circle class="b" cx="650.2" cy="198.8" r="4.4"/>
<circle class="b" cx="251.7" cy="473.7" r="4.4"/>
<circle class="b" cx="730.0" cy="409.0" r="4.4"/>
<circle class="b" cx="351.6" cy="352.3" r="4.4"/>
<circle class="b" cx="595.6" cy="312.2" r="4.4"/>
<circle class="b" cx="666.1" cy="281.3" r="4.4"/>
<circle class="b" cx="485.9" cy="217.7" r="4.3"/>
<circle class="b" cx="921.4" cy="152.9" r="4.3"/>
<circle class="b" cx="570.4" cy="194.2" r="4.3"/>
<circle class="b" cx="204.3" cy="266.2" r="4.3"/>
<circle class="b" cx="897.9" cy="152.9" r="4.3"/>
<circle class="b" cx="1121.0" cy="152.4" r="4.2"/>
<circle class="b" cx="1143.5" cy="152.4" r="4.2"/>
<circle class="b" cx="1169.0" cy="152.4" r="4.2"/>
<circle class="b" cx="1198.0" cy="152.4" r="4.2"/>
<circle class="b" cx="317.0" cy="282.4" r="4.2"/>
<circle class="b" cx="680.9" cy="258.7" r="4.2"/>
<circle class="b" cx="957.9" cy="192.2" r="4.1"/>
<circle class="b" cx="602.3" cy="152.9" r="4.1"/>
<circle class="b" cx="433.6" cy="152.9" r="4.1"/>
<circle class="b" cx="701.0" cy="228.0" r="4.1"/>
<circle class="b" cx="206.6" cy="218.9" r="4.1"/>
<circle class="b" cx="666.1" cy="235.5" r="4.1"/>
<circle class="b" cx="775.6" cy="270.8" r="4.1"/>
<circle class="b" cx="962.1" cy="152.9" r="4.1"/>
<circle class="b" cx="538.5" cy="391.4" r="4.1"/>
<circle class="b" cx="526.9" cy="428.1" r="4.1"/>
<circle class="b" cx="346.9" cy="338.2" r="4.1"/>
<circle class="b" cx="265.8" cy="202.9" r="4.1"/>
<circle class="b" cx="410.8" cy="267.6" r="4.1"/>
<circle class="b" cx="650.2" cy="210.2" r="4.1"/>
<circle class="b" cx="357.6" cy="397.5" r="4.1"/>
<circle class="b" cx="258.2" cy="152.9" r="4.1"/>
<circle class="b" cx="788.0" cy="165.4" r="4.0"/>
<circle class="b" cx="638.8" cy="172.6" r="4.0"/>
<circle class="b" cx="459.9" cy="237.6" r="4.0"/>
<circle class="b" cx="253.5" cy="313.0" r="4.0"/>
<circle class="b" cx="1154.5" cy="214.0" r="4.0"/>
<circle class="b" cx="1128.0" cy="291.0" r="4.0"/>
<circle class="b" cx="282.8" cy="501.0" r="4.0"/>
<circle class="b" cx="510.6" cy="428.1" r="4.0"/>
<circle class="b" cx="650.2" cy="336.4" r="4.0"/>
<circle class="b" cx="980.7" cy="231.5" r="4.0"/>
<circle class="b" cx="775.6" cy="152.9" r="4.0"/>
<circle class="b" cx="775.6" cy="310.2" r="4.0"/>
<circle class="b" cx="980.7" cy="152.9" r="4.0"/>
<circle class="b" cx="666.1" cy="207.9" r="3.9"/>
<circle class="b" cx="365.2" cy="231.5" r="3.9"/>
<circle class="b" cx="953.4" cy="207.9" r="3.9"/>
<circle class="b" cx="638.8" cy="231.5" r="3.9"/>
<circle class="b" cx="707.2" cy="192.2" r="3.9"/>
<circle class="b" cx="410.8" cy="366.9" r="3.8"/>
<circle class="b" cx="474.7" cy="304.3" r="3.8"/>
<circle class="b" cx="517.2" cy="397.5" r="3.8"/>
<circle class="b" cx="390.9" cy="410.9" r="3.8"/>
<circle class="b" cx="666.1" cy="194.2" r="3.8"/>
<circle class="b" cx="843.9" cy="231.5" r="3.8"/>
<circle class="b" cx="857.6" cy="180.4" r="3.8"/>
<circle class="b" cx="198.1" cy="489.3" r="3.8"/>
<circle class="b" cx="242.9" cy="500.5" r="3.8"/>
<circle class="b" cx="775.6" cy="467.4" r="3.8"/>
<circle class="b" cx="450.7" cy="290.5" r="3.7"/>
<circle class="b" cx="908.7" cy="239.4" r="3.7"/>
<circle class="b" cx="439.8" cy="403.1" r="3.7"/>
<circle class="b" cx="767.5" cy="201.5" r="3.7"/>
<circle class="b" cx="783.2" cy="152.9" r="3.7"/>
<circle class="b" cx="650.2" cy="164.4" r="3.7"/>
<circle class="b" cx="222.3" cy="228.0" r="3.7"/>
<circle class="b" cx="291.2" cy="198.8" r="3.7"/>
<circle class="b" cx="638.8" cy="310.2" r="3.7"/>
<circle class="b" cx="178.7" cy="528.2" r="3.7"/>
<circle class="b" cx="1049.4" cy="273.0" r="3.7"/>
<circle class="b" cx="1049.4" cy="290.0" r="3.7"/>
<circle class="b" cx="1049.4" cy="429.0" r="3.7"/>
<circle class="b" cx="995.5" cy="181.0" r="3.7"/>
<circle class="b" cx="857.6" cy="152.9" r="3.7"/>
<circle class="b" cx="424.7" cy="260.6" r="3.7"/>
<circle class="b" cx="533.6" cy="152.9" r="3.7"/>
<circle class="b" cx="819.3" cy="274.0" r="3.7"/>
<circle class="b" cx="995.9" cy="168.2" r="3.7"/>
<circle class="b" cx="1033.4" cy="151.9" r="3.7"/>
<circle class="b" cx="916.1" cy="258.3" r="3.7"/>
<circle class="b" cx="607.2" cy="152.9" r="3.7"/>
<circle class="b" cx="570.4" cy="307.7" r="3.7"/>
<circle class="b" cx="769.9" cy="244.6" r="3.7"/>
<circle class="b" cx="948.3" cy="326.7" r="3.6"/>
<circle class="b" cx="929.4" cy="134.4" r="3.6"/>
<circle class="b" cx="893.5" cy="222.3" r="3.6"/>
<circle class="b" cx="912.3" cy="270.8" r="3.6"/>
<circle class="b" cx="761.9" cy="345.5" r="3.6"/>
<circle class="b" cx="304.5" cy="152.9" r="3.6"/>
<circle class="b" cx="593.2" cy="297.1" r="3.6"/>
<circle class="b" cx="410.8" cy="270.8" r="3.6"/>
<circle class="b" cx="941.2" cy="208.2" r="3.6"/>
<circle class="b" cx="690.1" cy="393.7" r="3.6"/>
<circle class="b" cx="646.0" cy="196.4" r="3.6"/>
<circle class="b" cx="889.5" cy="267.6" r="3.6"/>
<circle class="b" cx="429.6" cy="314.8" r="3.6"/>
<circle class="b" cx="1243.0" cy="152.4" r="3.6"/>
<circle class="b" cx="198.1" cy="183.5" r="3.6"/>
<circle class="b" cx="459.9" cy="152.9" r="3.6"/>
<circle class="b" cx="424.7" cy="308.4" r="3.6"/>
<circle class="b" cx="426.8" cy="386.8" r="3.6"/>
<circle class="b" cx="1008.5" cy="243.9" r="3.6"/>
<circle class="b" cx="370.9" cy="336.4" r="3.5"/>
<circle class="b" cx="547.6" cy="205.3" r="3.5"/>
<circle class="b" cx="1129.0" cy="106.0" r="3.5"/>
<circle class="b" cx="1137.9" cy="102.2" r="3.5"/>
<circle class="b" cx="707.2" cy="152.9" r="3.5"/>
<circle class="b" cx="793.8" cy="373.1" r="3.5"/>
<circle class="b" cx="654.9" cy="363.3" r="3.5"/>
<circle class="b" cx="517.2" cy="336.4" r="3.5"/>
<circle class="b" cx="623.6" cy="305.8" r="3.5"/>
<circle class="b" cx="607.2" cy="301.1" r="3.4"/>
<circle class="b" cx="998.7" cy="152.9" r="3.4"/>
<circle class="b" cx="996.4" cy="134.2" r="3.4"/>
<circle class="b" cx="650.2" cy="175.8" r="3.4"/>
<circle class="b" cx="953.4" cy="345.5" r="3.4"/>
<circle class="b" cx="378.9" cy="152.9" r="3.4"/>
<circle class="b" cx="809.8" cy="331.8" r="3.4"/>
<circle class="b" cx="730.0" cy="183.5" r="3.4"/>
<circle class="b" cx="1010.7" cy="261.1" r="3.4"/>
<circle class="b" cx="793.8" cy="391.4" r="3.4"/>
<circle class="b" cx="570.4" cy="180.4" r="3.4"/>
<circle class="b" cx="1128.5" cy="152.4" r="3.4"/>
<circle class="b" cx="1136.0" cy="152.4" r="3.4"/>
<circle class="b" cx="1151.0" cy="152.4" r="3.4"/>
<circle class="b" cx="1160.0" cy="152.4" r="3.4"/>
<circle class="b" cx="1178.0" cy="152.4" r="3.4"/>
<circle class="b" cx="1187.5" cy="152.4" r="3.4"/>
<circle class="b" cx="410.8" cy="299.7" r="3.4"/>
<circle class="b" cx="843.9" cy="172.6" r="3.4"/>
<circle class="b" cx="828.2" cy="258.7" r="3.4"/>
<circle class="b" cx="761.9" cy="331.8" r="3.4"/>
<circle class="b" cx="912.3" cy="231.5" r="3.4"/>
<circle class="b" cx="875.0" cy="152.9" r="3.4"/>
<circle class="b" cx="857.6" cy="391.4" r="3.4"/>
<circle class="b" cx="1003.5" cy="257.7" r="3.4"/>
<circle class="b" cx="916.5" cy="138.5" r="3.4"/>
<circle class="b" cx="299.8" cy="176.8" r="3.4"/>
<circle class="b" cx="831.5" cy="190.4" r="3.3"/>
<circle class="b" cx="781.0" cy="351.0" r="3.3"/>
<circle class="b" cx="341.5" cy="487.9" r="3.3"/>
<circle class="b" cx="793.8" cy="152.9" r="3.3"/>
<circle class="b" cx="1018.3" cy="150.1" r="3.3"/>
<circle class="b" cx="623.6" cy="290.5" r="3.3"/>
<circle class="b" cx="545.2" cy="181.9" r="3.3"/>
<circle class="b" cx="978.5" cy="250.2" r="3.3"/>
<circle class="b" cx="953.4" cy="263.0" r="3.3"/>
<circle class="b" cx="783.2" cy="198.8" r="3.3"/>
<circle class="b" cx="828.2" cy="237.6" r="3.3"/>
<circle class="b" cx="271.2" cy="324.9" r="3.3"/>
<circle class="b" cx="474.8" cy="520.0" r="3.3"/>
<circle class="b" cx="165.8" cy="533.7" r="3.3"/>
<circle class="b" cx="306.7" cy="327.5" r="3.3"/>
<circle class="b" cx="211.4" cy="462.5" r="3.3"/>
<circle class="b" cx="935.2" cy="217.7" r="3.3"/>
<circle class="b" cx="942.7" cy="275.2" r="3.3"/>
<circle class="b" cx="309.6" cy="335.8" r="3.3"/>
<circle class="b" cx="897.9" cy="254.3" r="3.3"/>
<circle class="b" cx="265.8" cy="428.1" r="3.2"/>
<circle class="b" cx="502.0" cy="166.0" r="3.2"/>
<circle class="b" cx="464.0" cy="229.3" r="3.2"/>
<circle class="b" cx="526.9" cy="152.9" r="3.2"/>
<circle class="b" cx="570.4" cy="235.5" r="3.2"/>
<circle class="b" cx="929.4" cy="393.7" r="3.2"/>
<circle class="b" cx="444.4" cy="457.1" r="3.2"/>
<circle class="b" cx="821.1" cy="192.2" r="3.2"/>
<circle class="b" cx="857.6" cy="290.5" r="3.2"/>
<circle class="b" cx="533.6" cy="343.4" r="3.2"/>
<circle class="b" cx="386.3" cy="174.1" r="3.2"/>
<circle class="b" cx="880.1" cy="217.7" r="3.2"/>
<circle class="b" cx="714.0" cy="304.3" r="3.2"/>
<circle class="b" cx="510.6" cy="342.1" r="3.2"/>
<circle class="b" cx="875.0" cy="202.9" r="3.2"/>
<circle class="b" cx="331.1" cy="152.9" r="3.2"/>
<circle class="b" cx="730.0" cy="214.1" r="3.2"/>
<circle class="b" cx="646.0" cy="283.3" r="3.2"/>
<circle class="b" cx="875.0" cy="228.0" r="3.2"/>
<circle class="b" cx="714.0" cy="373.1" r="3.2"/>
<circle class="b" cx="283.2" cy="263.0" r="3.2"/>
<circle class="b" cx="775.6" cy="218.4" r="3.2"/>
<circle class="b" cx="410.8" cy="214.1" r="3.2"/>
<circle class="b" cx="912.3" cy="283.9" r="3.2"/>
<circle class="b" cx="570.4" cy="400.6" r="3.2"/>
<circle class="b" cx="969.3" cy="233.2" r="3.2"/>
<circle class="b" cx="365.2" cy="172.6" r="3.2"/>
<circle class="b" cx="847.5" cy="196.4" r="3.2"/>
<circle class="b" cx="989.3" cy="152.9" r="3.2"/>
<circle class="b" cx="1007.5" cy="224.7" r="3.2"/>
<circle class="b" cx="309.3" cy="152.9" r="3.2"/>
<circle class="b" cx="570.4" cy="342.1" r="3.2"/>
<circle class="b" cx="809.8" cy="170.1" r="3.2"/>
<circle class="b" cx="410.8" cy="152.9" r="3.2"/>
<circle class="b" cx="819.3" cy="241.0" r="3.2"/>
<circle class="b" cx="383.1" cy="248.6" r="3.2"/>
<circle class="b" cx="331.1" cy="359.3" r="3.2"/>
<circle class="b" cx="921.4" cy="171.2" r="3.2"/>
<circle class="b" cx="271.4" cy="290.6" r="3.2"/>
<circle class="b" cx="843.9" cy="428.1" r="3.1"/>
<circle class="b" cx="233.5" cy="173.3" r="3.1"/>
<circle class="b" cx="847.5" cy="428.1" r="3.1"/>
<circle class="b" cx="517.2" cy="183.5" r="3.1"/>
<circle class="b" cx="494.8" cy="268.8" r="3.1"/>
<circle class="b" cx="809.8" cy="290.5" r="3.1"/>
<circle class="b" cx="650.2" cy="393.7" r="3.1"/>
<circle class="b" cx="317.9" cy="325.9" r="3.1"/>
<circle class="b" cx="680.9" cy="237.6" r="3.1"/>
<circle class="b" cx="494.8" cy="283.3" r="3.1"/>
<circle class="b" cx="690.1" cy="238.9" r="3.1"/>
<circle class="b" cx="459.9" cy="258.7" r="3.1"/>
<circle class="b" cx="783.2" cy="259.9" r="3.1"/>
<circle class="b" cx="716.1" cy="188.8" r="3.1"/>
<circle class="b" cx="654.9" cy="169.1" r="3.1"/>
<circle class="b" cx="331.1" cy="336.4" r="3.1"/>
<circle class="b" cx="410.8" cy="354.7" r="3.1"/>
<circle class="b" cx="317.0" cy="331.0" r="3.1"/>
<circle class="b" cx="936.5" cy="266.2" r="3.1"/>
<circle class="b" cx="598.6" cy="411.9" r="3.1"/>
<circle class="b" cx="352.8" cy="378.1" r="3.1"/>
<circle class="b" cx="901.8" cy="216.4" r="3.1"/>
<circle class="b" cx="987.1" cy="174.0" r="3.1"/>
<circle class="b" cx="701.0" cy="240.5" r="3.1"/>
<circle class="b" cx="1005.6" cy="253.0" r="3.1"/>
<circle class="b" cx="905.5" cy="263.0" r="3.1"/>
<circle class="b" cx="757.7" cy="248.6" r="3.1"/>
<circle class="b" cx="761.9" cy="400.6" r="3.1"/>
<circle class="b" cx="390.9" cy="307.7" r="3.1"/>
<circle class="b" cx="767.5" cy="298.6" r="3.1"/>
<circle class="b" cx="410.8" cy="244.6" r="3.1"/>
<circle class="b" cx="666.1" cy="189.6" r="3.1"/>
<circle class="b" cx="450.7" cy="393.7" r="3.1"/>
<circle class="b" cx="797.2" cy="326.7" r="3.1"/>
<circle class="b" cx="638.8" cy="388.8" r="3.1"/>
<circle class="b" cx="866.7" cy="152.9" r="3.1"/>
<circle class="b" cx="494.8" cy="239.8" r="3.1"/>
<circle class="b" cx="975.5" cy="152.9" r="3.1"/>
<circle class="b" cx="793.8" cy="409.8" r="3.1"/>
<circle class="b" cx="690.1" cy="342.1" r="3.1"/>
<circle class="b" cx="474.7" cy="249.2" r="3.1"/>
<circle class="b" cx="951.5" cy="229.0" r="3.1"/>
<circle class="b" cx="1025.2" cy="138.9" r="3.1"/>
<circle class="b" cx="730.0" cy="231.5" r="3.1"/>
<circle class="b" cx="309.3" cy="303.0" r="3.1"/>
<circle class="b" cx="309.3" cy="315.5" r="3.1"/>
<circle class="b" cx="666.1" cy="263.0" r="3.1"/>
<circle class="b" cx="533.6" cy="406.9" r="3.1"/>
<circle class="b" cx="936.5" cy="169.1" r="3.1"/>
<circle class="b" cx="485.9" cy="282.4" r="3.1"/>
<circle class="b" cx="329.9" cy="314.0" r="3.1"/>
<circle class="b" cx="767.5" cy="379.5" r="3.1"/>
<circle class="b" cx="905.5" cy="180.4" r="3.0"/>
<circle class="b" cx="880.1" cy="169.1" r="3.0"/>
<circle class="b" cx="775.6" cy="172.6" r="3.0"/>
<circle class="b" cx="924.2" cy="416.1" r="3.0"/>
<circle class="b" cx="962.1" cy="215.4" r="3.0"/>
<circle class="b" cx="595.6" cy="399.1" r="3.0"/>
<circle class="b" cx="953.4" cy="194.2" r="3.0"/>
<circle class="b" cx="809.8" cy="180.4" r="3.0"/>
<circle class="b" cx="828.2" cy="152.9" r="3.0"/>
<circle class="b" cx="613.9" cy="202.9" r="3.0"/>
<circle class="b" cx="953.4" cy="290.5" r="3.0"/>
<circle class="b" cx="847.5" cy="297.7" r="3.0"/>
<circle class="b" cx="831.5" cy="202.9" r="3.0"/>
<circle class="b" cx="211.4" cy="479.7" r="3.0"/>
<circle class="b" cx="657.4" cy="253.0" r="3.0"/>
<circle class="b" cx="730.0" cy="409.8" r="3.0"/>
<circle class="b" cx="730.0" cy="267.6" r="3.0"/>
<circle class="b" cx="410.8" cy="226.3" r="3.0"/>
<circle class="b" cx="730.0" cy="359.3" r="3.0"/>
<circle class="b" cx="198.1" cy="458.7" r="3.0"/>
<circle class="b" cx="828.2" cy="195.2" r="3.0"/>
<circle class="b" cx="198.1" cy="458.7" r="3.0"/>
<circle class="b" cx="809.8" cy="414.3" r="3.0"/>
<circle class="b" cx="989.3" cy="204.5" r="3.0"/>
<circle class="b" cx="632.8" cy="308.4" r="3.0"/>
<circle class="b" cx="754.5" cy="343.4" r="3.0"/>
<circle class="b" cx="936.5" cy="250.0" r="3.0"/>
<circle class="b" cx="533.6" cy="195.2" r="3.0"/>
<circle class="b" cx="646.0" cy="341.2" r="3.0"/>
<circle class="b" cx="654.9" cy="298.6" r="3.0"/>
<circle class="b" cx="570.4" cy="366.9" r="3.0"/>
<circle class="b" cx="502.0" cy="290.5" r="3.0"/>
<circle class="b" cx="995.9" cy="229.3" r="3.0"/>
<circle class="b" cx="921.4" cy="244.6" r="3.0"/>
<circle class="b" cx="1198.7" cy="255.5" r="3.0"/>
<circle class="b" cx="1049.4" cy="310.0" r="3.0"/>
<circle class="b" cx="474.8" cy="428.0" r="3.0"/>
<circle class="b" cx="547.6" cy="375.7" r="3.0"/>
<circle class="b" cx="949.3" cy="190.6" r="3.0"/>
<circle class="b" cx="821.1" cy="152.9" r="3.0"/>
<circle class="b" cx="711.2" cy="395.7" r="3.0"/>
<circle class="b" cx="836.3" cy="152.9" r="3.0"/>
<circle class="b" cx="793.8" cy="299.7" r="3.0"/>
<circle class="b" cx="316.2" cy="297.3" r="3.0"/>
<circle class="b" cx="386.3" cy="216.4" r="3.0"/>
<circle class="b" cx="929.4" cy="187.3" r="3.0"/>
<circle class="b" cx="410.8" cy="189.6" r="3.0"/>
<circle class="b" cx="251.3" cy="336.4" r="3.0"/>
<circle class="b" cx="828.2" cy="301.1" r="3.0"/>
<circle class="b" cx="474.7" cy="428.1" r="3.0"/>
<circle class="b" cx="757.7" cy="416.1" r="3.0"/>
<circle class="b" cx="378.9" cy="428.1" r="3.0"/>
<circle class="b" cx="623.6" cy="229.3" r="3.0"/>
<circle class="b" cx="474.7" cy="171.2" r="3.0"/>
<circle class="b" cx="957.9" cy="244.6" r="3.0"/>
<circle class="b" cx="630.2" cy="359.3" r="3.0"/>
<circle class="b" cx="962.1" cy="290.5" r="3.0"/>
<circle class="b" cx="638.8" cy="270.8" r="3.0"/>
<circle class="b" cx="450.7" cy="336.4" r="3.0"/>
<circle class="b" cx="570.4" cy="321.1" r="3.0"/>
<circle class="b" cx="459.9" cy="343.4" r="3.0"/>
<circle class="b" cx="357.6" cy="183.5" r="3.0"/>
<circle class="b" cx="680.9" cy="406.9" r="3.0"/>
<circle class="b" cx="542.2" cy="233.8" r="3.0"/>
<circle class="b" cx="352.8" cy="415.6" r="3.0"/>
<circle class="b" cx="342.8" cy="338.8" r="3.0"/>
<circle class="b" cx="696.4" cy="326.7" r="3.0"/>
<circle class="b" cx="882.6" cy="272.6" r="3.0"/>
<circle class="b" cx="953.4" cy="180.4" r="3.0"/>
<circle class="b" cx="502.0" cy="408.4" r="3.0"/>
<circle class="b" cx="296.9" cy="408.4" r="3.0"/>
<circle class="b" cx="510.6" cy="307.7" r="3.0"/>
<circle class="b" cx="296.8" cy="272.4" r="2.9"/>
<circle class="b" cx="638.8" cy="349.5" r="2.9"/>
<circle class="b" cx="222.3" cy="428.1" r="2.9"/>
<circle class="b" cx="410.8" cy="318.0" r="2.9"/>
<circle class="b" cx="986.3" cy="143.8" r="2.9"/>
<circle class="b" cx="918.7" cy="239.5" r="2.9"/>
<circle class="b" cx="788.0" cy="215.4" r="2.9"/>
<circle class="b" cx="948.3" cy="181.9" r="2.9"/>
<circle class="b" cx="426.8" cy="345.5" r="2.9"/>
<circle class="b" cx="821.1" cy="205.3" r="2.9"/>
<circle class="b" cx="228.5" cy="231.5" r="2.9"/>
<circle class="b" cx="901.8" cy="152.9" r="2.9"/>
<circle class="b" cx="357.6" cy="366.9" r="2.9"/>
<circle class="b" cx="517.2" cy="351.7" r="2.9"/>
<circle class="b" cx="847.5" cy="225.3" r="2.9"/>
<circle class="b" cx="767.5" cy="233.8" r="2.9"/>
<circle class="b" cx="623.6" cy="214.1" r="2.9"/>
<circle class="b" cx="761.9" cy="221.7" r="2.9"/>
<circle class="b" cx="187.4" cy="152.9" r="2.9"/>
<circle class="b" cx="929.4" cy="256.1" r="2.9"/>
<circle class="b" cx="242.9" cy="181.9" r="2.9"/>
<circle class="b" cx="809.8" cy="376.5" r="2.9"/>
<circle class="b" cx="456.4" cy="441.2" r="2.9"/>
<circle class="b" cx="749.9" cy="324.9" r="2.9"/>
<circle class="b" cx="394.0" cy="210.8" r="2.9"/>
<circle class="b" cx="187.4" cy="207.9" r="2.9"/>
<circle class="b" cx="613.9" cy="328.0" r="2.9"/>
<circle class="b" cx="985.3" cy="281.3" r="2.9"/>
<circle class="b" cx="962.1" cy="303.0" r="2.9"/>
<circle class="b" cx="251.3" cy="474.0" r="2.9"/>
<circle class="b" cx="680.9" cy="301.1" r="2.9"/>
<circle class="b" cx="549.6" cy="224.7" r="2.9"/>
<circle class="b" cx="410.8" cy="397.5" r="2.9"/>
<circle class="b" cx="916.2" cy="230.5" r="2.9"/>
<circle class="b" cx="378.9" cy="400.6" r="2.9"/>
<circle class="b" cx="638.8" cy="428.1" r="2.9"/>
<circle class="b" cx="857.6" cy="428.1" r="2.9"/>
<circle class="b" cx="450.7" cy="324.9" r="2.9"/>
<circle class="b" cx="607.2" cy="174.1" r="2.9"/>
<circle class="b" cx="283.2" cy="483.1" r="2.9"/>
<circle class="b" cx="788.0" cy="403.1" r="2.9"/>
<circle class="b" cx="1012.2" cy="267.6" r="2.9"/>
<circle class="b" cx="464.0" cy="321.1" r="2.9"/>
<circle class="b" cx="828.2" cy="322.3" r="2.9"/>
<circle class="b" cx="1002.0" cy="192.1" r="2.9"/>
<circle class="b" cx="211.4" cy="290.5" r="2.9"/>
<circle class="b" cx="297.3" cy="288.1" r="2.9"/>
<circle class="b" cx="969.3" cy="198.8" r="2.9"/>
<circle class="b" cx="809.8" cy="204.5" r="2.9"/>
<circle class="b" cx="349.5" cy="313.9" r="2.9"/>
<circle class="b" cx="299.8" cy="368.3" r="2.9"/>
<circle class="b" cx="744.5" cy="340.5" r="2.9"/>
<circle class="b" cx="646.0" cy="399.1" r="2.9"/>
<circle class="b" cx="975.5" cy="279.9" r="2.9"/>
<circle class="b" cx="365.2" cy="192.2" r="2.9"/>
<circle class="b" cx="674.5" cy="284.5" r="2.9"/>
<circle class="b" cx="439.8" cy="378.1" r="2.9"/>
<circle class="b" cx="542.2" cy="379.5" r="2.9"/>
<circle class="b" cx="450.7" cy="376.5" r="2.9"/>
<circle class="b" cx="239.0" cy="449.3" r="2.9"/>
<circle class="b" cx="366.6" cy="325.3" r="2.8"/>
<circle class="b" cx="942.7" cy="259.9" r="2.8"/>
<circle class="b" cx="866.7" cy="349.5" r="2.8"/>
<circle class="b" cx="989.3" cy="342.1" r="2.8"/>
<circle class="b" cx="373.3" cy="395.7" r="2.8"/>
<circle class="b" cx="502.0" cy="415.0" r="2.8"/>
<circle class="b" cx="251.3" cy="416.6" r="2.8"/>
<circle class="b" cx="378.9" cy="373.1" r="2.8"/>
<circle class="b" cx="613.9" cy="253.0" r="2.8"/>
<circle class="b" cx="936.5" cy="282.4" r="2.8"/>
<circle class="b" cx="730.0" cy="318.0" r="2.8"/>
<circle class="b" cx="291.2" cy="347.8" r="2.8"/>
<circle class="b" cx="749.9" cy="204.5" r="2.8"/>
<circle class="b" cx="270.1" cy="320.6" r="2.8"/>
<circle class="b" cx="788.0" cy="240.5" r="2.8"/>
<circle class="b" cx="936.5" cy="233.8" r="2.8"/>
<circle class="b" cx="570.4" cy="376.5" r="2.8"/>
<circle class="b" cx="289.8" cy="152.9" r="2.8"/>
<circle class="b" cx="912.3" cy="388.8" r="2.8"/>
<circle class="b" cx="947.1" cy="143.4" r="2.8"/>
<circle class="b" cx="607.2" cy="385.8" r="2.8"/>
<circle class="b" cx="899.3" cy="171.8" r="2.8"/>
<circle class="b" cx="357.1" cy="309.8" r="2.8"/>
<circle class="b" cx="746.8" cy="196.4" r="2.8"/>
<circle class="b" cx="456.4" cy="192.2" r="2.8"/>
<circle class="b" cx="474.7" cy="345.5" r="2.8"/>
<circle class="b" cx="857.6" cy="373.1" r="2.8"/>
<circle class="b" cx="459.9" cy="428.1" r="2.8"/>
<circle class="b" cx="317.0" cy="185.3" r="2.8"/>
<circle class="b" cx="378.9" cy="345.5" r="2.8"/>
<circle class="b" cx="761.9" cy="276.7" r="2.8"/>
<circle class="b" cx="869.6" cy="307.7" r="2.8"/>
<circle class="b" cx="549.6" cy="499.9" r="2.8"/>
<circle class="b" cx="1017.8" cy="144.5" r="2.8"/>
<circle class="b" cx="898.9" cy="213.9" r="2.8"/>
<circle class="b" cx="538.5" cy="226.3" r="2.8"/>
<circle class="b" cx="301.7" cy="319.4" r="2.8"/>
<circle class="b" cx="948.3" cy="384.6" r="2.8"/>
<circle class="b" cx="942.7" cy="198.8" r="2.8"/>
<circle class="b" cx="788.0" cy="253.0" r="2.8"/>
<circle class="b" cx="831.5" cy="177.9" r="2.8"/>
<circle class="b" cx="889.5" cy="221.7" r="2.8"/>
<circle class="b" cx="927.0" cy="160.4" r="2.8"/>
<circle class="b" cx="293.3" cy="413.6" r="2.8"/>
<circle class="b" cx="666.1" cy="290.5" r="2.8"/>
<circle class="b" cx="542.2" cy="250.0" r="2.8"/>
<circle class="b" cx="239.0" cy="195.2" r="2.8"/>
<circle class="b" cx="456.4" cy="388.8" r="2.8"/>
<circle class="b" cx="352.8" cy="253.0" r="2.8"/>
<circle class="b" cx="714.0" cy="263.0" r="2.8"/>
<circle class="b" cx="591.2" cy="248.6" r="2.8"/>
<circle class="b" cx="274.1" cy="349.5" r="2.8"/>
<circle class="b" cx="410.8" cy="302.0" r="2.8"/>
<circle class="b" cx="948.3" cy="152.9" r="2.8"/>
<circle class="b" cx="921.4" cy="299.7" r="2.8"/>
<circle class="b" cx="638.8" cy="251.2" r="2.8"/>
<circle class="b" cx="761.9" cy="207.9" r="2.8"/>
<circle class="b" cx="1005.6" cy="228.0" r="2.7"/>
<circle class="b" cx="666.1" cy="180.4" r="2.7"/>
<circle class="b" cx="969.3" cy="290.5" r="2.7"/>
<circle class="b" cx="508.0" cy="332.4" r="2.7"/>
<circle class="b" cx="317.0" cy="250.0" r="2.7"/>
<circle class="b" cx="373.3" cy="152.9" r="2.7"/>
<circle class="b" cx="171.5" cy="496.9" r="2.7"/>
<circle class="b" cx="378.9" cy="180.4" r="2.7"/>
<circle class="b" cx="602.3" cy="189.6" r="2.7"/>
<circle class="b" cx="350.6" cy="337.3" r="2.7"/>
<circle class="b" cx="367.2" cy="329.4" r="2.7"/>
<circle class="b" cx="365.2" cy="270.8" r="2.7"/>
<circle class="b" cx="386.3" cy="322.3" r="2.7"/>
<circle class="b" cx="494.8" cy="254.3" r="2.7"/>
<circle class="b" cx="730.0" cy="305.8" r="2.7"/>
<circle class="b" cx="746.8" cy="384.6" r="2.7"/>
<circle class="b" cx="570.4" cy="207.9" r="2.7"/>
<circle class="b" cx="339.3" cy="301.4" r="2.7"/>
<circle class="b" cx="378.9" cy="263.0" r="2.7"/>
<circle class="b" cx="474.7" cy="354.7" r="2.7"/>
<circle class="b" cx="530.5" cy="290.5" r="2.7"/>
<circle class="b" cx="1010.8" cy="340.0" r="2.7"/>
<circle class="b" cx="757.7" cy="296.5" r="2.7"/>
<circle class="b" cx="995.9" cy="275.2" r="2.7"/>
<circle class="b" cx="331.1" cy="244.6" r="2.7"/>
<circle class="b" cx="650.2" cy="313.4" r="2.7"/>
<circle class="b" cx="204.3" cy="185.3" r="2.7"/>
<circle class="b" cx="711.2" cy="201.5" r="2.7"/>
<circle class="b" cx="378.9" cy="207.9" r="2.7"/>
<circle class="b" cx="942.7" cy="214.1" r="2.7"/>
<circle class="b" cx="857.6" cy="207.9" r="2.7"/>
<circle class="b" cx="459.9" cy="364.6" r="2.7"/>
<circle class="b" cx="857.6" cy="281.3" r="2.7"/>
<circle class="b" cx="239.0" cy="406.9" r="2.7"/>
<circle class="b" cx="312.6" cy="195.2" r="2.7"/>
<circle class="b" cx="985.3" cy="226.3" r="2.7"/>
<circle class="b" cx="239.0" cy="237.6" r="2.7"/>
<circle class="b" cx="410.8" cy="446.4" r="2.7"/>
<circle class="b" cx="908.1" cy="239.2" r="2.7"/>
<circle class="b" cx="997.9" cy="215.1" r="2.7"/>
<circle class="b" cx="598.6" cy="298.6" r="2.7"/>
<circle class="b" cx="924.2" cy="176.8" r="2.6"/>
<circle class="b" cx="857.6" cy="263.0" r="2.6"/>
<circle class="b" cx="985.3" cy="189.6" r="2.6"/>
<circle class="b" cx="439.8" cy="202.9" r="2.6"/>
<circle class="b" cx="526.9" cy="228.0" r="2.6"/>
<circle class="b" cx="799.3" cy="332.4" r="2.6"/>
<circle class="b" cx="274.1" cy="375.7" r="2.6"/>
<circle class="b" cx="398.1" cy="395.1" r="2.6"/>
<circle class="b" cx="602.3" cy="244.6" r="2.6"/>
<circle class="b" cx="271.2" cy="393.7" r="2.6"/>
<circle class="b" cx="823.8" cy="152.9" r="2.6"/>
<circle class="b" cx="948.1" cy="263.3" r="2.6"/>
<circle class="b" cx="998.7" cy="196.4" r="2.6"/>
<circle class="b" cx="593.2" cy="323.3" r="2.6"/>
<circle class="b" cx="730.0" cy="362.6" r="2.6"/>
<circle class="b" cx="761.9" cy="263.0" r="2.6"/>
<circle class="b" cx="1049.4" cy="336.8" r="2.6"/>
<circle class="b" cx="775.6" cy="329.8" r="2.6"/>
<circle class="b" cx="797.2" cy="152.9" r="2.6"/>
<circle class="b" cx="953.4" cy="235.5" r="2.6"/>
<circle class="b" cx="950.0" cy="267.9" r="2.6"/>
<circle class="b" cx="378.9" cy="538.2" r="2.6"/>
<circle class="b" cx="365.2" cy="179.1" r="2.6"/>
<circle class="b" cx="390.9" cy="359.3" r="2.6"/>
<circle class="b" cx="517.2" cy="428.1" r="2.6"/>
<circle class="b" cx="204.3" cy="347.2" r="2.6"/>
<circle class="b" cx="346.7" cy="272.2" r="2.6"/>
<circle class="b" cx="869.6" cy="152.9" r="2.6"/>
<circle class="b" cx="821.1" cy="231.5" r="2.6"/>
<circle class="b" cx="623.6" cy="168.2" r="2.6"/>
<circle class="b" cx="730.0" cy="321.1" r="2.6"/>
<circle class="b" cx="962.1" cy="253.0" r="2.6"/>
<circle class="b" cx="953.4" cy="400.6" r="2.6"/>
<circle class="b" cx="570.4" cy="305.8" r="2.6"/>
<circle class="b" cx="754.5" cy="364.6" r="2.6"/>
<circle class="b" cx="684.4" cy="218.4" r="2.6"/>
<circle class="b" cx="924.2" cy="224.7" r="2.6"/>
<circle class="b" cx="365.2" cy="152.9" r="2.6"/>
<circle class="b" cx="474.7" cy="483.1" r="2.5"/>
<circle class="b" cx="788.0" cy="328.0" r="2.5"/>
<circle class="b" cx="459.9" cy="279.9" r="2.5"/>
<circle class="b" cx="331.1" cy="198.8" r="2.5"/>
<circle class="b" cx="309.3" cy="177.9" r="2.5"/>
<circle class="b" cx="278.6" cy="296.1" r="2.5"/>
<circle class="b" cx="293.3" cy="152.9" r="2.5"/>
<circle class="b" cx="875.0" cy="240.5" r="2.5"/>
<circle class="b" cx="347.0" cy="409.8" r="2.5"/>
<circle class="b" cx="998.7" cy="297.7" r="2.5"/>
<circle class="b" cx="502.0" cy="310.2" r="2.5"/>
<circle class="b" cx="998.7" cy="341.2" r="2.5"/>
<circle class="b" cx="1049.4" cy="42.5" r="2.5"/>
<circle class="b" cx="365.2" cy="401.9" r="2.5"/>
<circle class="b" cx="383.1" cy="188.8" r="2.5"/>
<circle class="b" cx="570.4" cy="170.1" r="2.5"/>
<circle class="b" cx="749.9" cy="376.5" r="2.5"/>
<circle class="b" cx="198.1" cy="428.1" r="2.5"/>
<circle class="b" cx="711.2" cy="233.8" r="2.5"/>
<circle class="b" cx="995.9" cy="183.5" r="2.5"/>
<circle class="b" cx="570.4" cy="198.8" r="2.5"/>
<circle class="b" cx="242.9" cy="152.9" r="2.5"/>
<circle class="b" cx="474.7" cy="395.1" r="2.5"/>
<circle class="b" cx="788.0" cy="202.9" r="2.5"/>
<circle class="b" cx="690.1" cy="405.2" r="2.5"/>
<circle class="b" cx="809.8" cy="249.2" r="2.5"/>
<circle class="b" cx="992.8" cy="201.5" r="2.5"/>
<circle class="b" cx="410.8" cy="375.7" r="2.5"/>
<circle class="b" cx="433.6" cy="172.6" r="2.5"/>
<circle class="b" cx="875.0" cy="415.6" r="2.5"/>
<circle class="b" cx="924.9" cy="187.4" r="2.5"/>
<circle class="b" cx="228.5" cy="179.1" r="2.5"/>
<circle class="b" cx="526.9" cy="202.9" r="2.5"/>
<circle class="b" cx="485.9" cy="363.3" r="2.5"/>
<circle class="b" cx="841.0" cy="176.8" r="2.5"/>
<circle class="b" cx="378.9" cy="455.6" r="2.5"/>
<circle class="b" cx="204.3" cy="185.3" r="2.5"/>
<circle class="b" cx="275.8" cy="152.9" r="2.5"/>
<circle class="b" cx="676.8" cy="214.1" r="2.4"/>
<circle class="b" cx="797.2" cy="355.7" r="2.4"/>
<circle class="b" cx="333.5" cy="296.3" r="2.4"/>
<circle class="b" cx="439.8" cy="428.1" r="2.4"/>
<circle class="b" cx="929.4" cy="221.7" r="2.4"/>
<circle class="b" cx="312.2" cy="291.9" r="2.4"/>
<circle class="b" cx="730.0" cy="405.2" r="2.4"/>
<circle class="b" cx="666.1" cy="226.3" r="2.4"/>
<circle class="b" cx="746.8" cy="210.8" r="2.4"/>
<circle class="b" cx="365.2" cy="283.9" r="2.4"/>
<circle class="b" cx="666.1" cy="307.0" r="2.4"/>
<circle class="b" cx="1009.2" cy="279.0" r="2.4"/>
<circle class="b" cx="490.6" cy="439.6" r="2.4"/>
<circle class="b" cx="211.4" cy="410.9" r="2.4"/>
<circle class="b" cx="857.6" cy="318.0" r="2.4"/>
<circle class="b" cx="646.0" cy="254.3" r="2.4"/>
<circle class="b" cx="676.8" cy="229.3" r="2.4"/>
<circle class="b" cx="304.5" cy="290.5" r="2.4"/>
<circle class="b" cx="410.8" cy="198.8" r="2.4"/>
<circle class="b" cx="390.9" cy="496.9" r="2.4"/>
<circle class="b" cx="508.0" cy="176.8" r="2.4"/>
<circle class="b" cx="485.9" cy="201.5" r="2.4"/>
<circle class="b" cx="714.0" cy="276.7" r="2.4"/>
<circle class="b" cx="373.3" cy="331.0" r="2.4"/>
<circle class="b" cx="957.9" cy="231.5" r="2.4"/>
<circle class="b" cx="538.5" cy="299.7" r="2.4"/>
<circle class="b" cx="410.8" cy="382.2" r="2.4"/>
<circle class="b" cx="365.2" cy="192.2" r="2.4"/>
<circle class="b" cx="809.8" cy="273.3" r="2.4"/>
<circle class="b" cx="410.8" cy="275.2" r="2.4"/>
<circle class="b" cx="204.3" cy="444.3" r="2.4"/>
<circle class="b" cx="349.9" cy="299.2" r="2.4"/>
<circle class="b" cx="429.6" cy="379.5" r="2.4"/>
<circle class="b" cx="676.8" cy="244.6" r="2.4"/>
<circle class="b" cx="980.7" cy="172.6" r="2.4"/>
<circle class="b" cx="965.8" cy="308.4" r="2.4"/>
<circle class="b" cx="304.5" cy="183.5" r="2.4"/>
<circle class="b" cx="175.0" cy="368.3" r="2.4"/>
<circle class="b" cx="969.3" cy="313.4" r="2.4"/>
<circle class="b" cx="836.3" cy="366.9" r="2.4"/>
<circle class="b" cx="526.9" cy="328.0" r="2.4"/>
<circle class="b" cx="823.8" cy="282.4" r="2.4"/>
<circle class="b" cx="889.5" cy="175.8" r="2.4"/>
<circle class="b" cx="283.2" cy="409.8" r="2.4"/>
<circle class="b" cx="308.4" cy="357.3" r="2.4"/>
<circle class="b" cx="836.3" cy="214.1" r="2.4"/>
<circle class="b" cx="182.9" cy="454.3" r="2.4"/>
<circle class="b" cx="373.3" cy="379.5" r="2.4"/>
<circle class="b" cx="602.3" cy="354.7" r="2.4"/>
<circle class="b" cx="162.6" cy="152.9" r="2.4"/>
<circle class="b" cx="202.2" cy="152.9" r="2.4"/>
<circle class="b" cx="749.9" cy="170.1" r="2.4"/>
<circle class="b" cx="299.8" cy="152.9" r="2.3"/>
<circle class="b" cx="929.4" cy="359.3" r="2.3"/>
<circle class="b" cx="831.5" cy="215.4" r="2.3"/>
<circle class="b" cx="341.5" cy="152.9" r="2.3"/>
<circle class="b" cx="219.4" cy="171.2" r="2.3"/>
<circle class="b" cx="711.2" cy="185.3" r="2.3"/>
<circle class="b" cx="676.8" cy="198.8" r="2.3"/>
<circle class="b" cx="841.0" cy="416.1" r="2.3"/>
<circle class="b" cx="538.5" cy="207.9" r="2.3"/>
<circle class="b" cx="341.2" cy="332.8" r="2.3"/>
<circle class="b" cx="944.7" cy="153.5" r="2.3"/>
<circle class="b" cx="474.7" cy="400.6" r="2.3"/>
<circle class="b" cx="444.4" cy="283.3" r="2.3"/>
<circle class="b" cx="274.1" cy="152.9" r="2.3"/>
<circle class="b" cx="1005.6" cy="265.5" r="2.3"/>
<circle class="b" cx="650.2" cy="474.0" r="2.3"/>
<circle class="b" cx="426.8" cy="496.9" r="2.3"/>
<circle class="b" cx="995.9" cy="214.1" r="2.3"/>
<circle class="b" cx="410.8" cy="290.5" r="2.3"/>
<circle class="b" cx="707.2" cy="290.5" r="2.3"/>
<circle class="b" cx="235.3" cy="496.9" r="2.3"/>
<circle class="b" cx="866.7" cy="283.9" r="2.3"/>
<circle class="b" cx="410.8" cy="519.8" r="2.3"/>
<circle class="b" cx="483.4" cy="365.6" r="2.3"/>
<circle class="b" cx="321.5" cy="152.9" r="2.3"/>
<circle class="b" cx="823.8" cy="217.7" r="2.3"/>
<circle class="b" cx="714.0" cy="235.5" r="2.3"/>
<circle class="b" cx="696.4" cy="181.9" r="2.3"/>
<circle class="b" cx="793.8" cy="189.6" r="2.3"/>
<circle class="b" cx="178.7" cy="152.9" r="2.3"/>
<circle class="b" cx="378.9" cy="469.4" r="2.3"/>
<circle class="b" cx="889.5" cy="302.0" r="2.3"/>
<circle class="b" cx="690.1" cy="175.8" r="2.3"/>
<circle class="b" cx="194.3" cy="152.9" r="2.3"/>
<circle class="b" cx="968.4" cy="146.9" r="2.3"/>
<circle class="b" cx="545.2" cy="254.3" r="2.3"/>
<circle class="b" cx="502.0" cy="349.5" r="2.3"/>
<circle class="b" cx="222.3" cy="440.6" r="2.3"/>
<circle class="b" cx="337.0" cy="331.6" r="2.3"/>
<circle class="b" cx="426.8" cy="359.3" r="2.3"/>
<circle class="b" cx="901.8" cy="301.1" r="2.3"/>
<circle class="b" cx="271.2" cy="152.9" r="2.3"/>
<circle class="b" cx="456.4" cy="336.4" r="2.3"/>
<circle class="b" cx="300.9" cy="349.2" r="2.3"/>
<circle class="b" cx="206.6" cy="196.9" r="2.3"/>
<circle class="b" cx="312.6" cy="237.6" r="2.3"/>
<circle class="b" cx="783.2" cy="168.2" r="2.3"/>
<circle class="b" cx="809.8" cy="276.7" r="2.3"/>
<circle class="b" cx="889.5" cy="351.7" r="2.3"/>
<circle class="b" cx="344.2" cy="315.6" r="2.3"/>
<circle class="b" cx="901.8" cy="385.8" r="2.3"/>
<circle class="b" cx="235.3" cy="152.9" r="2.3"/>
<circle class="b" cx="630.2" cy="170.1" r="2.2"/>
<circle class="b" cx="274.1" cy="519.8" r="2.2"/>
<circle class="b" cx="836.3" cy="275.2" r="2.2"/>
<circle class="b" cx="343.6" cy="152.9" r="2.2"/>
<circle class="b" cx="502.0" cy="329.8" r="2.2"/>
<circle class="b" cx="730.0" cy="382.2" r="2.2"/>
<circle class="b" cx="151.5" cy="393.7" r="2.2"/>
<circle class="b" cx="178.7" cy="202.9" r="2.2"/>
<circle class="b" cx="474.7" cy="166.7" r="2.2"/>
<circle class="b" cx="426.8" cy="414.3" r="2.2"/>
<circle class="b" cx="155.5" cy="281.3" r="2.2"/>
<circle class="b" cx="178.7" cy="165.4" r="2.2"/>
<circle class="b" cx="1029.9" cy="195.5" r="2.2"/>
<circle class="b" cx="390.9" cy="221.7" r="2.2"/>
<circle class="b" cx="701.0" cy="303.0" r="2.2"/>
<circle class="b" cx="775.6" cy="369.1" r="2.2"/>
<circle class="b" cx="295.0" cy="294.9" r="2.2"/>
<circle class="b" cx="1001.2" cy="207.9" r="2.2"/>
<circle class="b" cx="948.3" cy="283.3" r="2.2"/>
<circle class="b" cx="545.2" cy="457.1" r="2.2"/>
<circle class="b" cx="1049.4" cy="74.8" r="2.2"/>
<circle class="b" cx="1049.4" cy="373.7" r="2.2"/>
<circle class="b" cx="390.9" cy="393.7" r="2.2"/>
<circle class="b" cx="674.5" cy="296.5" r="2.2"/>
<circle class="b" cx="570.4" cy="412.8" r="2.2"/>
<circle class="b" cx="761.9" cy="180.4" r="2.2"/>
<circle class="b" cx="542.2" cy="411.9" r="2.2"/>
<circle class="b" cx="889.7" cy="200.9" r="2.2"/>
<circle class="b" cx="809.8" cy="221.7" r="2.2"/>
<circle class="b" cx="823.8" cy="266.2" r="2.2"/>
<circle class="b" cx="775.6" cy="375.7" r="2.2"/>
<circle class="b" cx="271.2" cy="479.7" r="2.2"/>
<circle class="b" cx="921.4" cy="373.1" r="2.2"/>
<circle class="b" cx="638.8" cy="205.3" r="2.2"/>
<circle class="b" cx="204.3" cy="509.0" r="2.2"/>
<circle class="b" cx="260.7" cy="282.4" r="2.2"/>
<circle class="b" cx="211.4" cy="152.9" r="2.2"/>
<circle class="b" cx="972.5" cy="329.0" r="2.2"/>
<circle class="b" cx="343.6" cy="210.8" r="2.2"/>
<circle class="b" cx="788.0" cy="278.0" r="2.2"/>
<circle class="b" cx="788.0" cy="390.6" r="2.2"/>
<circle class="b" cx="1001.2" cy="166.7" r="2.2"/>
<circle class="b" cx="836.3" cy="351.7" r="2.2"/>
<circle class="b" cx="317.0" cy="217.7" r="2.2"/>
<circle class="b" cx="666.1" cy="400.6" r="2.2"/>
<circle class="b" cx="761.9" cy="290.5" r="2.2"/>
<circle class="b" cx="1004.9" cy="163.0" r="2.2"/>
<circle class="b" cx="618.3" cy="345.5" r="2.2"/>
<circle class="b" cx="657.4" cy="240.5" r="2.2"/>
<circle class="b" cx="793.8" cy="226.3" r="2.2"/>
<circle class="b" cx="291.1" cy="334.8" r="2.2"/>
<circle class="b" cx="1004.8" cy="251.4" r="2.2"/>
<circle class="b" cx="654.9" cy="233.8" r="2.2"/>
<circle class="b" cx="809.8" cy="166.7" r="2.2"/>
<circle class="b" cx="788.0" cy="415.6" r="2.2"/>
<circle class="b" cx="260.7" cy="152.9" r="2.1"/>
<circle class="b" cx="1007.5" cy="212.7" r="2.1"/>
<circle class="b" cx="882.6" cy="188.8" r="2.1"/>
<circle class="b" cx="989.3" cy="238.9" r="2.1"/>
<circle class="b" cx="542.2" cy="282.4" r="2.1"/>
<circle class="b" cx="775.6" cy="179.1" r="2.1"/>
<circle class="b" cx="410.8" cy="263.0" r="2.1"/>
<circle class="b" cx="570.4" cy="238.9" r="2.1"/>
<circle class="b" cx="638.8" cy="218.4" r="2.1"/>
<circle class="b" cx="336.3" cy="266.3" r="2.1"/>
<circle class="b" cx="228.5" cy="192.2" r="2.1"/>
<circle class="b" cx="464.0" cy="214.1" r="2.1"/>
<circle class="b" cx="233.5" cy="214.1" r="2.1"/>
<circle class="b" cx="972.8" cy="206.9" r="2.1"/>
<circle class="b" cx="228.5" cy="172.6" r="2.1"/>
<circle class="b" cx="296.9" cy="152.9" r="2.1"/>
<circle class="b" cx="251.3" cy="382.2" r="2.1"/>
<circle class="b" cx="211.4" cy="313.4" r="2.1"/>
<circle class="b" cx="258.2" cy="176.8" r="2.1"/>
<circle class="b" cx="260.7" cy="444.3" r="2.1"/>
<circle class="b" cx="410.8" cy="405.2" r="2.1"/>
<circle class="b" cx="613.9" cy="228.0" r="2.1"/>
<circle class="b" cx="989.3" cy="221.7" r="2.1"/>
<circle class="b" cx="542.2" cy="217.7" r="2.1"/>
<circle class="b" cx="696.4" cy="225.3" r="2.1"/>
<circle class="b" cx="187.4" cy="331.8" r="2.1"/>
<circle class="b" cx="730.0" cy="310.2" r="2.1"/>
<circle class="b" cx="946.1" cy="197.9" r="2.1"/>
<circle class="b" cx="701.0" cy="378.1" r="2.1"/>
<circle class="b" cx="351.8" cy="324.7" r="2.1"/>
<circle class="b" cx="262.7" cy="152.9" r="2.1"/>
<circle class="b" cx="490.6" cy="359.3" r="2.1"/>
<circle class="b" cx="510.6" cy="273.3" r="2.1"/>
<circle class="b" cx="690.1" cy="376.5" r="2.1"/>
<circle class="b" cx="287.5" cy="284.7" r="2.1"/>
<circle class="b" cx="657.4" cy="265.5" r="2.1"/>
<circle class="b" cx="957.4" cy="189.9" r="2.1"/>
<circle class="b" cx="888.2" cy="219.7" r="2.1"/>
<circle class="b" cx="570.4" cy="259.9" r="2.1"/>
<circle class="b" cx="926.1" cy="230.9" r="2.1"/>
<circle class="b" cx="426.8" cy="483.1" r="2.1"/>
<circle class="b" cx="570.4" cy="168.2" r="2.1"/>
<circle class="b" cx="198.1" cy="489.3" r="2.1"/>
<circle class="b" cx="182.9" cy="192.2" r="2.1"/>
<circle class="b" cx="889.5" cy="412.8" r="2.1"/>
<circle class="b" cx="666.1" cy="276.7" r="2.1"/>
<circle class="b" cx="944.4" cy="216.8" r="2.1"/>
<circle class="b" cx="730.0" cy="290.5" r="2.1"/>
<circle class="b" cx="981.1" cy="159.3" r="2.1"/>
<circle class="b" cx="767.5" cy="347.2" r="2.1"/>
<circle class="b" cx="992.8" cy="233.8" r="2.0"/>
<circle class="b" cx="206.6" cy="152.9" r="2.0"/>
<circle class="b" cx="270.7" cy="312.7" r="2.0"/>
<circle class="b" cx="335.7" cy="359.6" r="2.0"/>
<circle class="b" cx="847.5" cy="167.4" r="2.0"/>
<circle class="b" cx="450.7" cy="342.1" r="2.0"/>
<circle class="b" cx="793.8" cy="171.2" r="2.0"/>
<circle class="b" cx="701.0" cy="415.6" r="2.0"/>
<circle class="b" cx="244.9" cy="174.9" r="2.0"/>
<circle class="b" cx="365.2" cy="428.1" r="2.0"/>
<circle class="b" cx="998.7" cy="210.8" r="2.0"/>
<circle class="b" cx="809.8" cy="187.3" r="2.0"/>
<circle class="b" cx="746.8" cy="355.7" r="2.0"/>
<circle class="b" cx="474.7" cy="391.4" r="2.0"/>
<circle class="b" cx="312.6" cy="216.4" r="2.0"/>
<circle class="b" cx="650.2" cy="221.7" r="2.0"/>
<circle class="b" cx="857.6" cy="276.7" r="2.0"/>
<circle class="b" cx="533.6" cy="174.1" r="2.0"/>
<circle class="b" cx="775.6" cy="211.9" r="2.0"/>
<circle class="b" cx="627.8" cy="185.9" r="2.0"/>
<circle class="b" cx="875.0" cy="278.0" r="2.0"/>
<circle class="b" cx="357.6" cy="168.2" r="2.0"/>
<circle class="b" cx="809.8" cy="198.8" r="2.0"/>
<circle class="b" cx="676.8" cy="351.7" r="2.0"/>
<circle class="b" cx="570.4" cy="256.1" r="2.0"/>
<circle class="b" cx="450.7" cy="221.7" r="2.0"/>
<circle class="b" cx="797.2" cy="283.3" r="2.0"/>
<circle class="b" cx="352.8" cy="340.5" r="2.0"/>
<circle class="b" cx="942.7" cy="305.8" r="2.0"/>
<circle class="b" cx="793.8" cy="281.3" r="2.0"/>
<circle class="b" cx="676.8" cy="366.9" r="2.0"/>
<circle class="b" cx="228.5" cy="192.2" r="2.0"/>
<circle class="b" cx="317.0" cy="509.0" r="2.0"/>
<circle class="b" cx="283.2" cy="235.5" r="2.0"/>
<circle class="b" cx="623.6" cy="275.2" r="2.0"/>
<circle class="b" cx="836.3" cy="244.6" r="2.0"/>
<circle class="b" cx="545.2" cy="283.3" r="2.0"/>
<circle class="b" cx="1005.6" cy="303.0" r="2.0"/>
<circle class="b" cx="666.1" cy="185.9" r="2.0"/>
<circle class="b" cx="985.3" cy="244.6" r="2.0"/>
<circle class="b" cx="707.2" cy="172.6" r="2.0"/>
<circle class="b" cx="630.2" cy="393.7" r="2.0"/>
<circle class="b" cx="316.8" cy="316.5" r="2.0"/>
<circle class="b" cx="545.2" cy="196.4" r="2.0"/>
<circle class="b" cx="293.3" cy="181.9" r="2.0"/>
<circle class="b" cx="283.2" cy="196.9" r="2.0"/>
<circle class="b" cx="283.2" cy="207.9" r="2.0"/>
<circle class="b" cx="866.7" cy="179.1" r="1.9"/>
<circle class="b" cx="223.8" cy="171.9" r="1.9"/>
<circle class="b" cx="761.9" cy="373.1" r="1.9"/>
<circle class="b" cx="650.2" cy="290.5" r="1.9"/>
<circle class="b" cx="690.1" cy="187.3" r="1.9"/>
<circle class="b" cx="666.1" cy="221.7" r="1.9"/>
<circle class="b" cx="490.6" cy="405.2" r="1.9"/>
<circle class="b" cx="857.6" cy="235.5" r="1.9"/>
<circle class="b" cx="690.1" cy="290.5" r="1.9"/>
<circle class="b" cx="474.7" cy="235.5" r="1.9"/>
<circle class="b" cx="251.3" cy="267.6" r="1.9"/>
<circle class="b" cx="327.2" cy="284.5" r="1.9"/>
<circle class="b" cx="613.9" cy="278.0" r="1.9"/>
<circle class="b" cx="962.1" cy="177.9" r="1.9"/>
<circle class="b" cx="450.7" cy="187.3" r="1.9"/>
<circle class="b" cx="228.5" cy="152.9" r="1.9"/>
<circle class="b" cx="410.8" cy="501.5" r="1.9"/>
<circle class="b" cx="889.5" cy="275.2" r="1.9"/>
<circle class="b" cx="439.8" cy="253.0" r="1.9"/>
<circle class="b" cx="638.8" cy="290.5" r="1.9"/>
<circle class="b" cx="340.1" cy="279.4" r="1.9"/>
<circle class="b" cx="296.9" cy="211.9" r="1.9"/>
<circle class="b" cx="258.2" cy="176.8" r="1.9"/>
<circle class="b" cx="175.0" cy="152.9" r="1.9"/>
<circle class="b" cx="494.8" cy="457.1" r="1.9"/>
<circle class="b" cx="444.4" cy="486.0" r="1.9"/>
<circle class="b" cx="271.2" cy="256.1" r="1.9"/>
<circle class="b" cx="265.8" cy="390.6" r="1.9"/>
<circle class="b" cx="198.1" cy="474.0" r="1.9"/>
<circle class="b" cx="317.9" cy="364.0" r="1.9"/>
<circle class="b" cx="223.8" cy="152.9" r="1.9"/>
<circle class="b" cx="328.5" cy="288.5" r="1.8"/>
<circle class="b" cx="165.3" cy="449.3" r="1.8"/>
<circle class="b" cx="347.0" cy="152.9" r="1.8"/>
<circle class="b" cx="365.2" cy="467.4" r="1.8"/>
<circle class="b" cx="228.5" cy="428.1" r="1.8"/>
<circle class="b" cx="336.2" cy="301.0" r="1.8"/>
<circle class="b" cx="341.0" cy="342.8" r="1.8"/>
<circle class="b" cx="265.8" cy="202.9" r="1.8"/>
<circle class="b" cx="251.3" cy="152.9" r="1.8"/>
<circle class="b" cx="318.9" cy="286.8" r="1.8"/>
<circle class="b" cx="283.2" cy="180.4" r="1.8"/>
<circle class="b" cx="265.8" cy="177.9" r="1.8"/>
<circle class="b" cx="171.5" cy="382.2" r="1.8"/>
<circle class="b" cx="302.2" cy="353.5" r="1.8"/>
<circle class="b" cx="300.6" cy="293.9" r="1.8"/>
<circle class="b" cx="357.6" cy="281.7" r="1.8"/>
<circle class="b" cx="171.5" cy="405.2" r="1.8"/>
<circle class="b" cx="302.4" cy="346.3" r="1.7"/>
<circle class="b" cx="155.5" cy="464.8" r="1.7"/>
<circle class="b" cx="278.9" cy="281.0" r="1.7"/>
<circle class="b" cx="339.5" cy="322.5" r="1.7"/>
<circle class="b" cx="274.1" cy="205.3" r="1.7"/>
<circle class="b" cx="204.3" cy="217.7" r="1.7"/>
<circle class="b" cx="283.2" cy="464.8" r="1.7"/>
<circle class="b" cx="211.4" cy="393.7" r="1.7"/>
<circle class="b" cx="216.6" cy="200.8" r="1.7"/>
<circle class="b" cx="654.9" cy="460.5" r="1.7"/>
<circle class="b" cx="239.0" cy="174.1" r="1.7"/>
<circle class="b" cx="530.5" cy="451.0" r="1.7"/>
<circle class="b" cx="969.3" cy="451.0" r="1.7"/>
<circle class="b" cx="242.9" cy="283.3" r="1.7"/>
<circle class="b" cx="271.2" cy="187.3" r="1.6"/>
<circle class="b" cx="410.8" cy="462.5" r="1.6"/>
<circle class="b" cx="522.5" cy="455.6" r="1.6"/>
<circle class="b" cx="347.0" cy="519.8" r="1.6"/>
<circle class="b" cx="450.7" cy="462.5" r="1.6"/>
<circle class="b" cx="274.1" cy="179.1" r="1.5"/>
<circle class="b" cx="216.6" cy="152.9" r="1.5"/>
<circle class="b" cx="215.2" cy="170.7" r="1.5"/>
<circle class="b" cx="168.3" cy="152.9" r="1.5"/>
</g>

<g id="labelbg">
<rect x="164.7" y="95.8" width="92.0" height="33" fill="#fff" fill-opacity=".72"/>
<rect x="98.0" y="355.5" width="165.5" height="33" fill="#fff" fill-opacity=".72"/>
<rect x="511.8" y="103.0" width="123.0" height="33" fill="#fff" fill-opacity=".72"/>
<rect x="730.0" y="81.2" width="206.0" height="33" fill="#fff" fill-opacity=".72"/>
<rect x="1065.8" y="53.0" width="163.0" height="33" fill="#fff" fill-opacity=".72"/>
<rect x="1115.7" y="367.5" width="191.5" height="33" fill="#fff" fill-opacity=".72"/>
<rect x="936.0" y="442.0" width="170.0" height="33" fill="#fff" fill-opacity=".72"/>
<rect x="755.0" y="530.4" width="139.5" height="33" fill="#fff" fill-opacity=".72"/>
</g>
<g id="regions">
<ellipse class="dash" cx="326" cy="179" rx="178" ry="55"/>
<ellipse class="dash" cx="302.5" cy="312" rx="86.5" ry="57.5"/>
<ellipse class="dash" cx="546.5" cy="461" rx="325" ry="78"/>
<ellipse class="dash" cx="976" cy="203" rx="119" ry="104"/>
<ellipse class="dash" cx="1202.6" cy="135.7" rx="103" ry="123.5" transform="rotate(12 1202.6 135.7)"/>
<ellipse class="dash" cx="1202.5" cy="247" rx="120" ry="86.5" transform="rotate(45 1202.5 247)"/>
<polygon class="dash" points="430,140 731,140 793,252 573,381 378,256"/>
<polygon class="dash" points="453,347 1025,311.5 1025,435 453,401"/>
</g>

<g id="axes">
<path class="ax" d="M91.7,14.1V712.4M83.4,703.9H1289.7M83.4,15.3H91.7M83.4,152.9H91.7M83.4,290.5H91.7M83.4,428.1H91.7M83.4,565.7H91.7M331,703.9V712.4M570.4,703.9V712.4M809.8,703.9V712.4M1049.1,703.9V712.4M1288.4,703.9V712.4"/>
<g class="tick" text-anchor="end">
<text x="74" y="21.8">2.5</text>
<text x="74" y="159.4">2</text>
<text x="74" y="297">1.5</text>
<text x="74" y="434.6">1</text>
<text x="74" y="572.2">0.5</text>
<text x="74" y="708.5">0</text>
</g>
<g class="tick" text-anchor="middle">
<text x="91.7" y="746.3">0</text>
<text x="331" y="746.3">0.25</text>
<text x="570.4" y="746.3">0.5</text>
<text x="809.8" y="746.3">0.75</text>
<text x="1049.1" y="746.3">1</text>
<text x="1289" y="746.3">1.25</text>
</g>
<text class="axt" x="612" y="775.3" textLength="134.4" lengthAdjust="spacingAndGlyphs">O/C ratio</text>
<text class="axt" transform="translate(24.2 429) rotate(-90)" textLength="135" lengthAdjust="spacingAndGlyphs">H/C ratio</text>
</g>

<g id="labels">
<text class="lab" x="166.5" y="120.8" textLength="86" lengthAdjust="spacingAndGlyphs">Lipids</text>
<text class="lab" x="99.8" y="380.5" textLength="159.5" lengthAdjust="spacingAndGlyphs">Bitter Acids</text>
<text class="lab" x="513.6" y="128" textLength="117" lengthAdjust="spacingAndGlyphs">Peptides</text>
<text class="lab" x="731.8" y="106.2" textLength="200" lengthAdjust="spacingAndGlyphs">Carbohydrates</text>
<text class="lab" x="1067.6" y="78" textLength="157" lengthAdjust="spacingAndGlyphs">Phosphates</text>
<text class="lab" x="1117.5" y="392.5" textLength="185.5" lengthAdjust="spacingAndGlyphs">Organic acids</text>
<text class="lab" x="937.8" y="467" textLength="164" lengthAdjust="spacingAndGlyphs">Nucleotides</text>
<text class="lab" x="756.8" y="555.4" textLength="133.5" lengthAdjust="spacingAndGlyphs">Phenolics</text>
</g>

<g id="legend">
<circle class="b" cx="385.8" cy="638.5" r="10.5" style="fill-opacity:1"/>
<circle class="o" cx="514.7" cy="638.5" r="10.5" style="fill-opacity:1"/>
<circle class="g" cx="667.5" cy="638.5" r="10.5" style="fill-opacity:1"/>
<circle class="r" cx="814.3" cy="638.5" r="10.5" style="fill-opacity:1"/>
<circle class="p" cx="984.3" cy="638.5" r="10.5" style="fill-opacity:1"/>
<text class="leg" x="406.6" y="649" textLength="65.4" lengthAdjust="spacingAndGlyphs">CHO</text>
<text class="leg" x="535.6" y="649" textLength="88.4" lengthAdjust="spacingAndGlyphs">CHNO</text>
<text class="leg" x="688.1" y="649" textLength="83.2" lengthAdjust="spacingAndGlyphs">CHOS</text>
<text class="leg" x="834.7" y="649" textLength="108" lengthAdjust="spacingAndGlyphs">CHNOS</text>
<text class="leg" x="1006.4" y="649" textLength="15.6" lengthAdjust="spacingAndGlyphs">P</text>
<text x="1114.2" y="675.4" style="font-family:'Liberation Serif',serif;font-size:30px;fill:#111" textLength="174" lengthAdjust="spacingAndGlyphs">total ≈ 5,250</text>
</g>
</svg>
</body>
</html>
